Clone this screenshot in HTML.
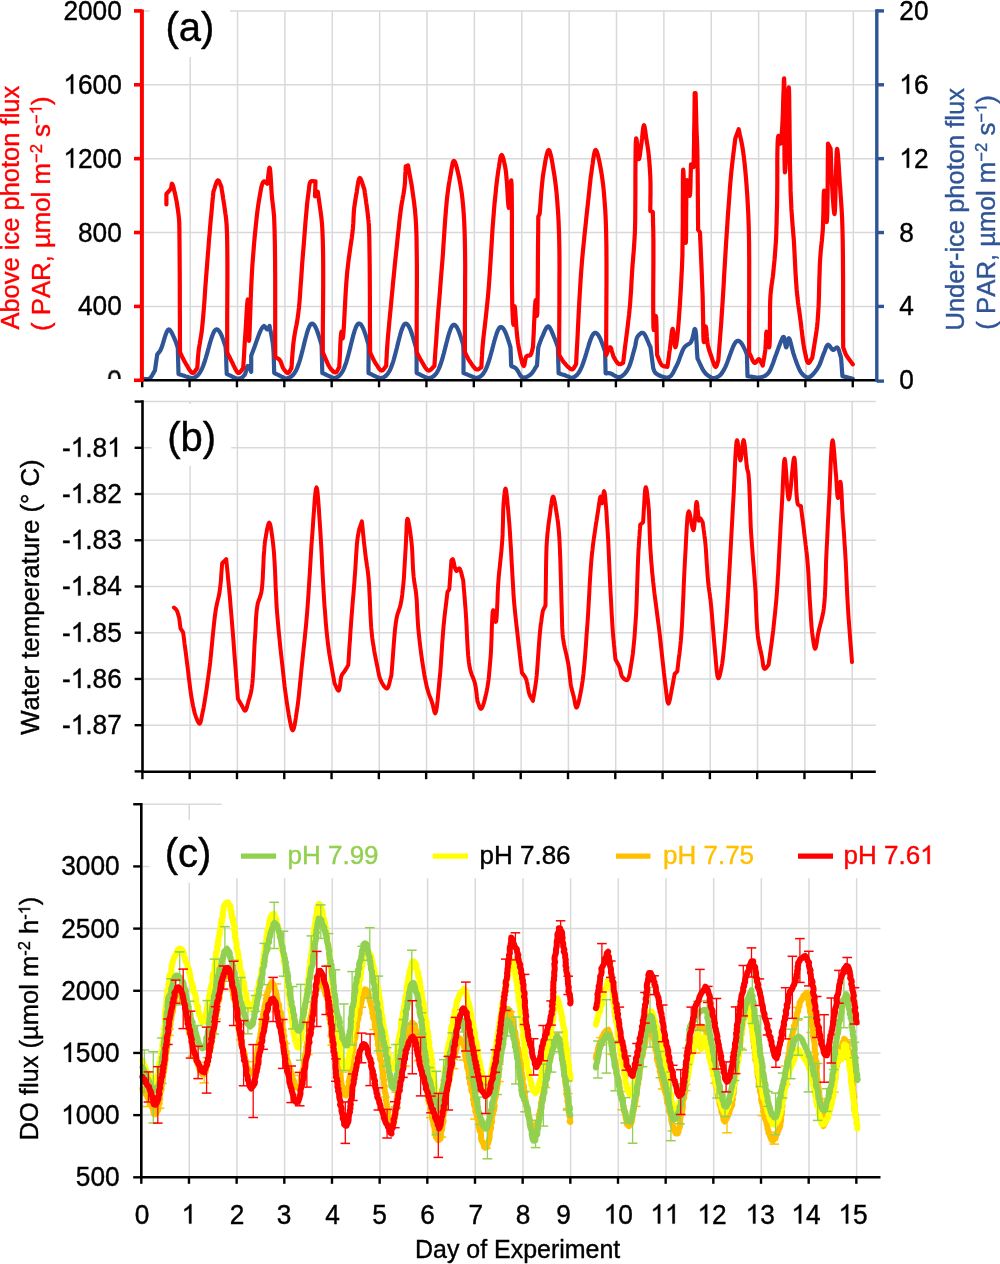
<!DOCTYPE html>
<html><head><meta charset="utf-8"><style>
html,body{margin:0;padding:0;background:#fff;}
body{width:1000px;height:1264px;overflow:hidden;}
svg{display:block;font-family:"Liberation Sans", sans-serif;will-change:transform;font-kerning:none;}
</style></head><body>
<svg width="1000" height="1264" viewBox="0 0 1000 1264">
<line x1="142.00" y1="306.42" x2="876.80" y2="306.42" stroke="#d9d9d9" stroke-width="1.5" />
<line x1="142.00" y1="232.54" x2="876.80" y2="232.54" stroke="#d9d9d9" stroke-width="1.5" />
<line x1="142.00" y1="158.66" x2="876.80" y2="158.66" stroke="#d9d9d9" stroke-width="1.5" />
<line x1="142.00" y1="84.78" x2="876.80" y2="84.78" stroke="#d9d9d9" stroke-width="1.5" />
<line x1="142.00" y1="10.90" x2="876.80" y2="10.90" stroke="#d9d9d9" stroke-width="1.5" />
<line x1="190.17" y1="10.90" x2="190.17" y2="380.30" stroke="#d9d9d9" stroke-width="1.5" />
<line x1="237.54" y1="10.90" x2="237.54" y2="380.30" stroke="#d9d9d9" stroke-width="1.5" />
<line x1="284.91" y1="10.90" x2="284.91" y2="380.30" stroke="#d9d9d9" stroke-width="1.5" />
<line x1="332.28" y1="10.90" x2="332.28" y2="380.30" stroke="#d9d9d9" stroke-width="1.5" />
<line x1="379.65" y1="10.90" x2="379.65" y2="380.30" stroke="#d9d9d9" stroke-width="1.5" />
<line x1="427.02" y1="10.90" x2="427.02" y2="380.30" stroke="#d9d9d9" stroke-width="1.5" />
<line x1="474.39" y1="10.90" x2="474.39" y2="380.30" stroke="#d9d9d9" stroke-width="1.5" />
<line x1="521.76" y1="10.90" x2="521.76" y2="380.30" stroke="#d9d9d9" stroke-width="1.5" />
<line x1="569.13" y1="10.90" x2="569.13" y2="380.30" stroke="#d9d9d9" stroke-width="1.5" />
<line x1="616.50" y1="10.90" x2="616.50" y2="380.30" stroke="#d9d9d9" stroke-width="1.5" />
<line x1="663.87" y1="10.90" x2="663.87" y2="380.30" stroke="#d9d9d9" stroke-width="1.5" />
<line x1="711.24" y1="10.90" x2="711.24" y2="380.30" stroke="#d9d9d9" stroke-width="1.5" />
<line x1="758.61" y1="10.90" x2="758.61" y2="380.30" stroke="#d9d9d9" stroke-width="1.5" />
<line x1="805.98" y1="10.90" x2="805.98" y2="380.30" stroke="#d9d9d9" stroke-width="1.5" />
<line x1="853.35" y1="10.90" x2="853.35" y2="380.30" stroke="#d9d9d9" stroke-width="1.5" />
<rect x="149.50" y="-6.00" width="80.50" height="63.00" fill="#fff"/>
<path d="M142.3,378.7 L143.7,378.8 L145.2,379.0 L146.6,379.1 L147.9,379.1 L149.2,378.7 L150.2,378.0 L151.0,377.0 L151.8,375.8 L152.6,374.5 L153.4,373.2 L154.1,371.8 L154.9,370.6 L157.2,354.6 L158.0,353.5 L158.9,352.5 L159.7,351.4 L160.6,350.0 L161.5,347.9 L162.5,345.0 L163.5,341.7 L164.5,338.2 L165.6,334.9 L166.6,332.1 L167.7,330.2 L168.7,329.4 L169.4,329.6 L170.2,330.3 L170.9,331.4 L171.7,332.7 L172.4,334.2 L173.1,335.7 L173.8,337.2 L174.4,338.5 L175.0,339.8 L175.5,341.1 L176.0,342.4 L176.4,343.7 L176.9,345.1 L177.3,346.4 L177.8,347.7 L178.5,374.0 L179.7,374.4 L181.0,374.8 L182.2,375.2 L183.5,375.6 L184.7,376.0 L185.9,376.4 L187.2,376.8 L188.6,377.3 L190.0,377.7 L191.1,378.0 L192.0,378.1 L192.6,378.1 L193.0,377.9 L193.5,377.8 L194.0,377.6 L194.5,377.4 L195.0,377.2 L195.5,376.9 L196.0,376.6 L196.5,376.3 L197.0,375.9 L197.5,375.4 L198.0,374.9 L198.5,374.4 L199.0,373.8 L199.5,373.1 L200.0,372.4 L200.5,371.5 L201.0,370.6 L201.5,369.6 L202.0,368.6 L202.5,367.4 L203.0,366.2 L203.5,364.9 L204.0,363.6 L204.3,362.6 L204.7,361.6 L205.0,360.6 L205.3,359.5 L205.7,358.4 L206.0,357.3 L206.3,356.2 L206.7,355.0 L207.0,353.9 L207.3,352.7 L207.7,351.5 L208.0,350.3 L208.3,349.0 L208.7,347.8 L209.0,346.6 L209.3,345.4 L209.7,344.2 L210.0,343.0 L210.3,341.9 L210.7,340.8 L211.0,339.6 L211.3,338.6 L211.7,337.6 L212.0,336.6 L212.5,335.2 L213.0,333.9 L213.5,332.8 L214.0,331.8 L214.5,331.0 L215.0,330.3 L215.5,329.9 L216.0,329.5 L216.5,329.4 L217.0,329.4 L217.5,329.6 L218.0,329.9 L218.5,330.4 L219.0,330.9 L219.5,331.6 L220.0,332.4 L220.5,333.3 L221.0,334.3 L221.5,335.4 L222.0,336.6 L222.5,337.9 L223.0,339.2 L223.3,340.2 L223.7,341.1 L224.0,342.1 L224.3,343.1 L224.7,344.1 L225.0,345.1 L225.3,345.8 L225.5,346.6 L225.7,348.4 L225.9,351.1 L226.1,354.4 L226.2,358.2 L226.3,362.2 L226.4,366.4 L226.6,370.3 L226.7,374.0 L228.2,374.7 L229.8,375.4 L231.4,376.2 L232.9,377.0 L234.5,377.7 L235.9,378.3 L237.3,378.6 L238.6,378.7 L240.0,378.4 L241.2,377.9 L242.4,377.2 L243.5,376.2 L244.4,375.2 L245.1,374.0 L245.6,372.5 L246.1,370.7 L246.5,369.0 L246.9,367.5 L247.3,366.4 L247.8,366.0 L248.4,366.4 L249.1,367.4 L249.8,368.9 L250.5,370.4 L251.2,371.8 L251.2,355.7 L252.8,351.6 L254.5,347.0 L256.2,342.1 L257.9,337.4 L259.5,333.1 L261.1,329.5 L262.6,327.1 L263.9,326.0 L264.8,326.4 L265.7,327.6 L266.5,328.9 L267.3,329.4 L268.1,328.7 L268.9,327.4 L269.6,326.0 L270.0,328.4 L270.5,330.8 L271.0,333.1 L271.4,335.5 L271.9,337.9 L272.3,340.3 L272.7,342.8 L273.0,345.4 L273.3,348.6 L273.5,351.9 L273.7,355.4 L273.8,358.9 L273.9,362.4 L274.0,366.0 L274.1,369.5 L274.2,373.0 L275.9,373.8 L277.7,374.7 L279.6,375.7 L281.5,376.7 L283.3,377.5 L284.8,378.2 L286.0,378.6 L286.8,378.7 L287.1,378.4 L287.4,378.1 L287.9,377.9 L288.4,377.8 L288.9,377.7 L289.4,377.5 L289.9,377.2 L290.4,377.0 L290.9,376.7 L291.4,376.4 L291.9,376.0 L292.4,375.5 L292.9,375.0 L293.4,374.5 L293.9,373.9 L294.4,373.2 L294.9,372.4 L295.4,371.6 L295.9,370.7 L296.4,369.7 L296.9,368.6 L297.4,367.4 L297.9,366.1 L298.4,364.8 L298.7,363.8 L299.1,362.8 L299.4,361.8 L299.7,360.7 L300.1,359.6 L300.4,358.4 L300.7,357.2 L301.1,356.0 L301.4,354.8 L301.7,353.5 L302.1,352.2 L302.4,350.9 L302.7,349.6 L303.1,348.3 L303.4,346.9 L303.7,345.6 L304.1,344.2 L304.4,342.8 L304.7,341.5 L305.1,340.2 L305.4,338.9 L305.7,337.6 L306.1,336.3 L306.4,335.1 L306.7,333.9 L307.1,332.7 L307.4,331.6 L307.7,330.6 L308.1,329.6 L308.4,328.7 L308.9,327.4 L309.4,326.3 L309.9,325.4 L310.4,324.6 L310.9,324.1 L311.4,323.8 L311.9,323.6 L312.4,323.6 L312.9,323.8 L313.4,324.2 L313.9,324.7 L314.4,325.3 L314.9,326.1 L315.4,327.0 L315.9,328.0 L316.4,329.1 L316.9,330.3 L317.4,331.7 L317.7,332.6 L318.1,333.6 L318.4,334.6 L318.7,335.6 L319.1,336.7 L319.4,337.8 L319.7,338.9 L320.1,340.0 L320.4,341.1 L320.8,342.4 L321.1,343.7 L321.4,344.6 L321.5,344.7 L321.5,344.9 L321.6,346.3 L321.7,348.8 L321.8,352.2 L321.9,356.2 L322.0,360.5 L322.1,364.9 L322.2,369.2 L322.3,373.0 L323.9,373.7 L325.6,374.5 L327.4,375.3 L329.2,376.1 L330.8,376.9 L332.3,377.5 L333.5,377.9 L334.4,378.1 L335.0,378.0 L335.4,377.8 L335.9,377.7 L336.4,377.5 L336.9,377.2 L337.4,377.0 L337.9,376.7 L338.4,376.4 L338.9,376.0 L339.4,375.5 L339.9,375.0 L340.4,374.5 L340.9,373.9 L341.4,373.2 L341.9,372.4 L342.4,371.6 L342.9,370.7 L343.4,369.7 L343.9,368.6 L344.4,367.4 L344.9,366.1 L345.4,364.8 L345.7,363.8 L346.1,362.8 L346.4,361.8 L346.7,360.7 L347.1,359.5 L347.4,358.4 L347.7,357.2 L348.1,356.0 L348.4,354.8 L348.7,353.5 L349.1,352.2 L349.4,350.9 L349.7,349.5 L350.1,348.2 L350.4,346.9 L350.7,345.5 L351.1,344.1 L351.4,342.8 L351.7,341.4 L352.1,340.1 L352.4,338.8 L352.7,337.5 L353.1,336.2 L353.4,335.0 L353.7,333.8 L354.1,332.7 L354.4,331.5 L354.7,330.5 L355.1,329.5 L355.4,328.6 L355.9,327.3 L356.4,326.2 L356.9,325.3 L357.4,324.5 L357.9,324.0 L358.4,323.6 L358.9,323.5 L359.4,323.6 L359.9,323.7 L360.4,324.1 L360.9,324.6 L361.4,325.2 L361.9,326.0 L362.4,326.9 L362.9,327.9 L363.4,329.0 L363.9,330.3 L364.4,331.6 L364.7,332.5 L365.1,333.5 L365.4,334.5 L365.7,335.5 L366.1,336.6 L366.4,337.7 L366.7,338.8 L367.1,339.9 L367.4,341.1 L367.7,342.0 L368.0,342.9 L368.3,344.2 L368.5,346.4 L368.6,349.3 L368.6,352.8 L368.6,356.8 L368.6,360.9 L368.5,365.1 L368.5,369.2 L368.5,373.0 L369.8,373.6 L371.1,374.2 L372.4,374.9 L373.7,375.5 L375.0,376.1 L376.2,376.7 L377.3,377.1 L378.2,377.5 L379.8,378.0 L381.1,378.1 L381.6,378.0 L382.1,377.8 L382.6,377.7 L383.1,377.5 L383.6,377.2 L384.1,377.0 L384.6,376.7 L385.1,376.4 L385.6,376.0 L386.1,375.5 L386.6,375.0 L387.1,374.5 L387.6,373.9 L388.1,373.2 L388.6,372.4 L389.1,371.6 L389.6,370.7 L390.1,369.7 L390.6,368.6 L391.1,367.4 L391.6,366.1 L392.1,364.8 L392.4,363.8 L392.8,362.8 L393.1,361.8 L393.4,360.7 L393.8,359.6 L394.1,358.4 L394.4,357.2 L394.8,356.0 L395.1,354.8 L395.4,353.5 L395.8,352.2 L396.1,350.9 L396.4,349.6 L396.8,348.3 L397.1,346.9 L397.4,345.6 L397.8,344.2 L398.1,342.8 L398.4,341.5 L398.8,340.2 L399.1,338.9 L399.4,337.6 L399.8,336.3 L400.1,335.1 L400.4,333.9 L400.8,332.7 L401.1,331.6 L401.4,330.6 L401.8,329.6 L402.1,328.7 L402.6,327.4 L403.1,326.3 L403.6,325.4 L404.1,324.6 L404.6,324.1 L405.1,323.8 L405.6,323.6 L406.1,323.6 L406.6,323.8 L407.1,324.2 L407.6,324.7 L408.1,325.3 L408.6,326.1 L409.1,327.0 L409.6,328.0 L410.1,329.1 L410.6,330.3 L411.1,331.7 L411.4,332.6 L411.8,333.6 L412.1,334.6 L412.4,335.6 L412.8,336.7 L413.1,337.8 L413.4,338.9 L413.8,340.0 L414.1,341.1 L414.4,342.3 L414.8,343.4 L415.1,344.6 L415.4,345.6 L415.8,346.7 L416.1,348.1 L416.3,350.1 L416.5,352.7 L416.5,355.7 L416.6,359.1 L416.6,362.6 L416.6,366.2 L416.6,369.7 L416.7,373.0 L417.9,373.6 L419.2,374.2 L420.5,374.9 L421.8,375.5 L423.1,376.1 L424.3,376.7 L425.3,377.1 L426.3,377.5 L427.5,377.8 L428.5,378.0 L429.3,378.1 L429.8,378.0 L430.3,377.8 L430.8,377.7 L431.3,377.5 L431.8,377.3 L432.3,377.0 L432.8,376.7 L433.3,376.4 L433.8,376.0 L434.3,375.6 L434.8,375.1 L435.3,374.6 L435.8,374.0 L436.3,373.3 L436.8,372.6 L437.3,371.8 L437.8,370.8 L438.3,369.9 L438.8,368.8 L439.3,367.6 L439.8,366.4 L440.3,365.1 L440.6,364.1 L441.0,363.1 L441.3,362.1 L441.6,361.1 L442.0,360.0 L442.3,358.9 L442.6,357.7 L443.0,356.5 L443.3,355.3 L443.6,354.1 L444.0,352.8 L444.3,351.5 L444.6,350.2 L445.0,348.9 L445.3,347.6 L445.6,346.3 L446.0,344.9 L446.3,343.6 L446.6,342.3 L447.0,341.0 L447.3,339.7 L447.6,338.5 L448.0,337.2 L448.3,336.0 L448.6,334.9 L449.0,333.7 L449.3,332.6 L449.6,331.7 L450.0,330.7 L450.3,329.8 L450.8,328.5 L451.3,327.4 L451.8,326.6 L452.3,325.8 L452.8,325.3 L453.3,324.9 L453.8,324.8 L454.3,324.8 L454.8,325.0 L455.3,325.4 L455.8,325.9 L456.3,326.5 L456.8,327.2 L457.3,328.1 L457.8,329.1 L458.3,330.2 L458.8,331.4 L459.3,332.7 L459.6,333.6 L460.0,334.6 L460.3,335.5 L460.6,336.6 L461.0,337.6 L461.3,338.6 L461.6,339.8 L462.0,340.9 L462.3,341.9 L462.7,343.1 L463.1,344.6 L463.3,346.8 L463.4,349.6 L463.5,353.1 L463.5,356.9 L463.5,361.0 L463.5,365.2 L463.5,369.3 L463.5,373.0 L464.9,373.6 L466.5,374.2 L468.0,374.9 L469.6,375.5 L471.1,376.1 L472.4,376.7 L473.6,377.1 L474.5,377.5 L475.5,377.9 L476.3,378.1 L476.8,378.0 L477.3,377.9 L477.8,377.7 L478.3,377.5 L478.8,377.3 L479.3,377.1 L479.8,376.8 L480.3,376.5 L480.8,376.1 L481.3,375.7 L481.8,375.3 L482.3,374.8 L482.8,374.2 L483.3,373.5 L483.8,372.8 L484.3,372.0 L484.8,371.2 L485.3,370.2 L485.8,369.2 L486.3,368.1 L486.8,366.9 L487.3,365.6 L487.8,364.2 L488.3,362.8 L488.6,361.8 L489.0,360.8 L489.3,359.7 L489.6,358.6 L490.0,357.4 L490.3,356.3 L490.6,355.1 L491.0,353.9 L491.3,352.6 L491.6,351.4 L492.0,350.1 L492.3,348.9 L492.6,347.6 L493.0,346.3 L493.3,345.1 L493.6,343.8 L494.0,342.5 L494.3,341.3 L494.6,340.1 L495.0,338.9 L495.3,337.8 L495.6,336.7 L496.0,335.6 L496.3,334.5 L496.8,333.1 L497.3,331.8 L497.8,330.6 L498.3,329.5 L498.8,328.7 L499.3,328.0 L499.8,327.5 L500.3,327.1 L500.8,327.0 L501.3,327.0 L501.8,327.2 L502.3,327.6 L502.8,328.0 L503.3,328.6 L503.8,329.3 L504.3,330.1 L504.8,331.1 L505.3,332.1 L505.8,333.3 L506.3,334.6 L506.8,335.9 L507.3,337.3 L507.6,338.3 L508.0,339.3 L508.3,340.3 L508.6,341.3 L509.0,342.4 L509.3,343.4 L509.7,344.6 L510.0,345.9 L510.3,346.7 L510.4,346.8 L510.4,347.0 L510.5,348.0 L510.6,349.7 L510.7,352.0 L510.8,354.7 L510.9,357.6 L511.0,360.6 L511.1,363.4 L511.2,366.0 L512.3,366.5 L513.5,367.0 L514.6,367.5 L515.8,368.3 L516.6,369.2 L517.5,370.4 L518.3,371.8 L519.1,373.3 L519.9,374.7 L520.8,376.0 L521.7,377.0 L522.7,377.5 L523.9,377.6 L525.2,377.4 L526.6,376.9 L527.9,376.3 L529.2,375.5 L530.4,374.6 L531.3,373.8 L532.2,372.8 L533.1,371.6 L533.9,370.4 L534.6,369.2 L535.4,367.9 L536.2,366.7 L537.0,365.5 L538.3,347.2 L538.8,345.9 L539.2,344.6 L539.7,343.3 L540.1,342.0 L540.6,340.7 L541.1,339.4 L541.6,338.1 L542.2,336.8 L542.9,335.3 L543.6,333.7 L544.3,331.9 L545.1,330.2 L545.9,328.7 L546.7,327.4 L547.4,326.6 L548.2,326.3 L548.9,326.6 L549.7,327.5 L550.4,328.7 L551.2,330.2 L551.9,331.9 L552.6,333.7 L553.3,335.3 L553.9,336.8 L554.5,338.1 L555.0,339.4 L555.5,340.7 L556.0,342.0 L556.5,343.3 L556.9,344.6 L557.4,345.9 L557.9,347.2 L558.6,373.3 L560.1,373.8 L561.6,374.3 L563.3,374.8 L564.9,375.3 L566.4,375.9 L567.7,376.3 L568.8,376.8 L569.6,377.2 L570.2,377.8 L570.6,378.2 L571.1,378.1 L571.6,378.0 L572.1,377.8 L572.6,377.7 L573.1,377.5 L573.6,377.3 L574.1,377.0 L574.6,376.7 L575.1,376.4 L575.6,376.1 L576.1,375.6 L576.6,375.2 L577.1,374.7 L577.6,374.1 L578.1,373.5 L578.6,372.8 L579.1,372.0 L579.6,371.2 L580.1,370.3 L580.6,369.3 L581.1,368.2 L581.6,367.1 L582.1,365.9 L582.6,364.6 L583.1,363.2 L583.6,361.8 L583.9,360.8 L584.3,359.8 L584.6,358.8 L584.9,357.7 L585.3,356.7 L585.6,355.6 L585.9,354.5 L586.3,353.3 L586.6,352.2 L586.9,351.1 L587.3,350.0 L587.6,348.8 L587.9,347.7 L588.3,346.6 L588.6,345.5 L588.9,344.4 L589.3,343.4 L589.6,342.4 L589.9,341.4 L590.3,340.4 L590.6,339.5 L591.1,338.2 L591.6,337.0 L592.1,336.0 L592.6,335.1 L593.1,334.3 L593.6,333.7 L594.1,333.2 L594.6,332.9 L595.1,332.8 L595.6,332.8 L596.1,333.0 L596.6,333.3 L597.1,333.7 L597.6,334.2 L598.1,334.9 L598.6,335.6 L599.1,336.5 L599.6,337.4 L600.1,338.4 L600.6,339.5 L601.1,340.7 L601.6,341.9 L602.1,343.3 L602.6,344.6 L603.1,346.0 L603.6,347.4 L603.9,348.4 L604.3,349.4 L604.6,350.3 L604.9,351.0 L605.1,351.7 L605.6,373.3 L606.7,373.3 L607.8,373.2 L608.9,373.2 L610.1,373.3 L611.3,373.7 L612.5,374.4 L613.9,375.2 L615.2,376.0 L616.6,376.7 L617.9,377.1 L619.2,377.2 L620.4,376.9 L621.6,376.3 L622.8,375.5 L623.9,374.5 L625.0,373.3 L626.0,372.1 L627.0,370.7 L628.3,368.5 L629.5,365.8 L630.6,362.7 L631.6,359.4 L632.5,356.0 L633.4,352.8 L634.2,349.8 L634.9,347.2 L635.3,345.7 L635.6,344.2 L635.8,342.7 L636.0,341.4 L636.3,340.1 L636.6,338.9 L637.0,337.8 L637.5,336.8 L638.4,335.6 L639.4,334.5 L640.5,333.5 L641.6,332.9 L642.7,332.8 L643.7,333.4 L644.7,334.6 L645.7,336.3 L646.6,338.4 L647.6,340.7 L648.6,343.0 L649.5,345.2 L650.5,347.2 L653.2,368.1 L653.7,369.4 L654.2,370.8 L654.8,372.1 L655.8,373.3 L656.9,374.1 L658.4,375.0 L660.1,375.8 L661.9,376.5 L663.8,377.1 L665.7,377.4 L667.3,377.5 L668.8,377.2 L670.1,376.5 L671.2,375.5 L672.2,374.1 L673.2,372.6 L674.1,370.8 L674.9,369.0 L675.8,367.2 L676.7,365.5 L677.7,363.4 L678.7,361.0 L679.6,358.4 L680.5,355.9 L681.5,353.4 L682.4,351.0 L683.4,348.9 L684.5,347.2 L685.6,346.1 L686.7,345.2 L687.9,344.5 L689.0,343.9 L690.1,343.1 L691.0,342.0 L691.7,340.5 L692.4,338.6 L692.9,336.4 L693.4,334.2 L693.8,332.2 L694.2,330.5 L694.5,329.3 L694.9,328.9 L695.4,329.8 L695.8,332.2 L696.2,335.8 L696.4,340.1 L696.7,344.9 L696.9,349.8 L697.2,354.5 L697.5,358.6 L698.5,360.5 L699.4,362.5 L700.3,364.5 L701.3,366.5 L702.2,368.5 L703.2,370.3 L704.3,371.9 L705.4,373.3 L706.5,374.4 L707.7,375.3 L709.1,376.2 L710.3,377.0 L711.5,377.6 L712.5,378.0 L713.3,378.3 L713.9,378.3 L714.3,378.1 L714.8,378.0 L715.3,377.9 L715.8,377.7 L716.3,377.5 L716.8,377.3 L717.3,377.1 L717.8,376.8 L718.3,376.5 L718.8,376.2 L719.3,375.8 L719.8,375.4 L720.3,374.9 L720.8,374.4 L721.3,373.8 L721.8,373.2 L722.3,372.5 L722.8,371.7 L723.3,370.9 L723.8,370.0 L724.3,369.1 L724.8,368.1 L725.3,367.1 L725.8,365.9 L726.3,364.8 L726.8,363.5 L727.3,362.3 L727.8,360.9 L728.3,359.6 L728.8,358.2 L729.3,356.8 L729.8,355.4 L730.3,354.0 L730.8,352.7 L731.3,351.3 L731.8,350.0 L732.3,348.7 L732.8,347.5 L733.3,346.3 L733.8,345.3 L734.3,344.3 L734.8,343.4 L735.3,342.7 L735.8,342.0 L736.3,341.5 L736.8,341.1 L737.3,340.9 L737.8,340.8 L738.3,340.8 L738.8,341.0 L739.3,341.2 L739.8,341.5 L740.3,342.0 L740.8,342.5 L741.3,343.1 L741.8,343.8 L742.3,344.6 L742.8,345.4 L743.3,346.4 L743.8,347.3 L744.3,348.4 L744.8,349.4 L745.3,350.5 L745.8,351.7 L746.3,352.9 L746.6,353.6 L746.9,354.3 L747.5,376.1 L749.1,376.3 L750.7,376.6 L752.4,376.9 L754.0,377.2 L755.6,377.4 L757.2,377.5 L758.7,377.6 L760.1,377.4 L761.6,377.1 L763.0,376.7 L764.3,376.1 L765.5,375.5 L766.7,374.6 L767.9,373.5 L769.1,371.9 L770.3,369.9 L771.3,367.5 L772.3,365.0 L773.3,362.4 L774.2,359.8 L775.0,357.4 L775.8,355.2 L776.4,353.7 L776.9,352.3 L777.4,351.0 L777.8,349.7 L778.3,348.4 L778.7,347.1 L779.2,345.9 L779.7,344.7 L780.3,343.1 L781.0,341.4 L781.7,339.7 L782.4,338.2 L783.0,337.2 L783.6,336.9 L784.0,337.4 L784.4,338.6 L784.7,340.3 L785.0,342.2 L785.3,344.1 L785.6,345.8 L785.9,346.9 L786.2,347.4 L786.6,346.9 L786.9,345.6 L787.2,343.8 L787.6,341.8 L788.0,340.0 L788.4,338.7 L788.8,338.2 L789.3,338.7 L789.9,340.0 L790.5,342.1 L791.1,344.6 L791.8,347.3 L792.5,350.1 L793.2,352.8 L794.0,355.2 L794.8,357.6 L795.7,360.1 L796.6,362.7 L797.6,365.3 L798.6,367.7 L799.6,370.0 L800.7,371.9 L801.9,373.5 L802.9,374.6 L804.0,375.6 L805.0,376.4 L806.2,377.0 L807.3,377.4 L808.4,377.4 L809.5,377.1 L810.7,376.4 L811.9,375.4 L813.2,374.1 L814.4,372.7 L815.5,371.3 L816.6,369.8 L817.6,368.3 L818.6,366.6 L819.6,364.6 L820.4,362.6 L821.2,360.5 L821.9,358.3 L822.7,356.3 L823.4,354.3 L824.1,352.6 L824.8,351.0 L825.4,349.2 L826.0,347.6 L826.6,346.2 L827.3,345.2 L828.0,344.7 L828.9,345.1 L830.0,346.4 L831.1,348.0 L832.2,349.4 L833.2,350.0 L834.2,349.6 L835.2,348.6 L836.2,347.7 L837.1,347.4 L837.7,347.9 L838.3,348.8 L838.8,350.0 L839.3,351.5 L839.7,353.1 L840.2,354.8 L840.6,356.4 L841.1,357.8 L842.4,376.1 L852.8,378.7" fill="none" stroke="#2f5597" stroke-width="4.2" stroke-linejoin="round" stroke-linecap="round" />
<path d="M166.4,204.4 L166.4,194.0 L167.4,192.9 L168.4,191.7 L169.4,190.6 L170.3,189.4 L171.0,188.3 L171.4,186.9 L171.6,185.4 L171.7,184.2 L172.0,183.7 L172.3,184.0 L172.7,184.9 L173.2,186.3 L173.7,188.1 L174.1,190.0 L174.6,192.1 L175.1,194.1 L175.5,196.0 L176.0,198.6 L176.6,201.4 L177.1,204.3 L177.5,207.4 L178.0,210.5 L178.4,213.5 L178.7,216.3 L179.0,219.0 L179.1,220.8 L179.2,222.4 L179.3,223.9 L179.3,225.4 L179.3,226.9 L179.4,228.6 L179.4,230.6 L179.4,233.0 L179.5,242.3 L179.6,254.6 L179.7,269.2 L179.8,285.3 L179.8,302.4 L179.9,319.7 L179.9,336.6 L180.0,352.3 L180.7,353.7 L181.4,355.2 L182.1,356.7 L182.9,358.2 L183.6,359.6 L184.3,361.1 L185.1,362.4 L185.9,363.8 L186.7,365.1 L187.6,366.6 L188.4,368.2 L189.3,369.6 L190.2,370.9 L191.1,372.0 L192.0,372.7 L192.8,373.0 L193.7,372.7 L194.6,371.8 L195.5,370.5 L196.4,369.2 L197.3,368.0 L197.4,366.0 L197.6,364.1 L197.7,362.1 L197.8,360.2 L197.9,358.2 L198.1,356.2 L198.3,354.1 L198.5,352.0 L198.8,349.4 L199.2,346.8 L199.7,344.1 L200.1,341.4 L200.6,338.6 L201.1,335.6 L201.6,332.4 L202.0,329.0 L202.6,323.0 L203.2,316.4 L203.8,309.2 L204.4,301.6 L204.9,293.9 L205.4,286.3 L206.0,278.9 L206.5,272.0 L207.0,266.2 L207.4,260.6 L207.8,255.1 L208.3,249.6 L208.7,244.2 L209.1,238.9 L209.6,233.6 L210.0,228.4 L210.4,223.7 L210.8,219.0 L211.3,214.4 L211.7,209.9 L212.1,205.3 L212.5,200.8 L213.0,196.3 L213.4,191.7 L214.0,190.1 L214.6,188.3 L215.1,186.4 L215.7,184.6 L216.3,182.9 L216.9,181.6 L217.4,180.7 L218.0,180.3 L218.6,180.6 L219.1,181.5 L219.7,182.8 L220.3,184.3 L220.8,185.7 L221.4,187.0 L221.8,189.9 L222.3,192.8 L222.8,195.8 L223.2,198.8 L223.7,201.7 L224.1,204.5 L224.5,207.3 L224.9,210.0 L225.2,212.0 L225.4,213.8 L225.7,215.5 L225.9,217.2 L226.1,219.0 L226.3,221.0 L226.5,223.3 L226.7,226.0 L227.1,236.0 L227.3,249.1 L227.4,264.6 L227.4,281.6 L227.3,299.7 L227.2,317.9 L227.2,335.7 L227.2,352.3 L227.8,353.6 L228.4,354.9 L229.1,356.2 L229.7,357.5 L230.3,358.8 L231.0,360.1 L231.7,361.5 L232.5,363.0 L233.3,364.8 L234.2,366.7 L235.1,368.5 L236.0,370.2 L236.9,371.6 L237.7,372.6 L238.6,373.0 L239.5,372.7 L240.5,371.8 L241.4,370.5 L242.3,369.2 L243.2,368.0 L243.5,363.4 L243.8,358.9 L244.1,354.3 L244.3,349.7 L244.6,345.2 L244.9,340.6 L245.2,336.1 L245.5,331.7 L245.8,327.1 L246.1,322.0 L246.4,316.6 L246.7,311.4 L247.0,306.8 L247.3,303.0 L247.6,300.4 L247.8,299.5 L248.0,301.3 L248.2,306.0 L248.3,312.6 L248.4,320.2 L248.5,327.7 L248.7,334.3 L248.8,339.0 L249.0,340.8 L249.3,338.5 L249.6,332.4 L249.9,323.3 L250.3,312.1 L250.7,299.7 L251.2,287.1 L251.8,275.3 L252.4,265.0 L253.1,256.2 L253.8,247.1 L254.6,237.8 L255.5,228.8 L256.4,220.1 L257.3,212.0 L258.3,204.8 L259.3,198.6 L259.8,195.7 L260.3,192.8 L260.8,190.0 L261.3,187.4 L261.9,185.2 L262.5,183.3 L263.2,182.0 L263.9,181.4 L265.0,181.7 L266.1,182.7 L267.3,183.7 L267.6,181.5 L267.9,178.9 L268.2,176.3 L268.5,173.7 L268.8,171.3 L269.1,169.4 L269.3,168.2 L269.6,167.7 L269.9,168.6 L270.2,170.9 L270.5,174.4 L270.8,178.6 L271.1,183.3 L271.3,188.0 L271.6,192.5 L271.9,196.3 L272.2,199.2 L272.5,201.8 L272.8,204.3 L273.1,206.7 L273.4,209.4 L273.7,212.2 L274.0,215.5 L274.2,219.3 L274.6,231.0 L274.9,245.6 L275.1,262.4 L275.2,280.9 L275.2,300.2 L275.2,319.8 L275.2,338.9 L275.3,356.9 L276.5,357.7 L277.7,358.4 L278.9,359.3 L279.9,360.3 L280.6,361.4 L281.1,362.8 L281.6,364.2 L282.1,365.7 L282.6,367.1 L283.3,368.3 L284.1,369.5 L285.1,370.8 L286.1,371.9 L287.0,372.7 L287.9,373.0 L288.8,372.4 L289.7,371.2 L290.5,369.7 L291.4,368.3 L291.7,364.9 L291.9,361.4 L292.2,358.0 L292.4,354.5 L292.7,351.1 L293.0,347.7 L293.3,344.2 L293.7,340.8 L294.2,337.4 L294.7,334.2 L295.3,330.9 L295.9,327.7 L296.6,324.4 L297.2,320.9 L297.8,317.2 L298.3,313.3 L299.0,307.2 L299.6,300.5 L300.1,293.5 L300.6,286.2 L301.2,278.7 L301.7,271.0 L302.2,263.5 L302.8,256.0 L303.5,247.8 L304.2,238.9 L304.9,229.7 L305.6,220.6 L306.4,211.9 L307.1,204.0 L307.9,197.1 L308.6,191.7 L308.9,189.9 L309.0,188.2 L309.2,186.6 L309.4,185.2 L309.6,184.0 L309.9,182.9 L310.3,182.0 L310.9,181.4 L311.9,181.0 L313.0,181.1 L314.3,181.3 L315.5,181.4 L315.0,196.3 L317.8,191.7 L318.4,196.1 L319.0,200.4 L319.6,204.5 L320.2,208.7 L320.8,213.0 L321.4,217.7 L321.9,222.8 L322.3,228.4 L322.8,240.4 L323.1,254.2 L323.2,269.5 L323.2,285.8 L323.1,302.6 L322.9,319.6 L322.8,336.3 L322.8,352.3 L323.7,354.4 L324.7,356.6 L325.6,358.8 L326.5,361.0 L327.5,363.1 L328.4,365.1 L329.4,366.8 L330.4,368.3 L331.4,369.6 L332.5,370.7 L333.5,371.7 L334.6,372.3 L335.5,372.5 L336.3,372.0 L337.1,371.1 L337.8,369.8 L338.5,368.4 L339.2,367.2 L339.5,362.3 L339.8,356.7 L340.1,350.8 L340.3,345.0 L340.6,339.8 L340.9,335.6 L341.2,332.8 L341.5,331.7 L341.7,332.4 L341.9,334.1 L342.1,336.1 L342.4,337.8 L342.6,338.5 L343.1,336.4 L343.6,330.9 L344.1,322.7 L344.6,312.7 L345.2,301.7 L345.8,290.7 L346.5,280.5 L347.2,272.0 L347.9,266.0 L348.6,260.0 L349.4,254.2 L350.2,248.5 L351.0,243.0 L351.8,237.8 L352.4,232.9 L352.9,228.4 L353.1,225.7 L353.3,223.2 L353.4,220.9 L353.5,218.6 L353.6,216.5 L353.7,214.3 L353.8,212.2 L354.0,210.0 L354.2,207.9 L354.5,205.9 L354.8,203.9 L355.1,201.9 L355.4,199.9 L355.7,198.0 L356.0,196.0 L356.4,194.0 L356.8,191.8 L357.1,189.3 L357.5,186.6 L357.9,184.0 L358.3,181.7 L358.8,179.8 L359.3,178.5 L359.8,178.0 L360.3,178.3 L360.8,179.2 L361.4,180.6 L362.0,182.2 L362.6,184.1 L363.2,186.0 L363.8,187.8 L364.4,189.4 L364.8,192.6 L365.3,195.9 L365.8,199.2 L366.2,202.5 L366.7,205.8 L367.1,208.9 L367.5,211.9 L367.8,214.7 L368.0,216.5 L368.2,218.1 L368.3,219.5 L368.5,220.9 L368.6,222.4 L368.8,224.1 L368.9,226.1 L369.0,228.4 L369.3,237.9 L369.5,250.6 L369.7,265.8 L369.8,282.6 L369.9,300.4 L369.9,318.4 L370.0,336.0 L370.1,352.3 L370.8,353.8 L371.5,355.3 L372.2,356.8 L372.9,358.3 L373.6,359.8 L374.4,361.2 L375.1,362.5 L375.9,363.8 L376.8,365.2 L377.8,366.7 L378.7,368.2 L379.7,369.4 L380.7,370.3 L381.6,370.6 L382.5,370.3 L383.5,369.5 L384.4,368.3 L385.3,367.1 L386.2,366.0 L386.3,363.5 L386.4,361.1 L386.5,358.7 L386.7,356.3 L386.8,353.8 L386.9,351.2 L387.1,348.4 L387.3,345.4 L387.7,340.1 L388.2,334.3 L388.8,328.0 L389.4,321.4 L390.0,314.7 L390.7,308.0 L391.3,301.3 L391.9,295.0 L392.5,289.1 L393.0,283.3 L393.6,277.5 L394.2,271.7 L394.7,266.0 L395.3,260.3 L395.9,254.6 L396.5,249.0 L397.1,243.6 L397.6,238.2 L398.2,232.8 L398.8,227.4 L399.3,222.1 L399.9,217.0 L400.5,212.3 L401.1,207.8 L401.5,204.9 L402.0,202.1 L402.5,199.6 L402.9,197.1 L403.4,194.6 L403.8,192.2 L404.2,189.7 L404.5,187.2 L404.8,184.6 L405.0,182.0 L405.1,179.5 L405.2,176.9 L405.3,174.3 L405.5,171.7 L405.6,169.1 L405.7,166.5 L408.0,165.4 L408.6,168.7 L409.2,171.9 L409.8,175.1 L410.4,178.4 L411.0,181.6 L411.6,184.9 L412.1,188.3 L412.6,191.7 L413.1,195.4 L413.6,199.0 L414.1,202.6 L414.5,206.2 L415.0,210.1 L415.3,214.3 L415.7,218.8 L416.0,223.9 L416.5,235.9 L416.7,250.0 L416.9,265.8 L416.9,282.8 L416.8,300.4 L416.7,318.2 L416.7,335.7 L416.7,352.3 L417.4,353.6 L418.1,354.9 L418.8,356.3 L419.4,357.6 L420.2,358.9 L420.9,360.2 L421.7,361.5 L422.5,362.8 L423.3,364.2 L424.1,365.7 L425.0,367.1 L425.9,368.4 L426.8,369.5 L427.7,370.3 L428.6,370.6 L429.7,370.4 L430.9,369.5 L432.1,368.4 L433.2,367.1 L434.4,366.0 L434.8,360.0 L435.2,354.1 L435.6,348.1 L436.1,342.2 L436.5,336.2 L436.9,330.2 L437.3,324.1 L437.8,317.9 L438.3,311.0 L438.9,304.0 L439.5,296.9 L440.1,289.7 L440.6,282.5 L441.2,275.2 L441.8,267.9 L442.4,260.6 L443.0,252.8 L443.5,244.6 L444.1,236.2 L444.6,227.9 L445.2,219.7 L445.8,212.0 L446.4,204.9 L447.0,198.6 L447.4,195.2 L447.8,192.0 L448.2,189.0 L448.6,186.1 L449.0,183.4 L449.5,180.8 L449.9,178.2 L450.4,175.7 L450.8,173.5 L451.2,171.0 L451.6,168.6 L452.0,166.2 L452.5,164.1 L452.9,162.4 L453.4,161.2 L453.9,160.8 L454.5,161.3 L455.2,162.7 L456.0,164.9 L456.8,167.6 L457.5,170.7 L458.3,174.0 L459.0,177.2 L459.6,180.3 L460.4,184.5 L461.1,189.0 L461.8,193.6 L462.4,198.5 L462.9,203.7 L463.4,209.3 L463.8,215.2 L464.2,221.6 L464.7,234.4 L465.0,249.1 L465.2,265.2 L465.1,282.4 L465.1,300.1 L464.9,317.9 L464.9,335.5 L464.9,352.3 L465.6,353.6 L466.3,355.0 L466.9,356.3 L467.6,357.6 L468.3,359.0 L469.1,360.3 L469.9,361.5 L470.7,362.7 L471.5,363.9 L472.4,365.2 L473.3,366.4 L474.2,367.5 L475.1,368.5 L475.9,369.1 L476.8,369.5 L478.0,369.4 L479.1,368.8 L480.3,367.9 L481.4,367.2 L481.5,364.8 L481.6,362.6 L481.7,360.3 L481.8,358.1 L482.0,355.7 L482.1,353.3 L482.3,350.6 L482.5,347.7 L483.0,342.2 L483.6,336.2 L484.4,329.6 L485.2,322.6 L486.0,315.4 L486.8,307.9 L487.6,300.3 L488.3,292.7 L489.1,283.0 L489.8,272.5 L490.5,261.7 L491.2,250.6 L491.9,239.7 L492.5,229.1 L493.3,219.1 L494.0,210.0 L494.5,204.0 L495.1,198.2 L495.7,192.5 L496.2,187.1 L496.8,182.0 L497.4,177.2 L498.0,172.8 L498.6,168.8 L499.0,166.5 L499.3,164.2 L499.7,161.9 L500.0,159.7 L500.4,157.8 L500.8,156.3 L501.2,155.4 L501.6,155.0 L502.1,155.3 L502.5,156.3 L503.1,157.8 L503.6,159.7 L504.1,161.9 L504.6,164.2 L505.1,166.5 L505.5,168.8 L506.1,173.2 L506.6,179.0 L507.1,185.4 L507.5,191.9 L507.8,198.0 L508.2,203.1 L508.5,206.5 L508.9,207.8 L509.2,206.6 L509.5,203.5 L509.8,199.1 L510.2,194.0 L510.4,189.0 L510.7,184.6 L511.0,181.5 L511.2,180.3 L511.6,184.8 L511.8,196.8 L511.9,214.1 L511.9,234.7 L511.9,256.3 L511.9,276.9 L512.1,294.3 L512.3,306.4 L512.4,309.7 L512.6,313.0 L512.7,316.1 L512.9,318.9 L513.0,321.3 L513.2,323.2 L513.4,324.4 L513.5,324.8 L513.6,324.0 L513.8,321.9 L513.9,319.0 L514.0,315.6 L514.1,312.2 L514.3,309.3 L514.4,307.2 L514.6,306.4 L514.9,307.5 L515.2,310.6 L515.5,315.1 L515.9,320.7 L516.3,326.7 L516.8,332.8 L517.4,338.3 L518.0,343.0 L518.6,346.5 L519.3,350.2 L520.1,354.1 L520.9,357.7 L521.7,361.0 L522.4,363.6 L523.2,365.4 L523.8,366.0 L524.2,365.6 L524.5,364.4 L524.8,362.7 L525.1,360.8 L525.5,359.0 L525.9,357.4 L526.5,356.3 L527.7,355.7 L529.2,355.6 L530.4,355.0 L531.0,354.1 L531.5,352.9 L531.9,351.5 L532.3,350.1 L532.6,348.6 L533.0,347.2 L533.3,340.7 L533.7,333.2 L534.0,325.4 L534.4,317.8 L534.7,310.9 L535.1,305.3 L535.4,301.6 L535.7,300.2 L535.9,300.9 L536.0,302.7 L536.2,305.2 L536.4,308.1 L536.6,310.9 L536.7,313.5 L536.9,315.2 L537.0,315.9 L537.3,313.0 L537.5,305.0 L537.7,293.2 L537.8,278.7 L537.9,262.6 L538.0,246.1 L538.2,230.5 L538.3,216.7 L539.6,214.0 L540.1,208.7 L540.5,203.3 L540.9,197.8 L541.3,192.3 L541.8,187.0 L542.3,181.8 L542.8,176.9 L543.5,172.3 L544.1,168.9 L544.7,165.2 L545.3,161.4 L546.0,157.9 L546.7,154.8 L547.4,152.3 L548.0,150.6 L548.7,150.0 L549.4,150.6 L550.0,152.2 L550.7,154.7 L551.4,157.8 L552.1,161.3 L552.7,165.0 L553.3,168.8 L553.9,172.3 L554.7,177.4 L555.4,182.7 L556.1,188.4 L556.7,194.3 L557.2,200.7 L557.7,207.3 L558.2,214.4 L558.6,221.9 L559.1,235.4 L559.4,250.6 L559.5,267.1 L559.4,284.4 L559.4,302.3 L559.3,320.2 L559.2,337.9 L559.2,355.0 L559.9,356.1 L560.6,357.3 L561.3,358.5 L562.0,359.6 L562.7,360.8 L563.5,361.9 L564.4,362.9 L565.4,364.0 L566.5,365.3 L567.7,366.6 L569.0,367.7 L570.1,368.6 L571.2,369.2 L572.2,369.4 L573.1,369.0 L573.9,368.0 L574.6,366.7 L575.4,365.4 L576.1,364.2 L576.7,352.2 L577.4,340.0 L578.0,327.7 L578.6,315.4 L579.2,303.3 L579.9,291.5 L580.6,279.9 L581.4,268.9 L582.1,260.0 L582.9,251.2 L583.8,242.6 L584.6,234.1 L585.5,226.0 L586.3,218.1 L587.1,210.7 L587.9,203.6 L588.4,198.8 L588.9,194.1 L589.4,189.7 L589.8,185.4 L590.3,181.2 L590.7,177.3 L591.3,173.4 L591.8,169.7 L592.2,166.7 L592.7,163.5 L593.1,160.2 L593.6,157.1 L594.1,154.3 L594.6,152.0 L595.1,150.6 L595.7,150.0 L596.3,150.5 L596.9,151.9 L597.6,154.1 L598.3,156.8 L599.0,159.9 L599.7,163.2 L600.3,166.5 L600.9,169.7 L601.7,174.4 L602.4,179.4 L603.1,184.7 L603.7,190.4 L604.2,196.3 L604.7,202.7 L605.2,209.5 L605.6,216.7 L606.1,230.5 L606.4,246.1 L606.5,263.2 L606.5,281.3 L606.4,299.9 L606.3,318.7 L606.2,337.2 L606.2,355.0 L606.9,353.5 L607.5,351.8 L608.2,350.1 L608.8,348.6 L609.5,347.6 L610.1,347.2 L610.6,347.5 L611.1,348.4 L611.5,349.7 L611.9,351.3 L612.4,353.0 L612.9,354.7 L613.4,356.3 L614.0,357.6 L614.8,358.9 L615.6,360.3 L616.5,361.7 L617.4,362.8 L618.3,363.7 L619.2,364.2 L620.5,364.1 L621.8,363.5 L623.1,362.9 L624.0,356.0 L624.8,349.0 L625.7,341.9 L626.6,334.9 L627.5,327.9 L628.3,321.1 L629.1,314.4 L629.7,308.0 L630.2,302.8 L630.5,297.7 L630.9,292.8 L631.2,288.0 L631.4,283.2 L631.7,278.4 L632.0,273.7 L632.3,268.9 L632.6,264.4 L633.0,260.1 L633.3,255.8 L633.7,251.6 L634.0,247.2 L634.3,242.6 L634.6,237.7 L634.9,232.3 L635.2,221.4 L635.3,207.5 L635.4,192.0 L635.4,176.3 L635.5,161.7 L635.6,149.6 L635.8,141.4 L636.2,138.3 L636.5,139.2 L636.8,141.5 L637.1,144.9 L637.4,148.7 L637.7,152.6 L638.1,155.9 L638.4,158.3 L638.8,159.2 L639.1,158.8 L639.4,157.5 L639.8,155.7 L640.1,153.4 L640.4,150.9 L640.8,148.3 L641.1,145.8 L641.4,143.6 L641.7,141.1 L642.1,138.3 L642.4,135.2 L642.7,132.3 L643.0,129.6 L643.3,127.3 L643.7,125.8 L644.0,125.3 L644.3,125.7 L644.6,126.9 L644.9,128.7 L645.3,130.9 L645.6,133.3 L645.9,135.7 L646.2,138.0 L646.5,140.0 L646.8,141.6 L647.0,143.2 L647.3,144.7 L647.6,146.2 L647.8,147.8 L648.0,149.4 L648.3,151.2 L648.5,153.0 L648.8,155.9 L649.1,159.0 L649.4,162.3 L649.6,165.8 L649.9,169.3 L650.1,172.9 L650.3,176.5 L650.4,180.0 L650.5,183.8 L650.5,187.6 L650.5,191.5 L650.5,195.4 L650.4,199.3 L650.4,203.2 L650.3,207.1 L650.3,211.0 L652.8,212.0 L652.9,215.4 L653.0,218.6 L653.0,221.8 L653.1,225.0 L653.2,228.3 L653.3,231.9 L653.3,235.7 L653.4,240.0 L653.4,250.0 L653.4,263.1 L653.3,277.9 L653.2,293.0 L653.2,307.2 L653.3,318.9 L653.4,327.0 L653.8,330.0 L654.0,329.4 L654.2,327.8 L654.5,325.5 L654.8,323.0 L655.1,320.4 L655.3,318.1 L655.6,316.5 L655.8,315.9 L656.1,317.1 L656.3,320.2 L656.5,324.9 L656.6,330.6 L656.7,336.9 L656.8,343.4 L657.0,349.6 L657.1,355.0 L657.7,356.4 L658.3,357.9 L658.9,359.4 L659.5,360.9 L660.1,362.3 L660.8,363.6 L661.5,364.7 L662.3,365.5 L663.5,366.2 L664.8,366.4 L666.2,366.6 L667.5,366.8 L667.8,364.3 L668.1,361.9 L668.5,359.4 L668.8,357.0 L669.1,354.5 L669.4,352.1 L669.8,349.6 L670.1,347.2 L670.4,344.6 L670.7,341.7 L671.1,338.7 L671.4,335.7 L671.7,333.1 L672.0,330.9 L672.4,329.4 L672.7,328.9 L673.0,329.7 L673.4,331.8 L673.7,334.7 L674.0,338.1 L674.4,341.4 L674.7,344.4 L675.0,346.4 L675.4,347.2 L676.2,345.0 L677.1,338.8 L678.0,329.7 L678.9,318.4 L679.8,305.8 L680.6,292.8 L681.3,280.2 L681.9,268.9 L682.4,255.7 L682.6,240.3 L682.8,223.9 L682.8,207.6 L682.9,192.9 L682.9,180.8 L683.0,172.7 L683.2,169.7 L683.5,172.8 L683.8,181.1 L684.1,192.8 L684.5,206.2 L684.9,219.7 L685.2,231.4 L685.5,239.7 L685.8,242.8 L686.0,240.1 L686.1,233.0 L686.1,223.0 L686.2,211.5 L686.3,200.0 L686.4,189.9 L686.7,182.8 L687.1,180.1 L687.4,180.8 L687.7,182.5 L688.0,185.1 L688.4,187.9 L688.8,190.8 L689.1,193.4 L689.4,195.1 L689.7,195.8 L690.0,194.9 L690.2,192.3 L690.4,188.6 L690.5,184.0 L690.6,178.9 L690.7,173.7 L690.9,168.8 L691.0,164.4 L693.6,167.0 L693.7,161.7 L693.8,156.4 L693.9,151.0 L694.0,145.6 L694.1,140.3 L694.1,135.1 L694.2,130.0 L694.3,125.0 L694.4,120.8 L694.4,116.7 L694.5,112.7 L694.5,108.7 L694.6,104.8 L694.6,100.9 L694.7,97.0 L694.7,93.0 L695.6,93.0 L695.7,97.0 L695.8,101.1 L695.9,105.2 L696.0,109.2 L696.1,113.3 L696.2,117.3 L696.3,121.2 L696.4,125.0 L696.5,128.2 L696.6,131.3 L696.7,134.3 L696.9,137.3 L697.0,140.3 L697.1,143.4 L697.2,146.6 L697.3,150.0 L697.4,154.6 L697.5,159.3 L697.5,164.3 L697.6,169.4 L697.7,174.6 L697.7,179.8 L697.8,184.9 L697.8,190.0 L697.8,195.0 L697.9,199.9 L697.9,204.9 L698.0,209.9 L698.0,214.8 L698.0,219.8 L698.1,224.7 L698.1,229.7 L700.0,232.4 L700.3,240.3 L700.7,248.3 L701.0,256.3 L701.4,264.3 L701.7,272.2 L702.0,280.1 L702.3,287.7 L702.6,295.1 L702.8,301.9 L702.9,309.5 L703.1,317.3 L703.2,324.9 L703.3,331.6 L703.4,337.1 L703.6,340.8 L703.9,342.1 L704.1,341.4 L704.3,339.7 L704.5,337.2 L704.7,334.3 L705.0,331.4 L705.2,328.9 L705.5,327.2 L705.7,326.5 L705.9,327.1 L706.2,328.6 L706.4,330.8 L706.6,333.5 L706.8,336.5 L707.1,339.5 L707.4,342.3 L707.8,344.7 L708.2,346.5 L708.6,348.2 L709.1,349.9 L709.6,351.6 L710.2,353.2 L710.7,354.8 L711.3,356.3 L711.8,357.8 L712.3,359.4 L712.9,361.1 L713.5,362.8 L714.1,364.4 L714.6,365.8 L715.2,366.7 L715.7,367.0 L716.3,366.5 L716.8,365.3 L717.3,363.7 L717.8,361.9 L718.3,360.4 L718.8,353.9 L719.3,347.5 L719.8,341.1 L720.3,334.7 L720.8,328.2 L721.3,321.7 L721.7,315.0 L722.2,308.2 L722.7,300.4 L723.2,292.4 L723.7,284.4 L724.1,276.2 L724.6,267.9 L725.1,259.6 L725.6,251.2 L726.1,242.9 L726.7,234.0 L727.3,224.8 L727.9,215.5 L728.6,206.2 L729.3,197.0 L729.9,188.2 L730.6,179.9 L731.3,172.3 L731.8,167.5 L732.3,163.0 L732.8,158.7 L733.3,154.6 L733.8,150.6 L734.3,146.6 L734.8,142.6 L735.3,138.4 L738.7,129.2 L739.3,131.9 L739.8,134.5 L740.4,137.0 L741.0,139.6 L741.5,142.2 L742.1,145.0 L742.6,148.1 L743.1,151.4 L743.9,157.5 L744.7,164.2 L745.4,171.5 L746.1,179.2 L746.7,187.4 L747.3,195.9 L747.8,204.9 L748.3,214.1 L748.8,228.8 L749.1,244.9 L749.2,262.1 L749.2,280.0 L749.2,298.3 L749.1,316.7 L749.1,334.9 L749.1,352.6 L749.8,354.0 L750.6,355.6 L751.3,357.3 L752.0,359.0 L752.7,360.5 L753.5,361.7 L754.2,362.6 L754.9,363.0 L755.9,362.4 L756.9,361.1 L757.9,359.7 L758.8,359.1 L759.5,359.5 L760.2,360.4 L760.8,361.6 L761.4,363.0 L762.1,364.4 L762.7,365.6 L763.0,363.7 L763.4,361.7 L763.7,359.8 L764.1,357.9 L764.4,355.9 L764.7,354.0 L765.0,352.0 L765.3,350.0 L765.5,347.5 L765.7,344.7 L765.8,341.7 L766.0,338.7 L766.1,336.0 L766.2,333.8 L766.4,332.3 L766.6,331.7 L766.9,332.4 L767.2,334.1 L767.5,336.7 L767.9,339.6 L768.3,342.4 L768.6,345.0 L768.9,346.7 L769.2,347.4 L769.5,345.7 L769.8,341.1 L769.9,334.4 L769.9,326.3 L770.0,317.6 L770.0,308.9 L770.2,301.2 L770.5,295.1 L770.8,292.1 L771.1,289.3 L771.4,286.8 L771.7,284.3 L772.1,281.9 L772.4,279.5 L772.8,277.0 L773.1,274.2 L773.5,270.6 L773.8,266.9 L774.2,263.1 L774.6,259.2 L774.9,255.3 L775.2,251.2 L775.5,247.1 L775.8,242.9 L776.1,238.0 L776.3,233.1 L776.4,228.1 L776.6,223.0 L776.7,217.7 L776.8,212.3 L777.0,206.8 L777.1,201.1 L777.2,192.7 L777.3,182.8 L777.3,172.0 L777.3,161.3 L777.4,151.4 L777.6,143.4 L777.9,137.9 L778.4,135.8 L778.7,136.4 L779.1,137.8 L779.4,139.7 L779.8,141.6 L780.2,143.0 L780.5,143.6 L780.8,143.1 L781.1,141.8 L781.3,139.8 L781.5,137.2 L781.7,134.4 L781.9,131.3 L782.1,128.2 L782.3,125.3 L782.6,119.8 L782.9,112.9 L783.1,105.1 L783.3,97.3 L783.6,90.0 L783.8,83.9 L783.9,79.8 L784.1,78.3 L784.3,82.3 L784.4,93.0 L784.4,108.0 L784.4,125.3 L784.4,142.6 L784.5,157.6 L784.7,168.3 L784.9,172.3 L785.1,171.4 L785.4,168.8 L785.6,164.9 L785.9,160.0 L786.2,154.6 L786.5,149.0 L786.8,143.4 L787.0,138.4 L787.3,131.8 L787.5,124.0 L787.8,115.6 L788.0,107.2 L788.2,99.5 L788.4,93.2 L788.6,89.0 L788.8,87.4 L789.0,90.0 L789.2,97.1 L789.3,107.5 L789.5,120.2 L789.6,133.8 L789.8,147.4 L789.9,159.7 L790.1,169.7 L790.2,175.3 L790.4,180.6 L790.5,185.6 L790.6,190.4 L790.8,195.0 L791.0,199.6 L791.2,204.2 L791.4,208.9 L791.7,213.2 L792.0,217.4 L792.3,221.6 L792.6,225.7 L793.0,229.9 L793.3,234.1 L793.7,238.4 L794.0,242.9 L794.3,248.5 L794.6,254.3 L794.9,260.4 L795.2,266.5 L795.5,272.6 L795.9,278.6 L796.3,284.4 L796.7,289.9 L797.1,294.1 L797.6,298.2 L798.0,302.2 L798.5,306.0 L799.1,309.8 L799.6,313.6 L800.1,317.4 L800.6,321.2 L801.1,324.9 L801.5,328.8 L802.0,332.6 L802.4,336.4 L802.9,340.1 L803.4,343.6 L803.9,347.0 L804.5,350.0 L804.9,352.1 L805.4,354.2 L805.8,356.3 L806.3,358.4 L806.7,360.1 L807.3,361.6 L807.8,362.6 L808.4,363.0 L809.1,362.7 L809.9,361.8 L810.7,360.4 L811.5,359.0 L812.3,357.8 L813.0,353.3 L813.7,348.9 L814.4,344.5 L815.1,340.1 L815.8,335.7 L816.5,331.1 L817.1,326.3 L817.6,321.2 L818.1,314.0 L818.6,306.2 L818.9,297.9 L819.1,289.4 L819.3,281.0 L819.6,272.9 L819.8,265.3 L820.2,258.5 L820.5,254.4 L820.8,250.6 L821.2,247.1 L821.5,243.7 L821.9,240.4 L822.2,237.0 L822.5,233.5 L822.8,229.8 L823.0,224.7 L823.2,218.6 L823.4,212.1 L823.5,205.7 L823.6,199.8 L823.7,195.0 L823.9,191.8 L824.1,190.6 L824.4,191.9 L824.7,195.5 L825.0,200.5 L825.4,206.3 L825.8,212.1 L826.1,217.1 L826.4,220.7 L826.7,222.0 L827.0,219.7 L827.3,213.4 L827.4,204.1 L827.6,192.6 L827.7,179.9 L827.8,166.9 L827.9,154.5 L828.0,143.6 L830.6,148.8 L830.8,153.1 L830.9,157.3 L831.0,161.6 L831.2,165.9 L831.3,170.2 L831.5,174.4 L831.7,178.6 L831.9,182.8 L832.2,187.2 L832.5,192.2 L832.8,197.4 L833.2,202.5 L833.5,207.0 L833.9,210.7 L834.2,213.2 L834.5,214.1 L834.9,211.3 L835.2,203.9 L835.5,193.4 L835.8,181.4 L836.1,169.5 L836.4,159.0 L836.7,151.6 L837.1,148.8 L837.4,149.8 L837.7,152.4 L838.1,156.4 L838.4,161.3 L838.8,166.7 L839.1,172.4 L839.5,177.9 L839.8,182.8 L840.2,187.9 L840.5,193.0 L840.9,198.1 L841.2,203.3 L841.6,208.7 L841.9,214.4 L842.2,220.6 L842.4,227.2 L842.7,239.4 L842.9,253.1 L843.0,268.0 L843.1,283.6 L843.1,299.7 L843.1,316.0 L843.1,332.0 L843.2,347.4 L843.7,348.7 L844.1,350.0 L844.6,351.3 L845.1,352.6 L845.6,353.9 L846.3,355.2 L847.0,356.3 L847.7,357.5 L848.5,358.6 L849.4,359.7 L850.2,360.9 L851.1,362.0 L852.0,363.2 L852.8,364.3" fill="none" stroke="#ff0000" stroke-width="4.2" stroke-linejoin="round" stroke-linecap="round" />
<line x1="142.00" y1="380.30" x2="876.80" y2="380.30" stroke="#000" stroke-width="2.6" />
<line x1="142.20" y1="380.30" x2="142.20" y2="387.30" stroke="#000" stroke-width="2.4" />
<line x1="189.57" y1="380.30" x2="189.57" y2="387.30" stroke="#000" stroke-width="2.4" />
<line x1="236.94" y1="380.30" x2="236.94" y2="387.30" stroke="#000" stroke-width="2.4" />
<line x1="284.31" y1="380.30" x2="284.31" y2="387.30" stroke="#000" stroke-width="2.4" />
<line x1="331.68" y1="380.30" x2="331.68" y2="387.30" stroke="#000" stroke-width="2.4" />
<line x1="379.05" y1="380.30" x2="379.05" y2="387.30" stroke="#000" stroke-width="2.4" />
<line x1="426.42" y1="380.30" x2="426.42" y2="387.30" stroke="#000" stroke-width="2.4" />
<line x1="473.79" y1="380.30" x2="473.79" y2="387.30" stroke="#000" stroke-width="2.4" />
<line x1="521.16" y1="380.30" x2="521.16" y2="387.30" stroke="#000" stroke-width="2.4" />
<line x1="568.53" y1="380.30" x2="568.53" y2="387.30" stroke="#000" stroke-width="2.4" />
<line x1="615.90" y1="380.30" x2="615.90" y2="387.30" stroke="#000" stroke-width="2.4" />
<line x1="663.27" y1="380.30" x2="663.27" y2="387.30" stroke="#000" stroke-width="2.4" />
<line x1="710.64" y1="380.30" x2="710.64" y2="387.30" stroke="#000" stroke-width="2.4" />
<line x1="758.01" y1="380.30" x2="758.01" y2="387.30" stroke="#000" stroke-width="2.4" />
<line x1="805.38" y1="380.30" x2="805.38" y2="387.30" stroke="#000" stroke-width="2.4" />
<line x1="852.75" y1="380.30" x2="852.75" y2="387.30" stroke="#000" stroke-width="2.4" />
<line x1="141.90" y1="9.40" x2="141.90" y2="381.80" stroke="#ff0000" stroke-width="4" />
<line x1="134.00" y1="380.30" x2="142.00" y2="380.30" stroke="#ff0000" stroke-width="3.6" />
<line x1="134.00" y1="306.42" x2="142.00" y2="306.42" stroke="#ff0000" stroke-width="3.6" />
<line x1="134.00" y1="232.54" x2="142.00" y2="232.54" stroke="#ff0000" stroke-width="3.6" />
<line x1="134.00" y1="158.66" x2="142.00" y2="158.66" stroke="#ff0000" stroke-width="3.6" />
<line x1="134.00" y1="84.78" x2="142.00" y2="84.78" stroke="#ff0000" stroke-width="3.6" />
<line x1="134.00" y1="10.90" x2="142.00" y2="10.90" stroke="#ff0000" stroke-width="3.6" />
<line x1="876.80" y1="9.20" x2="876.80" y2="382.00" stroke="#2f5597" stroke-width="3.4" />
<line x1="876.80" y1="381.10" x2="884.00" y2="381.10" stroke="#2f5597" stroke-width="3.4" />
<line x1="876.80" y1="306.42" x2="884.00" y2="306.42" stroke="#2f5597" stroke-width="3.4" />
<line x1="876.80" y1="232.54" x2="884.00" y2="232.54" stroke="#2f5597" stroke-width="3.4" />
<line x1="876.80" y1="158.66" x2="884.00" y2="158.66" stroke="#2f5597" stroke-width="3.4" />
<line x1="876.80" y1="84.78" x2="884.00" y2="84.78" stroke="#2f5597" stroke-width="3.4" />
<line x1="876.80" y1="10.90" x2="884.00" y2="10.90" stroke="#2f5597" stroke-width="3.4" />
<text transform="translate(121.80,315.42) scale(0.965,1)" font-size="27.2" text-anchor="end" fill="#000" stroke="#000" stroke-width="0.4">400</text>
<text transform="translate(121.80,241.54) scale(0.965,1)" font-size="27.2" text-anchor="end" fill="#000" stroke="#000" stroke-width="0.4">800</text>
<text transform="translate(121.80,167.66) scale(0.965,1)" font-size="27.2" text-anchor="end" fill="#000" stroke="#000" stroke-width="0.4"> 200</text>
<path d="M73.19,167.66 L70.88,167.66 L70.88,152.43 Q70.05,153.25 68.66,154.07 Q67.38,154.83 66.27,155.28 L66.27,152.97 Q68.20,152.03 69.64,150.77 Q71.07,149.50 71.66,148.19 L73.19,148.19 Z" fill="#000" stroke="#000" stroke-width="0.4"/>
<text transform="translate(121.80,93.78) scale(0.965,1)" font-size="27.2" text-anchor="end" fill="#000" stroke="#000" stroke-width="0.4"> 600</text>
<path d="M73.19,93.78 L70.88,93.78 L70.88,78.55 Q70.05,79.37 68.66,80.19 Q67.38,80.95 66.27,81.40 L66.27,79.09 Q68.20,78.15 69.64,76.89 Q71.07,75.62 71.66,74.31 L73.19,74.31 Z" fill="#000" stroke="#000" stroke-width="0.4"/>
<text transform="translate(121.80,19.90) scale(0.965,1)" font-size="27.2" text-anchor="end" fill="#000" stroke="#000" stroke-width="0.4">2000</text>
<svg x="0" y="0" width="200" height="378.8" overflow="hidden"><text transform="translate(121.8,389.30) scale(0.965,1)" font-size="27.2" text-anchor="end" stroke="#000" stroke-width="0.4">0</text></svg>
<text transform="translate(899.30,389.30) scale(0.965,1)" font-size="27.2" text-anchor="start" fill="#000" stroke="#000" stroke-width="0.4">0</text>
<text transform="translate(899.30,315.42) scale(0.965,1)" font-size="27.2" text-anchor="start" fill="#000" stroke="#000" stroke-width="0.4">4</text>
<text transform="translate(899.30,241.54) scale(0.965,1)" font-size="27.2" text-anchor="start" fill="#000" stroke="#000" stroke-width="0.4">8</text>
<text transform="translate(899.30,167.66) scale(0.965,1)" font-size="27.2" text-anchor="start" fill="#000" stroke="#000" stroke-width="0.4"> 2</text>
<path d="M909.08,167.66 L906.77,167.66 L906.77,152.43 Q905.94,153.25 904.55,154.07 Q903.27,154.83 902.16,155.28 L902.16,152.97 Q904.09,152.03 905.53,150.77 Q906.96,149.50 907.55,148.19 L909.08,148.19 Z" fill="#000" stroke="#000" stroke-width="0.4"/>
<text transform="translate(899.30,93.78) scale(0.965,1)" font-size="27.2" text-anchor="start" fill="#000" stroke="#000" stroke-width="0.4"> 6</text>
<path d="M909.08,93.78 L906.77,93.78 L906.77,78.55 Q905.94,79.37 904.55,80.19 Q903.27,80.95 902.16,81.40 L902.16,79.09 Q904.09,78.15 905.53,76.89 Q906.96,75.62 907.55,74.31 L909.08,74.31 Z" fill="#000" stroke="#000" stroke-width="0.4"/>
<text transform="translate(899.30,19.90) scale(0.965,1)" font-size="27.2" text-anchor="start" fill="#000" stroke="#000" stroke-width="0.4">20</text>
<text transform="translate(19.2,329.6) rotate(-90)" font-size="25.5" fill="#ff0000" stroke="#ff0000" stroke-width="0.4">Above ice photon flux</text>
<g transform="translate(49.60,331.00) rotate(-90)"><text x="0" y="0" fill="#ff0000" stroke="#ff0000" stroke-width="0.4"><tspan font-size="25.75" dy="-0.00">( PAR, µmol m</tspan><tspan font-size="16.66" dy="-8.09">−2</tspan><tspan font-size="25.75" dy="8.09"> s</tspan><tspan font-size="16.66" dy="-8.09">− </tspan><tspan font-size="25.75" dy="8.09">)</tspan></text><path d="M222.88,-8.09 L221.41,-8.09 L221.41,-17.42 Q220.88,-16.92 220.00,-16.41 Q219.19,-15.95 218.48,-15.67 L218.48,-17.09 Q219.71,-17.66 220.62,-18.44 Q221.53,-19.21 221.91,-20.02 L222.88,-20.02 Z" fill="#ff0000" stroke="#ff0000" stroke-width="0.4"/></g>
<text transform="translate(963.8,330.5) rotate(-90)" font-size="25.5" fill="#2f5597" stroke="#2f5597" stroke-width="0.4">Under-ice  photon flux</text>
<g transform="translate(994.60,329.70) rotate(-90)"><text x="0" y="0" fill="#2f5597" stroke="#2f5597" stroke-width="0.4"><tspan font-size="25.75" dy="-0.00">( PAR, µmol m</tspan><tspan font-size="16.66" dy="-8.09">−2</tspan><tspan font-size="25.75" dy="8.09"> s</tspan><tspan font-size="16.66" dy="-8.09">− </tspan><tspan font-size="25.75" dy="8.09">)</tspan></text><path d="M222.88,-8.09 L221.41,-8.09 L221.41,-17.42 Q220.88,-16.92 220.00,-16.41 Q219.19,-15.95 218.48,-15.67 L218.48,-17.09 Q219.71,-17.66 220.62,-18.44 Q221.53,-19.21 221.91,-20.02 L222.88,-20.02 Z" fill="#2f5597" stroke="#2f5597" stroke-width="0.4"/></g>
<text x="165.40" y="40.80" font-size="40" text-anchor="start" fill="#000"  stroke="#000" stroke-width="0.4">(a)</text>
<line x1="142.50" y1="401.57" x2="875.80" y2="401.57" stroke="#d9d9d9" stroke-width="1.5" />
<line x1="142.50" y1="447.80" x2="875.80" y2="447.80" stroke="#d9d9d9" stroke-width="1.5" />
<line x1="142.50" y1="494.03" x2="875.80" y2="494.03" stroke="#d9d9d9" stroke-width="1.5" />
<line x1="142.50" y1="540.26" x2="875.80" y2="540.26" stroke="#d9d9d9" stroke-width="1.5" />
<line x1="142.50" y1="586.49" x2="875.80" y2="586.49" stroke="#d9d9d9" stroke-width="1.5" />
<line x1="142.50" y1="632.72" x2="875.80" y2="632.72" stroke="#d9d9d9" stroke-width="1.5" />
<line x1="142.50" y1="678.95" x2="875.80" y2="678.95" stroke="#d9d9d9" stroke-width="1.5" />
<line x1="142.50" y1="725.18" x2="875.80" y2="725.18" stroke="#d9d9d9" stroke-width="1.5" />
<line x1="190.09" y1="401.57" x2="190.09" y2="771.70" stroke="#d9d9d9" stroke-width="1.5" />
<line x1="237.38" y1="401.57" x2="237.38" y2="771.70" stroke="#d9d9d9" stroke-width="1.5" />
<line x1="284.67" y1="401.57" x2="284.67" y2="771.70" stroke="#d9d9d9" stroke-width="1.5" />
<line x1="331.96" y1="401.57" x2="331.96" y2="771.70" stroke="#d9d9d9" stroke-width="1.5" />
<line x1="379.25" y1="401.57" x2="379.25" y2="771.70" stroke="#d9d9d9" stroke-width="1.5" />
<line x1="426.54" y1="401.57" x2="426.54" y2="771.70" stroke="#d9d9d9" stroke-width="1.5" />
<line x1="473.83" y1="401.57" x2="473.83" y2="771.70" stroke="#d9d9d9" stroke-width="1.5" />
<line x1="521.12" y1="401.57" x2="521.12" y2="771.70" stroke="#d9d9d9" stroke-width="1.5" />
<line x1="568.41" y1="401.57" x2="568.41" y2="771.70" stroke="#d9d9d9" stroke-width="1.5" />
<line x1="615.70" y1="401.57" x2="615.70" y2="771.70" stroke="#d9d9d9" stroke-width="1.5" />
<line x1="662.99" y1="401.57" x2="662.99" y2="771.70" stroke="#d9d9d9" stroke-width="1.5" />
<line x1="710.28" y1="401.57" x2="710.28" y2="771.70" stroke="#d9d9d9" stroke-width="1.5" />
<line x1="757.57" y1="401.57" x2="757.57" y2="771.70" stroke="#d9d9d9" stroke-width="1.5" />
<line x1="804.86" y1="401.57" x2="804.86" y2="771.70" stroke="#d9d9d9" stroke-width="1.5" />
<line x1="852.15" y1="401.57" x2="852.15" y2="771.70" stroke="#d9d9d9" stroke-width="1.5" />
<rect x="151.40" y="404.00" width="79.80" height="61.80" fill="#fff"/>
<path d="M173.9,607.5 L174.8,608.3 L175.8,609.1 L176.6,610.2 L177.1,611.2 L177.6,612.5 L178.0,613.8 L178.4,615.2 L178.8,616.6 L179.2,618.0 L180.5,628.4 L183.1,632.3 L183.6,636.0 L184.1,639.7 L184.5,643.4 L185.0,647.1 L185.5,650.8 L186.0,654.6 L186.5,658.4 L187.0,662.4 L187.6,667.2 L188.2,672.2 L188.8,677.5 L189.5,682.7 L190.1,687.9 L190.8,692.9 L191.5,697.4 L192.2,701.5 L192.7,703.9 L193.1,706.1 L193.6,708.2 L194.0,710.3 L194.5,712.2 L195.0,714.0 L195.5,715.6 L196.1,717.2 L196.8,718.9 L197.5,720.7 L198.2,722.2 L198.9,723.3 L199.5,723.7 L200.0,723.4 L200.4,722.5 L200.8,721.3 L201.2,719.7 L201.5,717.9 L201.9,716.0 L202.3,714.0 L202.7,712.0 L203.5,708.1 L204.3,703.6 L205.1,698.6 L206.0,693.2 L206.8,687.6 L207.6,681.8 L208.4,676.0 L209.2,670.2 L210.1,663.0 L210.9,655.2 L211.7,647.0 L212.5,638.7 L213.3,630.6 L214.1,623.0 L214.9,616.1 L215.7,610.2 L216.2,607.4 L216.7,605.0 L217.2,602.7 L217.7,600.6 L218.2,598.6 L218.7,596.5 L219.2,594.3 L219.6,591.9 L220.0,588.6 L220.4,585.2 L220.8,581.6 L221.1,578.0 L221.3,574.3 L221.6,570.5 L221.9,566.8 L222.2,563.2 L226.2,559.2 L226.7,564.2 L227.2,569.1 L227.7,574.0 L228.1,578.8 L228.6,583.8 L229.1,588.9 L229.6,594.2 L230.1,599.7 L230.7,607.3 L231.4,615.4 L232.1,624.0 L232.8,632.7 L233.5,641.4 L234.1,649.8 L234.7,657.7 L235.3,665.0 L235.7,669.8 L236.0,674.2 L236.3,678.5 L236.7,682.6 L237.0,686.7 L237.3,690.7 L237.6,694.7 L237.9,698.9 L238.6,700.0 L239.2,701.1 L239.9,702.3 L240.5,703.4 L241.2,704.5 L241.8,705.5 L242.5,706.8 L243.2,708.2 L243.9,709.5 L244.6,710.4 L245.2,710.7 L245.7,710.3 L246.2,709.4 L246.7,708.1 L247.1,706.5 L247.5,704.8 L248.0,703.1 L248.4,701.5 L248.8,700.0 L249.3,698.6 L249.7,697.2 L250.2,695.7 L250.6,694.1 L251.0,692.4 L251.3,690.6 L251.7,688.5 L252.3,683.8 L252.8,678.2 L253.2,671.9 L253.6,665.1 L253.9,658.2 L254.2,651.4 L254.5,644.9 L254.9,638.9 L255.2,634.2 L255.5,629.6 L255.7,625.0 L255.9,620.5 L256.2,616.2 L256.5,612.1 L257.0,608.3 L257.5,604.9 L257.9,603.0 L258.4,601.4 L258.9,599.9 L259.5,598.5 L260.0,597.0 L260.5,595.5 L261.0,593.8 L261.4,591.9 L262.0,587.9 L262.4,583.1 L262.8,577.8 L263.0,572.3 L263.3,566.8 L263.5,561.5 L263.7,556.7 L264.0,552.7 L264.2,550.7 L264.3,549.0 L264.4,547.4 L264.5,545.9 L264.7,544.4 L264.8,542.9 L265.0,541.4 L265.3,539.7 L265.7,537.4 L266.1,534.8 L266.6,532.0 L267.1,529.2 L267.7,526.7 L268.2,524.6 L268.7,523.2 L269.2,522.7 L269.7,523.3 L270.3,524.9 L270.8,527.2 L271.3,530.3 L271.8,533.7 L272.3,537.4 L272.8,541.2 L273.2,544.9 L273.9,551.7 L274.4,559.5 L274.9,568.0 L275.3,577.1 L275.6,586.4 L276.1,595.6 L276.5,604.5 L277.1,612.8 L277.7,619.7 L278.3,626.5 L278.9,633.1 L279.6,639.7 L280.2,646.2 L280.9,652.5 L281.6,658.8 L282.3,665.0 L282.9,670.5 L283.5,676.1 L284.1,681.6 L284.7,687.0 L285.4,692.2 L286.1,697.3 L286.8,702.2 L287.5,706.8 L288.1,710.4 L288.7,714.3 L289.4,718.2 L290.1,721.9 L290.8,725.2 L291.4,727.9 L292.1,729.7 L292.7,730.3 L293.2,729.8 L293.8,728.5 L294.3,726.5 L294.8,724.0 L295.3,721.1 L295.8,718.0 L296.2,715.0 L296.7,712.0 L297.4,707.2 L298.1,701.9 L298.8,696.1 L299.4,690.0 L300.0,683.8 L300.7,677.4 L301.3,671.1 L301.9,665.0 L302.6,658.7 L303.2,652.4 L303.9,646.1 L304.6,639.7 L305.2,633.3 L305.9,626.7 L306.5,619.9 L307.1,612.8 L307.8,603.6 L308.5,593.9 L309.1,583.7 L309.8,573.3 L310.4,563.0 L311.0,553.0 L311.6,543.4 L312.3,534.4 L312.8,527.3 L313.3,519.6 L313.9,511.8 L314.4,504.3 L314.9,497.6 L315.5,492.3 L316.0,488.7 L316.5,487.4 L317.0,488.6 L317.5,491.7 L317.9,496.5 L318.4,502.4 L318.9,509.1 L319.3,516.0 L319.8,522.9 L320.2,529.2 L320.7,537.2 L321.2,545.9 L321.7,555.0 L322.1,564.3 L322.6,573.6 L323.1,582.8 L323.6,591.5 L324.1,599.7 L324.5,605.8 L325.0,611.6 L325.4,617.2 L325.8,622.7 L326.3,628.1 L326.8,633.4 L327.4,638.8 L328.0,644.1 L328.7,649.1 L329.4,654.1 L330.2,659.0 L331.1,663.9 L331.9,668.7 L332.8,673.6 L333.7,678.4 L334.5,683.3 L335.2,684.7 L335.9,686.3 L336.6,687.9 L337.3,689.3 L338.0,690.3 L338.6,690.6 L339.1,690.0 L339.5,688.6 L339.9,686.6 L340.2,684.2 L340.5,681.6 L340.8,679.1 L341.2,677.0 L341.7,675.4 L342.3,674.2 L343.0,673.3 L343.7,672.5 L344.4,671.5 L345.0,670.5 L345.7,669.5 L346.3,668.4 L347.0,667.2 L347.6,666.1 L348.3,665.0 L348.6,660.1 L348.9,655.3 L349.2,650.5 L349.5,645.7 L349.9,640.8 L350.2,635.9 L350.5,630.9 L350.9,625.8 L351.3,619.8 L351.8,613.6 L352.3,607.3 L352.8,600.9 L353.4,594.5 L353.9,588.2 L354.4,582.1 L354.8,576.2 L355.2,571.2 L355.5,566.2 L355.8,561.1 L356.1,556.2 L356.4,551.5 L356.7,547.1 L357.0,543.2 L357.4,539.7 L357.6,538.1 L357.8,536.6 L358.1,535.3 L358.3,534.0 L358.5,532.9 L358.7,531.7 L359.0,530.5 L359.2,529.2 L361.9,521.4 L362.3,525.3 L362.7,529.3 L363.1,533.3 L363.5,537.2 L363.9,541.2 L364.3,545.1 L364.8,548.9 L365.2,552.7 L365.6,556.0 L366.0,559.2 L366.5,562.2 L366.9,565.3 L367.4,568.4 L367.8,571.6 L368.2,575.1 L368.6,578.8 L369.1,584.8 L369.4,591.5 L369.8,598.6 L370.1,606.0 L370.4,613.4 L370.8,620.6 L371.2,627.4 L371.8,633.7 L372.3,638.1 L372.9,642.4 L373.6,646.6 L374.2,650.6 L374.9,654.5 L375.6,658.1 L376.3,661.7 L377.0,665.0 L377.5,667.3 L377.9,669.5 L378.3,671.6 L378.7,673.6 L379.1,675.5 L379.6,677.4 L380.2,679.1 L380.9,680.7 L381.6,682.2 L382.5,683.7 L383.4,685.2 L384.3,686.6 L385.3,687.6 L386.1,688.3 L386.9,688.5 L387.6,688.0 L388.2,686.9 L388.8,685.4 L389.3,683.5 L389.8,681.4 L390.3,679.2 L390.9,677.2 L391.4,675.4 L392.0,667.9 L392.6,660.1 L393.2,652.1 L393.8,644.1 L394.4,636.5 L395.0,629.5 L395.8,623.2 L396.6,618.0 L397.1,615.9 L397.5,614.1 L398.1,612.5 L398.6,611.0 L399.1,609.6 L399.6,608.2 L400.1,606.7 L400.5,605.0 L400.9,602.9 L401.3,600.8 L401.7,598.7 L402.0,596.5 L402.3,594.2 L402.5,591.8 L402.8,589.3 L403.1,586.7 L403.5,582.5 L403.9,577.8 L404.2,572.8 L404.5,567.6 L404.8,562.4 L405.1,557.2 L405.4,552.2 L405.7,547.5 L405.9,543.3 L406.1,538.7 L406.3,533.9 L406.5,529.3 L406.6,525.2 L406.9,521.9 L407.1,519.6 L407.5,518.8 L407.9,519.4 L408.4,521.2 L408.9,524.0 L409.5,527.3 L410.1,531.1 L410.6,535.0 L411.1,538.8 L411.5,542.3 L411.9,546.3 L412.2,550.6 L412.4,555.0 L412.6,559.5 L412.8,564.0 L413.0,568.3 L413.3,572.4 L413.6,576.2 L413.9,578.7 L414.2,581.0 L414.5,583.2 L414.9,585.3 L415.2,587.4 L415.6,589.6 L415.9,591.9 L416.2,594.5 L416.6,598.7 L416.9,603.1 L417.1,607.9 L417.3,612.8 L417.6,618.0 L417.9,623.2 L418.3,628.4 L418.8,633.7 L419.5,640.1 L420.3,646.9 L421.2,653.9 L422.2,661.1 L423.3,668.0 L424.3,674.6 L425.5,680.6 L426.6,685.9 L427.3,688.7 L428.1,691.3 L428.9,693.8 L429.7,696.1 L430.5,698.2 L431.3,700.3 L432.0,702.3 L432.6,704.2 L433.0,705.8 L433.4,707.6 L433.8,709.3 L434.2,710.9 L434.5,712.1 L434.9,713.0 L435.2,713.3 L435.8,712.3 L436.4,709.6 L437.0,705.5 L437.6,700.5 L438.1,694.8 L438.7,689.0 L439.2,683.2 L439.7,678.0 L440.3,671.9 L440.8,665.4 L441.2,658.7 L441.7,651.8 L442.1,645.0 L442.6,638.3 L443.1,631.9 L443.6,625.8 L444.1,621.2 L444.5,616.8 L445.0,612.5 L445.5,608.4 L446.0,604.3 L446.5,600.2 L447.0,596.1 L447.5,591.9 L449.3,589.3 L451.4,560.5 L452.1,559.6 L452.7,559.2 L453.1,559.7 L453.4,560.9 L453.8,562.4 L454.1,564.1 L454.4,565.8 L454.8,567.1 L455.3,568.8 L455.9,570.3 L456.6,571.0 L457.4,570.3 L458.3,569.0 L459.2,568.4 L459.7,568.8 L460.3,569.8 L460.8,571.2 L461.3,572.9 L461.7,574.8 L462.2,576.7 L462.7,578.5 L463.2,580.1 L463.5,584.1 L463.8,588.1 L464.2,592.0 L464.5,595.9 L464.8,599.9 L465.1,604.0 L465.5,608.3 L465.8,612.8 L466.2,619.2 L466.6,626.3 L466.9,633.8 L467.3,641.4 L467.7,648.9 L468.2,655.9 L468.9,662.3 L469.7,667.6 L470.3,670.0 L470.9,672.2 L471.6,674.2 L472.3,676.0 L473.0,677.7 L473.7,679.5 L474.4,681.3 L474.9,683.3 L475.4,685.5 L475.8,687.7 L476.1,690.0 L476.4,692.3 L476.7,694.6 L476.9,696.9 L477.2,699.2 L477.5,701.5 L478.1,702.9 L478.6,704.5 L479.2,706.2 L479.7,707.6 L480.3,708.5 L480.9,708.9 L481.6,708.4 L482.4,707.1 L483.1,705.1 L483.9,702.6 L484.7,699.8 L485.4,696.8 L486.1,693.9 L486.7,691.1 L487.4,687.4 L488.0,683.6 L488.6,679.5 L489.0,675.2 L489.4,670.8 L489.8,666.3 L490.2,661.8 L490.6,657.2 L491.0,651.1 L491.3,643.8 L491.6,636.0 L491.8,628.4 L492.1,621.3 L492.4,615.6 L492.7,611.7 L493.2,610.2 L493.5,610.7 L493.8,612.0 L494.1,613.9 L494.5,616.0 L494.8,618.2 L495.2,620.1 L495.5,621.4 L495.8,621.9 L496.3,620.7 L496.6,617.4 L496.9,612.6 L497.2,606.7 L497.5,600.2 L497.7,593.4 L498.0,587.0 L498.4,581.4 L498.8,576.2 L499.3,571.0 L499.9,565.7 L500.4,560.4 L501.0,555.2 L501.5,550.0 L501.9,544.8 L502.3,539.7 L502.6,534.9 L502.7,530.0 L502.9,525.1 L503.0,520.2 L503.1,515.5 L503.2,511.0 L503.4,506.9 L503.6,503.1 L503.8,500.8 L504.0,498.4 L504.2,495.9 L504.5,493.7 L504.7,491.7 L505.0,490.1 L505.2,489.1 L505.5,488.7 L505.9,489.5 L506.3,491.7 L506.7,495.1 L507.2,499.3 L507.6,504.1 L508.1,509.1 L508.5,514.1 L508.9,518.8 L509.5,525.8 L510.0,533.6 L510.5,542.1 L511.1,550.8 L511.5,559.4 L512.0,567.6 L512.4,575.0 L512.8,581.4 L513.0,584.5 L513.1,587.3 L513.3,589.8 L513.4,592.2 L513.5,594.5 L513.7,596.9 L513.9,599.5 L514.1,602.3 L514.5,606.4 L514.9,610.8 L515.4,615.3 L515.9,620.1 L516.4,624.8 L517.0,629.6 L517.5,634.3 L518.0,638.9 L518.5,643.2 L519.0,647.5 L519.5,651.7 L519.9,655.9 L520.4,660.1 L520.9,664.4 L521.4,668.6 L521.9,672.8 L522.7,673.9 L523.6,674.9 L524.4,676.0 L525.2,677.2 L525.9,678.6 L526.5,680.2 L526.9,682.1 L527.4,684.2 L527.7,686.3 L528.1,688.5 L528.5,690.6 L528.9,692.5 L529.4,694.2 L529.9,695.5 L530.5,696.7 L531.1,697.8 L531.7,698.8 L532.3,699.8 L532.9,700.9 L533.3,698.5 L533.7,696.1 L534.1,693.8 L534.5,691.4 L534.9,689.0 L535.3,686.5 L535.7,683.8 L536.1,680.8 L536.7,675.4 L537.2,669.1 L537.7,662.3 L538.2,655.2 L538.7,648.1 L539.2,641.3 L539.7,635.0 L540.2,629.7 L540.5,626.9 L540.8,624.3 L541.2,622.0 L541.5,619.7 L541.8,617.5 L542.1,615.4 L542.5,613.2 L542.8,610.9 L545.5,605.5 L545.6,597.2 L545.8,588.6 L545.9,579.9 L546.0,571.3 L546.1,562.9 L546.3,554.9 L546.5,547.6 L546.9,541.0 L547.2,537.4 L547.4,534.1 L547.8,531.0 L548.1,528.0 L548.4,525.2 L548.8,522.4 L549.2,519.6 L549.6,516.8 L550.0,513.9 L550.4,510.7 L550.8,507.3 L551.3,504.1 L551.7,501.1 L552.2,498.8 L552.6,497.2 L553.1,496.6 L553.5,497.0 L553.9,498.1 L554.3,499.8 L554.7,502.0 L555.2,504.3 L555.6,506.8 L555.9,509.2 L556.3,511.4 L556.7,513.8 L557.1,516.2 L557.4,518.6 L557.8,521.1 L558.1,523.7 L558.4,526.5 L558.7,529.6 L559.0,532.9 L559.5,540.4 L559.9,549.3 L560.3,559.3 L560.6,569.9 L560.9,580.5 L561.2,590.7 L561.4,600.1 L561.7,608.2 L561.8,612.5 L561.9,616.6 L562.0,620.3 L562.1,623.9 L562.2,627.4 L562.4,630.8 L562.6,634.2 L563.0,637.7 L563.5,641.2 L564.1,644.6 L564.8,648.0 L565.6,651.4 L566.4,654.8 L567.1,658.1 L567.8,661.4 L568.4,664.6 L568.8,667.4 L569.2,670.3 L569.5,673.2 L569.8,676.0 L570.1,678.7 L570.4,681.3 L570.7,683.8 L571.1,686.1 L571.4,687.6 L571.7,689.1 L572.1,690.4 L572.4,691.7 L572.8,693.0 L573.1,694.3 L573.5,695.6 L573.8,696.9 L574.1,698.4 L574.5,700.1 L574.8,701.9 L575.1,703.6 L575.4,705.2 L575.8,706.4 L576.1,707.3 L576.5,707.6 L577.1,707.0 L577.7,705.5 L578.4,703.2 L579.1,700.2 L579.8,696.9 L580.5,693.3 L581.2,689.6 L581.8,686.1 L582.7,680.2 L583.5,673.5 L584.2,666.2 L584.9,658.6 L585.5,650.7 L586.1,642.7 L586.6,634.7 L587.2,627.0 L587.8,618.9 L588.3,610.3 L588.8,601.7 L589.3,593.0 L589.7,584.5 L590.2,576.5 L590.7,569.1 L591.2,562.5 L591.5,558.9 L591.8,555.7 L592.1,552.6 L592.5,549.7 L592.8,546.9 L593.1,544.2 L593.5,541.3 L593.9,538.3 L594.4,534.9 L594.9,531.5 L595.4,528.0 L595.9,524.4 L596.5,521.0 L597.0,517.6 L597.5,514.4 L598.0,511.4 L598.3,509.1 L598.7,506.7 L599.0,504.2 L599.4,501.9 L599.7,499.8 L600.0,498.1 L600.3,497.0 L600.6,496.6 L600.9,497.3 L601.2,499.0 L601.4,500.9 L601.7,502.6 L602.0,503.3 L602.3,502.8 L602.5,501.4 L602.8,499.5 L603.0,497.2 L603.3,495.0 L603.6,493.1 L603.8,491.7 L604.1,491.2 L604.5,492.2 L605.0,495.0 L605.4,499.2 L605.8,504.4 L606.3,510.2 L606.7,516.2 L607.0,522.1 L607.4,527.5 L607.8,533.7 L608.2,540.3 L608.5,547.0 L608.8,553.9 L609.1,560.9 L609.4,567.8 L609.7,574.6 L610.0,581.3 L610.3,587.6 L610.6,593.9 L611.0,600.2 L611.3,606.4 L611.6,612.5 L612.0,618.5 L612.3,624.2 L612.7,629.7 L613.0,633.7 L613.3,637.6 L613.7,641.3 L614.0,644.9 L614.4,648.5 L614.7,652.0 L615.1,655.6 L615.4,659.2 L616.0,660.3 L616.6,661.5 L617.2,662.6 L617.8,663.8 L618.4,664.9 L619.0,666.1 L619.5,667.3 L619.9,668.6 L620.3,670.1 L620.6,671.5 L620.9,673.0 L621.2,674.4 L621.6,675.6 L622.2,676.7 L623.3,678.0 L624.6,679.3 L625.9,680.1 L627.0,680.2 L627.8,679.5 L628.5,678.0 L629.2,676.0 L629.7,673.5 L630.2,670.7 L630.7,667.7 L631.1,664.8 L631.6,661.9 L632.3,657.7 L632.9,653.2 L633.4,648.4 L633.9,643.4 L634.4,638.2 L634.8,632.8 L635.2,627.2 L635.6,621.6 L636.1,613.8 L636.5,605.4 L636.8,596.5 L637.1,587.4 L637.4,578.4 L637.7,569.7 L638.0,561.6 L638.3,554.4 L638.5,550.1 L638.8,546.2 L639.0,542.4 L639.2,538.9 L639.5,535.4 L639.7,531.9 L640.0,528.4 L640.2,524.8 L643.1,522.2 L643.4,517.3 L643.7,511.8 L644.1,506.0 L644.4,500.3 L644.7,495.2 L645.0,491.0 L645.4,488.2 L645.8,487.2 L646.1,487.7 L646.5,489.1 L646.8,491.1 L647.2,493.8 L647.5,496.7 L647.9,499.9 L648.2,503.0 L648.5,506.0 L648.9,510.6 L649.1,515.7 L649.3,521.1 L649.5,526.8 L649.7,532.6 L649.9,538.3 L650.1,543.8 L650.4,549.0 L650.7,553.2 L651.0,557.2 L651.2,561.1 L651.6,564.9 L651.9,568.8 L652.2,572.8 L652.7,576.9 L653.1,581.3 L653.8,587.4 L654.5,593.8 L655.4,600.6 L656.3,607.5 L657.2,614.5 L658.1,621.5 L659.0,628.3 L659.8,635.0 L660.5,641.3 L661.2,647.8 L661.9,654.3 L662.6,660.7 L663.3,666.9 L663.9,672.8 L664.6,678.4 L665.2,683.4 L665.6,686.6 L666.0,690.0 L666.4,693.4 L666.8,696.6 L667.1,699.3 L667.5,701.6 L668.0,703.1 L668.4,703.6 L668.8,703.2 L669.2,702.0 L669.7,700.2 L670.2,698.1 L670.6,695.7 L671.1,693.2 L671.5,690.9 L671.9,688.8 L672.3,687.0 L672.6,685.1 L673.0,683.3 L673.3,681.4 L673.6,679.6 L673.9,677.7 L674.3,675.9 L674.6,674.0 L677.3,671.3 L677.8,666.9 L678.3,662.6 L678.8,658.3 L679.4,654.1 L679.9,649.7 L680.4,645.1 L680.9,640.2 L681.3,635.0 L681.9,626.3 L682.4,616.5 L682.9,606.0 L683.4,595.1 L683.8,584.2 L684.3,573.5 L684.8,563.5 L685.3,554.4 L685.7,547.8 L686.0,540.7 L686.4,533.5 L686.8,526.7 L687.2,520.7 L687.6,515.8 L688.2,512.6 L688.8,511.4 L689.3,512.2 L689.9,514.3 L690.5,517.3 L691.1,520.8 L691.7,524.3 L692.3,527.3 L692.9,529.4 L693.4,530.2 L693.9,529.0 L694.4,525.8 L694.8,521.2 L695.2,516.1 L695.6,510.9 L695.9,506.4 L696.2,503.2 L696.6,502.0 L696.9,502.6 L697.2,504.1 L697.5,506.3 L697.7,509.0 L698.0,512.1 L698.3,515.2 L698.5,518.2 L698.8,520.8 L699.4,519.2 L700.0,518.2 L700.6,518.6 L701.3,519.7 L702.0,521.0 L702.7,522.2 L703.0,524.9 L703.4,527.5 L703.7,530.0 L704.1,532.6 L704.4,535.3 L704.8,538.0 L705.1,540.8 L705.4,543.8 L705.8,548.1 L706.1,552.7 L706.4,557.6 L706.7,562.6 L707.1,567.6 L707.4,572.5 L707.7,577.1 L708.1,581.4 L708.4,584.3 L708.7,587.0 L709.1,589.5 L709.4,592.0 L709.8,594.5 L710.1,597.1 L710.5,599.9 L710.8,602.9 L711.3,607.9 L711.8,613.4 L712.3,619.3 L712.8,625.4 L713.3,631.5 L713.8,637.6 L714.3,643.3 L714.8,648.7 L715.2,653.1 L715.6,657.9 L716.0,662.8 L716.4,667.6 L716.8,671.8 L717.3,675.2 L717.8,677.4 L718.3,678.3 L718.7,678.1 L719.1,677.3 L719.5,676.2 L719.9,674.7 L720.3,673.0 L720.7,671.2 L721.1,669.3 L721.5,667.5 L722.1,664.0 L722.7,659.9 L723.2,655.5 L723.7,650.7 L724.2,645.6 L724.7,640.4 L725.1,635.1 L725.6,629.8 L726.2,622.8 L726.7,615.5 L727.2,608.0 L727.7,600.2 L728.2,592.2 L728.7,584.2 L729.1,576.1 L729.6,568.0 L730.1,559.1 L730.6,550.0 L731.1,540.7 L731.6,531.4 L732.1,522.1 L732.6,512.9 L733.1,503.9 L733.6,495.3 L734.0,487.3 L734.4,478.4 L734.8,469.3 L735.2,460.4 L735.6,452.5 L736.1,446.1 L736.5,441.8 L737.1,440.2 L737.5,441.1 L737.9,443.3 L738.3,446.6 L738.7,450.3 L739.1,454.0 L739.6,457.2 L740.0,459.5 L740.4,460.4 L740.8,459.5 L741.2,457.2 L741.6,454.0 L742.0,450.3 L742.4,446.6 L742.8,443.3 L743.2,441.1 L743.6,440.2 L744.1,441.2 L744.5,443.8 L745.0,447.6 L745.4,452.2 L745.9,457.0 L746.3,461.6 L746.7,465.6 L747.1,468.4 L747.4,469.9 L747.8,471.0 L748.1,472.1 L748.4,473.8 L748.8,478.2 L749.2,484.2 L749.5,491.5 L749.8,499.6 L750.1,508.2 L750.4,516.9 L750.7,525.3 L751.1,533.0 L751.6,539.9 L752.1,546.7 L752.6,553.5 L753.1,560.2 L753.7,566.9 L754.2,573.6 L754.7,580.2 L755.2,586.8 L755.6,593.1 L755.8,599.5 L756.1,606.0 L756.3,612.4 L756.6,618.6 L756.9,624.5 L757.3,630.1 L757.8,635.2 L758.2,638.4 L758.7,641.3 L759.2,644.2 L759.8,646.9 L760.3,649.5 L760.9,652.0 L761.4,654.4 L761.9,656.7 L762.2,658.5 L762.5,660.5 L762.8,662.5 L763.0,664.4 L763.3,666.1 L763.7,667.5 L764.1,668.4 L764.6,668.9 L765.5,668.6 L766.5,667.5 L767.6,666.1 L768.6,664.8 L769.1,661.1 L769.6,657.5 L770.1,653.9 L770.6,650.3 L771.1,646.6 L771.6,642.9 L772.1,639.1 L772.6,635.2 L773.2,630.5 L773.7,625.6 L774.2,620.7 L774.8,615.6 L775.3,610.5 L775.8,605.3 L776.3,600.1 L776.7,594.9 L777.1,589.3 L777.5,583.7 L777.8,578.0 L778.2,572.3 L778.5,566.5 L778.8,560.7 L779.1,554.9 L779.4,549.1 L779.7,543.1 L780.1,537.0 L780.4,530.9 L780.7,524.8 L781.1,518.6 L781.4,512.6 L781.8,506.6 L782.1,500.7 L782.4,494.8 L782.7,488.1 L783.0,481.2 L783.3,474.5 L783.6,468.4 L783.9,463.5 L784.3,460.2 L784.7,459.0 L785.1,460.7 L785.6,465.3 L786.1,471.8 L786.6,479.2 L787.1,486.6 L787.7,493.1 L788.2,497.7 L788.8,499.4 L789.4,497.6 L790.1,492.9 L790.9,486.2 L791.6,478.5 L792.3,470.9 L793.0,464.2 L793.6,459.5 L794.2,457.7 L794.7,459.1 L795.0,462.9 L795.4,468.4 L795.7,475.0 L796.0,481.8 L796.2,488.4 L796.5,494.0 L796.9,498.0 L797.1,499.8 L797.3,501.4 L797.4,502.7 L797.7,503.8 L798.2,504.7 L799.0,505.3 L799.9,505.7 L800.9,506.1 L801.4,510.2 L801.9,514.3 L802.4,518.4 L803.0,522.5 L803.5,526.6 L804.0,530.7 L804.4,534.6 L804.9,538.4 L805.3,541.5 L805.6,544.5 L806.0,547.4 L806.3,550.2 L806.7,553.1 L807.0,556.1 L807.3,559.2 L807.6,562.6 L808.0,567.7 L808.4,573.3 L808.7,579.2 L809.0,585.3 L809.3,591.4 L809.6,597.4 L810.0,603.1 L810.3,608.3 L810.6,612.1 L810.8,615.7 L811.0,619.3 L811.3,622.8 L811.5,626.1 L811.8,629.3 L812.1,632.3 L812.5,635.2 L812.8,637.3 L813.1,639.5 L813.4,641.8 L813.7,643.9 L814.1,645.8 L814.4,647.3 L814.8,648.3 L815.1,648.7 L815.5,648.2 L815.9,647.0 L816.3,645.1 L816.7,642.8 L817.1,640.2 L817.5,637.5 L817.9,634.9 L818.4,632.5 L819.0,629.8 L819.7,627.0 L820.4,624.2 L821.2,621.3 L821.9,618.3 L822.6,615.2 L823.3,611.8 L823.8,608.3 L824.4,602.6 L824.9,596.4 L825.2,589.7 L825.5,582.8 L825.7,575.6 L825.9,568.5 L826.1,561.4 L826.4,554.5 L826.7,547.8 L827.1,541.1 L827.4,534.5 L827.7,527.8 L828.0,521.1 L828.4,514.4 L828.7,507.6 L829.1,500.7 L829.5,492.5 L829.9,483.0 L830.3,473.0 L830.7,463.1 L831.2,454.2 L831.6,446.9 L832.1,442.0 L832.6,440.2 L833.0,441.2 L833.4,444.0 L833.8,448.1 L834.3,453.1 L834.7,458.6 L835.1,464.2 L835.5,469.4 L835.9,473.8 L836.2,477.3 L836.4,481.3 L836.7,485.3 L836.9,489.2 L837.2,492.6 L837.4,495.4 L837.7,497.3 L838.0,498.0 L838.3,497.3 L838.6,495.5 L838.9,492.9 L839.2,489.9 L839.5,487.0 L839.8,484.4 L840.1,482.6 L840.4,481.9 L840.7,482.8 L841.0,485.4 L841.3,489.1 L841.6,493.8 L841.8,499.0 L842.1,504.4 L842.3,509.6 L842.6,514.2 L842.9,519.0 L843.3,523.8 L843.6,528.7 L844.0,533.7 L844.3,538.8 L844.6,543.9 L845.0,549.2 L845.3,554.5 L845.7,560.9 L846.0,567.4 L846.3,574.1 L846.6,580.9 L846.9,587.8 L847.2,594.7 L847.6,601.5 L848.0,608.3 L848.4,615.0 L848.9,621.8 L849.4,628.5 L849.9,635.2 L850.4,641.9 L851.0,648.7 L851.5,655.4 L852.0,662.1" fill="none" stroke="#ff0000" stroke-width="4.0" stroke-linejoin="round" stroke-linecap="round" />
<line x1="142.50" y1="771.70" x2="875.80" y2="771.70" stroke="#000" stroke-width="2.6" />
<line x1="142.40" y1="771.70" x2="142.40" y2="779.20" stroke="#000" stroke-width="2.4" />
<line x1="189.69" y1="771.70" x2="189.69" y2="779.20" stroke="#000" stroke-width="2.4" />
<line x1="236.98" y1="771.70" x2="236.98" y2="779.20" stroke="#000" stroke-width="2.4" />
<line x1="284.27" y1="771.70" x2="284.27" y2="779.20" stroke="#000" stroke-width="2.4" />
<line x1="331.56" y1="771.70" x2="331.56" y2="779.20" stroke="#000" stroke-width="2.4" />
<line x1="378.85" y1="771.70" x2="378.85" y2="779.20" stroke="#000" stroke-width="2.4" />
<line x1="426.14" y1="771.70" x2="426.14" y2="779.20" stroke="#000" stroke-width="2.4" />
<line x1="473.43" y1="771.70" x2="473.43" y2="779.20" stroke="#000" stroke-width="2.4" />
<line x1="520.72" y1="771.70" x2="520.72" y2="779.20" stroke="#000" stroke-width="2.4" />
<line x1="568.01" y1="771.70" x2="568.01" y2="779.20" stroke="#000" stroke-width="2.4" />
<line x1="615.30" y1="771.70" x2="615.30" y2="779.20" stroke="#000" stroke-width="2.4" />
<line x1="662.59" y1="771.70" x2="662.59" y2="779.20" stroke="#000" stroke-width="2.4" />
<line x1="709.88" y1="771.70" x2="709.88" y2="779.20" stroke="#000" stroke-width="2.4" />
<line x1="757.17" y1="771.70" x2="757.17" y2="779.20" stroke="#000" stroke-width="2.4" />
<line x1="804.46" y1="771.70" x2="804.46" y2="779.20" stroke="#000" stroke-width="2.4" />
<line x1="851.75" y1="771.70" x2="851.75" y2="779.20" stroke="#000" stroke-width="2.4" />
<line x1="142.50" y1="400.37" x2="142.50" y2="772.90" stroke="#000" stroke-width="2.6" />
<line x1="134.60" y1="401.57" x2="142.50" y2="401.57" stroke="#000" stroke-width="2.4" />
<line x1="134.60" y1="447.80" x2="142.50" y2="447.80" stroke="#000" stroke-width="2.4" />
<line x1="134.60" y1="494.03" x2="142.50" y2="494.03" stroke="#000" stroke-width="2.4" />
<line x1="134.60" y1="540.26" x2="142.50" y2="540.26" stroke="#000" stroke-width="2.4" />
<line x1="134.60" y1="586.49" x2="142.50" y2="586.49" stroke="#000" stroke-width="2.4" />
<line x1="134.60" y1="632.72" x2="142.50" y2="632.72" stroke="#000" stroke-width="2.4" />
<line x1="134.60" y1="678.95" x2="142.50" y2="678.95" stroke="#000" stroke-width="2.4" />
<line x1="134.60" y1="725.18" x2="142.50" y2="725.18" stroke="#000" stroke-width="2.4" />
<line x1="134.60" y1="771.41" x2="142.50" y2="771.41" stroke="#000" stroke-width="2.4" />
<text transform="translate(121.80,456.80) scale(0.965,1)" font-size="27.2" text-anchor="end" fill="#000" stroke="#000" stroke-width="0.4">- .8 </text>
<path d="M80.49,456.80 L78.19,456.80 L78.19,441.57 Q77.35,442.39 75.97,443.21 Q74.69,443.97 73.57,444.42 L73.57,442.11 Q75.51,441.17 76.94,439.91 Q78.38,438.64 78.97,437.33 L80.49,437.33 Z" fill="#000" stroke="#000" stroke-width="0.4"/>
<path d="M116.98,456.80 L114.67,456.80 L114.67,441.57 Q113.84,442.39 112.46,443.21 Q111.18,443.97 110.06,444.42 L110.06,442.11 Q112.00,441.17 113.43,439.91 Q114.87,438.64 115.46,437.33 L116.98,437.33 Z" fill="#000" stroke="#000" stroke-width="0.4"/>
<text transform="translate(121.80,503.03) scale(0.965,1)" font-size="27.2" text-anchor="end" fill="#000" stroke="#000" stroke-width="0.4">- .82</text>
<path d="M80.49,503.03 L78.19,503.03 L78.19,487.80 Q77.35,488.62 75.97,489.44 Q74.69,490.20 73.57,490.65 L73.57,488.34 Q75.51,487.40 76.94,486.14 Q78.38,484.87 78.97,483.56 L80.49,483.56 Z" fill="#000" stroke="#000" stroke-width="0.4"/>
<text transform="translate(121.80,549.26) scale(0.965,1)" font-size="27.2" text-anchor="end" fill="#000" stroke="#000" stroke-width="0.4">- .83</text>
<path d="M80.49,549.26 L78.19,549.26 L78.19,534.03 Q77.35,534.85 75.97,535.67 Q74.69,536.43 73.57,536.88 L73.57,534.57 Q75.51,533.63 76.94,532.37 Q78.38,531.10 78.97,529.79 L80.49,529.79 Z" fill="#000" stroke="#000" stroke-width="0.4"/>
<text transform="translate(121.80,595.49) scale(0.965,1)" font-size="27.2" text-anchor="end" fill="#000" stroke="#000" stroke-width="0.4">- .84</text>
<path d="M80.49,595.49 L78.19,595.49 L78.19,580.26 Q77.35,581.08 75.97,581.90 Q74.69,582.66 73.57,583.11 L73.57,580.80 Q75.51,579.86 76.94,578.60 Q78.38,577.33 78.97,576.02 L80.49,576.02 Z" fill="#000" stroke="#000" stroke-width="0.4"/>
<text transform="translate(121.80,641.72) scale(0.965,1)" font-size="27.2" text-anchor="end" fill="#000" stroke="#000" stroke-width="0.4">- .85</text>
<path d="M80.49,641.72 L78.19,641.72 L78.19,626.49 Q77.35,627.31 75.97,628.13 Q74.69,628.89 73.57,629.34 L73.57,627.03 Q75.51,626.09 76.94,624.83 Q78.38,623.56 78.97,622.25 L80.49,622.25 Z" fill="#000" stroke="#000" stroke-width="0.4"/>
<text transform="translate(121.80,687.95) scale(0.965,1)" font-size="27.2" text-anchor="end" fill="#000" stroke="#000" stroke-width="0.4">- .86</text>
<path d="M80.49,687.95 L78.19,687.95 L78.19,672.72 Q77.35,673.54 75.97,674.36 Q74.69,675.12 73.57,675.57 L73.57,673.26 Q75.51,672.32 76.94,671.06 Q78.38,669.79 78.97,668.48 L80.49,668.48 Z" fill="#000" stroke="#000" stroke-width="0.4"/>
<text transform="translate(121.80,734.18) scale(0.965,1)" font-size="27.2" text-anchor="end" fill="#000" stroke="#000" stroke-width="0.4">- .87</text>
<path d="M80.49,734.18 L78.19,734.18 L78.19,718.95 Q77.35,719.77 75.97,720.59 Q74.69,721.35 73.57,721.80 L73.57,719.49 Q75.51,718.55 76.94,717.29 Q78.38,716.02 78.97,714.71 L80.49,714.71 Z" fill="#000" stroke="#000" stroke-width="0.4"/>
<text transform="translate(39.1,734.8) rotate(-90)" font-size="25.8" stroke="#000" stroke-width="0.4">Water temperature (° C)</text>
<text x="167.20" y="451.20" font-size="40" text-anchor="start" fill="#000"  stroke="#000" stroke-width="0.4">(b)</text>
<line x1="141.30" y1="1115.12" x2="880.50" y2="1115.12" stroke="#d9d9d9" stroke-width="1.5" />
<line x1="141.30" y1="1052.95" x2="880.50" y2="1052.95" stroke="#d9d9d9" stroke-width="1.5" />
<line x1="141.30" y1="990.77" x2="880.50" y2="990.77" stroke="#d9d9d9" stroke-width="1.5" />
<line x1="141.30" y1="928.60" x2="880.50" y2="928.60" stroke="#d9d9d9" stroke-width="1.5" />
<line x1="141.30" y1="866.42" x2="880.50" y2="866.42" stroke="#d9d9d9" stroke-width="1.5" />
<line x1="141.30" y1="804.25" x2="880.50" y2="804.25" stroke="#d9d9d9" stroke-width="1.5" />
<line x1="189.27" y1="804.25" x2="189.27" y2="1177.30" stroke="#d9d9d9" stroke-width="1.5" />
<line x1="236.94" y1="804.25" x2="236.94" y2="1177.30" stroke="#d9d9d9" stroke-width="1.5" />
<line x1="284.61" y1="804.25" x2="284.61" y2="1177.30" stroke="#d9d9d9" stroke-width="1.5" />
<line x1="332.28" y1="804.25" x2="332.28" y2="1177.30" stroke="#d9d9d9" stroke-width="1.5" />
<line x1="379.95" y1="804.25" x2="379.95" y2="1177.30" stroke="#d9d9d9" stroke-width="1.5" />
<line x1="427.62" y1="804.25" x2="427.62" y2="1177.30" stroke="#d9d9d9" stroke-width="1.5" />
<line x1="475.29" y1="804.25" x2="475.29" y2="1177.30" stroke="#d9d9d9" stroke-width="1.5" />
<line x1="522.96" y1="804.25" x2="522.96" y2="1177.30" stroke="#d9d9d9" stroke-width="1.5" />
<line x1="570.63" y1="804.25" x2="570.63" y2="1177.30" stroke="#d9d9d9" stroke-width="1.5" />
<line x1="618.30" y1="804.25" x2="618.30" y2="1177.30" stroke="#d9d9d9" stroke-width="1.5" />
<line x1="665.97" y1="804.25" x2="665.97" y2="1177.30" stroke="#d9d9d9" stroke-width="1.5" />
<line x1="713.64" y1="804.25" x2="713.64" y2="1177.30" stroke="#d9d9d9" stroke-width="1.5" />
<line x1="761.31" y1="804.25" x2="761.31" y2="1177.30" stroke="#d9d9d9" stroke-width="1.5" />
<line x1="808.98" y1="804.25" x2="808.98" y2="1177.30" stroke="#d9d9d9" stroke-width="1.5" />
<line x1="856.65" y1="804.25" x2="856.65" y2="1177.30" stroke="#d9d9d9" stroke-width="1.5" />
<rect x="221.50" y="798.00" width="720.00" height="80.20" fill="#fff"/>
<rect x="149.50" y="819.80" width="80.00" height="62.90" fill="#fff"/>
<line x1="147.40" y1="1088.10" x2="147.40" y2="1106.50" stroke="#ffc000" stroke-width="1.3" />
<line x1="142.60" y1="1088.10" x2="152.20" y2="1088.10" stroke="#ffc000" stroke-width="1.5" />
<line x1="142.60" y1="1106.50" x2="152.20" y2="1106.50" stroke="#ffc000" stroke-width="1.5" />
<line x1="159.50" y1="1084.90" x2="159.50" y2="1108.20" stroke="#ffc000" stroke-width="1.3" />
<line x1="154.70" y1="1084.90" x2="164.30" y2="1084.90" stroke="#ffc000" stroke-width="1.5" />
<line x1="154.70" y1="1108.20" x2="164.30" y2="1108.20" stroke="#ffc000" stroke-width="1.5" />
<line x1="169.00" y1="1029.10" x2="169.00" y2="1035.40" stroke="#ffc000" stroke-width="1.3" />
<line x1="164.20" y1="1029.10" x2="173.80" y2="1029.10" stroke="#ffc000" stroke-width="1.5" />
<line x1="164.20" y1="1035.40" x2="173.80" y2="1035.40" stroke="#ffc000" stroke-width="1.5" />
<line x1="179.60" y1="988.00" x2="179.60" y2="1001.10" stroke="#ffc000" stroke-width="1.3" />
<line x1="174.80" y1="988.00" x2="184.40" y2="988.00" stroke="#ffc000" stroke-width="1.5" />
<line x1="174.80" y1="1001.10" x2="184.40" y2="1001.10" stroke="#ffc000" stroke-width="1.5" />
<line x1="192.40" y1="1032.40" x2="192.40" y2="1056.30" stroke="#ffc000" stroke-width="1.3" />
<line x1="187.60" y1="1032.40" x2="197.20" y2="1032.40" stroke="#ffc000" stroke-width="1.5" />
<line x1="187.60" y1="1056.30" x2="197.20" y2="1056.30" stroke="#ffc000" stroke-width="1.5" />
<line x1="204.20" y1="1062.40" x2="204.20" y2="1082.90" stroke="#ffc000" stroke-width="1.3" />
<line x1="199.40" y1="1062.40" x2="209.00" y2="1062.40" stroke="#ffc000" stroke-width="1.5" />
<line x1="199.40" y1="1082.90" x2="209.00" y2="1082.90" stroke="#ffc000" stroke-width="1.5" />
<line x1="216.30" y1="1009.40" x2="216.30" y2="1019.10" stroke="#ffc000" stroke-width="1.3" />
<line x1="211.50" y1="1009.40" x2="221.10" y2="1009.40" stroke="#ffc000" stroke-width="1.5" />
<line x1="211.50" y1="1019.10" x2="221.10" y2="1019.10" stroke="#ffc000" stroke-width="1.5" />
<line x1="227.30" y1="967.30" x2="227.30" y2="977.60" stroke="#ffc000" stroke-width="1.3" />
<line x1="222.50" y1="967.30" x2="232.10" y2="967.30" stroke="#ffc000" stroke-width="1.5" />
<line x1="222.50" y1="977.60" x2="232.10" y2="977.60" stroke="#ffc000" stroke-width="1.5" />
<line x1="240.50" y1="1032.40" x2="240.50" y2="1039.90" stroke="#ffc000" stroke-width="1.3" />
<line x1="235.70" y1="1032.40" x2="245.30" y2="1032.40" stroke="#ffc000" stroke-width="1.5" />
<line x1="235.70" y1="1039.90" x2="245.30" y2="1039.90" stroke="#ffc000" stroke-width="1.5" />
<line x1="253.40" y1="1061.70" x2="253.40" y2="1069.60" stroke="#ffc000" stroke-width="1.3" />
<line x1="248.60" y1="1061.70" x2="258.20" y2="1061.70" stroke="#ffc000" stroke-width="1.5" />
<line x1="248.60" y1="1069.60" x2="258.20" y2="1069.60" stroke="#ffc000" stroke-width="1.5" />
<line x1="265.60" y1="995.10" x2="265.60" y2="1009.80" stroke="#ffc000" stroke-width="1.3" />
<line x1="260.80" y1="995.10" x2="270.40" y2="995.10" stroke="#ffc000" stroke-width="1.5" />
<line x1="260.80" y1="1009.80" x2="270.40" y2="1009.80" stroke="#ffc000" stroke-width="1.5" />
<line x1="276.40" y1="983.90" x2="276.40" y2="1011.80" stroke="#ffc000" stroke-width="1.3" />
<line x1="271.60" y1="983.90" x2="281.20" y2="983.90" stroke="#ffc000" stroke-width="1.5" />
<line x1="271.60" y1="1011.80" x2="281.20" y2="1011.80" stroke="#ffc000" stroke-width="1.5" />
<line x1="285.30" y1="1043.50" x2="285.30" y2="1051.00" stroke="#ffc000" stroke-width="1.3" />
<line x1="280.50" y1="1043.50" x2="290.10" y2="1043.50" stroke="#ffc000" stroke-width="1.5" />
<line x1="280.50" y1="1051.00" x2="290.10" y2="1051.00" stroke="#ffc000" stroke-width="1.5" />
<line x1="298.60" y1="1075.40" x2="298.60" y2="1094.60" stroke="#ffc000" stroke-width="1.3" />
<line x1="293.80" y1="1075.40" x2="303.40" y2="1075.40" stroke="#ffc000" stroke-width="1.5" />
<line x1="293.80" y1="1094.60" x2="303.40" y2="1094.60" stroke="#ffc000" stroke-width="1.5" />
<line x1="307.90" y1="1023.00" x2="307.90" y2="1054.60" stroke="#ffc000" stroke-width="1.3" />
<line x1="303.10" y1="1023.00" x2="312.70" y2="1023.00" stroke="#ffc000" stroke-width="1.5" />
<line x1="303.10" y1="1054.60" x2="312.70" y2="1054.60" stroke="#ffc000" stroke-width="1.5" />
<line x1="321.40" y1="978.20" x2="321.40" y2="987.10" stroke="#ffc000" stroke-width="1.3" />
<line x1="316.60" y1="978.20" x2="326.20" y2="978.20" stroke="#ffc000" stroke-width="1.5" />
<line x1="316.60" y1="987.10" x2="326.20" y2="987.10" stroke="#ffc000" stroke-width="1.5" />
<line x1="332.20" y1="1035.70" x2="332.20" y2="1045.20" stroke="#ffc000" stroke-width="1.3" />
<line x1="327.40" y1="1035.70" x2="337.00" y2="1035.70" stroke="#ffc000" stroke-width="1.5" />
<line x1="327.40" y1="1045.20" x2="337.00" y2="1045.20" stroke="#ffc000" stroke-width="1.5" />
<line x1="342.60" y1="1072.00" x2="342.60" y2="1094.10" stroke="#ffc000" stroke-width="1.3" />
<line x1="337.80" y1="1072.00" x2="347.40" y2="1072.00" stroke="#ffc000" stroke-width="1.5" />
<line x1="337.80" y1="1094.10" x2="347.40" y2="1094.10" stroke="#ffc000" stroke-width="1.5" />
<line x1="352.20" y1="1043.00" x2="352.20" y2="1067.10" stroke="#ffc000" stroke-width="1.3" />
<line x1="347.40" y1="1043.00" x2="357.00" y2="1043.00" stroke="#ffc000" stroke-width="1.5" />
<line x1="347.40" y1="1067.10" x2="357.00" y2="1067.10" stroke="#ffc000" stroke-width="1.5" />
<line x1="361.30" y1="996.80" x2="361.30" y2="1007.30" stroke="#ffc000" stroke-width="1.3" />
<line x1="356.50" y1="996.80" x2="366.10" y2="996.80" stroke="#ffc000" stroke-width="1.5" />
<line x1="356.50" y1="1007.30" x2="366.10" y2="1007.30" stroke="#ffc000" stroke-width="1.5" />
<line x1="374.10" y1="1013.10" x2="374.10" y2="1029.50" stroke="#ffc000" stroke-width="1.3" />
<line x1="369.30" y1="1013.10" x2="378.90" y2="1013.10" stroke="#ffc000" stroke-width="1.5" />
<line x1="369.30" y1="1029.50" x2="378.90" y2="1029.50" stroke="#ffc000" stroke-width="1.5" />
<line x1="385.00" y1="1075.70" x2="385.00" y2="1097.10" stroke="#ffc000" stroke-width="1.3" />
<line x1="380.20" y1="1075.70" x2="389.80" y2="1075.70" stroke="#ffc000" stroke-width="1.5" />
<line x1="380.20" y1="1097.10" x2="389.80" y2="1097.10" stroke="#ffc000" stroke-width="1.5" />
<line x1="396.10" y1="1092.20" x2="396.10" y2="1108.20" stroke="#ffc000" stroke-width="1.3" />
<line x1="391.30" y1="1092.20" x2="400.90" y2="1092.20" stroke="#ffc000" stroke-width="1.5" />
<line x1="391.30" y1="1108.20" x2="400.90" y2="1108.20" stroke="#ffc000" stroke-width="1.5" />
<line x1="405.10" y1="1041.20" x2="405.10" y2="1066.10" stroke="#ffc000" stroke-width="1.3" />
<line x1="400.30" y1="1041.20" x2="409.90" y2="1041.20" stroke="#ffc000" stroke-width="1.5" />
<line x1="400.30" y1="1066.10" x2="409.90" y2="1066.10" stroke="#ffc000" stroke-width="1.5" />
<line x1="418.70" y1="1029.40" x2="418.70" y2="1060.80" stroke="#ffc000" stroke-width="1.3" />
<line x1="413.90" y1="1029.40" x2="423.50" y2="1029.40" stroke="#ffc000" stroke-width="1.5" />
<line x1="413.90" y1="1060.80" x2="423.50" y2="1060.80" stroke="#ffc000" stroke-width="1.5" />
<line x1="430.80" y1="1102.30" x2="430.80" y2="1117.60" stroke="#ffc000" stroke-width="1.3" />
<line x1="426.00" y1="1102.30" x2="435.60" y2="1102.30" stroke="#ffc000" stroke-width="1.5" />
<line x1="426.00" y1="1117.60" x2="435.60" y2="1117.60" stroke="#ffc000" stroke-width="1.5" />
<line x1="441.40" y1="1113.10" x2="441.40" y2="1137.10" stroke="#ffc000" stroke-width="1.3" />
<line x1="436.60" y1="1113.10" x2="446.20" y2="1113.10" stroke="#ffc000" stroke-width="1.5" />
<line x1="436.60" y1="1137.10" x2="446.20" y2="1137.10" stroke="#ffc000" stroke-width="1.5" />
<line x1="453.50" y1="1059.70" x2="453.50" y2="1068.60" stroke="#ffc000" stroke-width="1.3" />
<line x1="448.70" y1="1059.70" x2="458.30" y2="1059.70" stroke="#ffc000" stroke-width="1.5" />
<line x1="448.70" y1="1068.60" x2="458.30" y2="1068.60" stroke="#ffc000" stroke-width="1.5" />
<line x1="463.50" y1="1044.50" x2="463.50" y2="1060.00" stroke="#ffc000" stroke-width="1.3" />
<line x1="458.70" y1="1044.50" x2="468.30" y2="1044.50" stroke="#ffc000" stroke-width="1.5" />
<line x1="458.70" y1="1060.00" x2="468.30" y2="1060.00" stroke="#ffc000" stroke-width="1.5" />
<line x1="474.80" y1="1092.10" x2="474.80" y2="1119.10" stroke="#ffc000" stroke-width="1.3" />
<line x1="470.00" y1="1092.10" x2="479.60" y2="1092.10" stroke="#ffc000" stroke-width="1.5" />
<line x1="470.00" y1="1119.10" x2="479.60" y2="1119.10" stroke="#ffc000" stroke-width="1.5" />
<line x1="486.10" y1="1141.40" x2="486.10" y2="1148.10" stroke="#ffc000" stroke-width="1.3" />
<line x1="481.30" y1="1141.40" x2="490.90" y2="1141.40" stroke="#ffc000" stroke-width="1.5" />
<line x1="481.30" y1="1148.10" x2="490.90" y2="1148.10" stroke="#ffc000" stroke-width="1.5" />
<line x1="498.90" y1="1064.40" x2="498.90" y2="1081.60" stroke="#ffc000" stroke-width="1.3" />
<line x1="494.10" y1="1064.40" x2="503.70" y2="1064.40" stroke="#ffc000" stroke-width="1.5" />
<line x1="494.10" y1="1081.60" x2="503.70" y2="1081.60" stroke="#ffc000" stroke-width="1.5" />
<line x1="510.30" y1="1011.80" x2="510.30" y2="1023.60" stroke="#ffc000" stroke-width="1.3" />
<line x1="505.50" y1="1011.80" x2="515.10" y2="1011.80" stroke="#ffc000" stroke-width="1.5" />
<line x1="505.50" y1="1023.60" x2="515.10" y2="1023.60" stroke="#ffc000" stroke-width="1.5" />
<line x1="521.20" y1="1063.40" x2="521.20" y2="1079.50" stroke="#ffc000" stroke-width="1.3" />
<line x1="516.40" y1="1063.40" x2="526.00" y2="1063.40" stroke="#ffc000" stroke-width="1.5" />
<line x1="516.40" y1="1079.50" x2="526.00" y2="1079.50" stroke="#ffc000" stroke-width="1.5" />
<line x1="533.80" y1="1126.10" x2="533.80" y2="1134.70" stroke="#ffc000" stroke-width="1.3" />
<line x1="529.00" y1="1126.10" x2="538.60" y2="1126.10" stroke="#ffc000" stroke-width="1.5" />
<line x1="529.00" y1="1134.70" x2="538.60" y2="1134.70" stroke="#ffc000" stroke-width="1.5" />
<line x1="545.40" y1="1077.00" x2="545.40" y2="1087.60" stroke="#ffc000" stroke-width="1.3" />
<line x1="540.60" y1="1077.00" x2="550.20" y2="1077.00" stroke="#ffc000" stroke-width="1.5" />
<line x1="540.60" y1="1087.60" x2="550.20" y2="1087.60" stroke="#ffc000" stroke-width="1.5" />
<line x1="557.60" y1="1033.10" x2="557.60" y2="1040.00" stroke="#ffc000" stroke-width="1.3" />
<line x1="552.80" y1="1033.10" x2="562.40" y2="1033.10" stroke="#ffc000" stroke-width="1.5" />
<line x1="552.80" y1="1040.00" x2="562.40" y2="1040.00" stroke="#ffc000" stroke-width="1.5" />
<line x1="567.80" y1="1093.60" x2="567.80" y2="1108.60" stroke="#ffc000" stroke-width="1.3" />
<line x1="563.00" y1="1093.60" x2="572.60" y2="1093.60" stroke="#ffc000" stroke-width="1.5" />
<line x1="563.00" y1="1108.60" x2="572.60" y2="1108.60" stroke="#ffc000" stroke-width="1.5" />
<line x1="600.90" y1="1037.70" x2="600.90" y2="1045.00" stroke="#ffc000" stroke-width="1.3" />
<line x1="596.10" y1="1037.70" x2="605.70" y2="1037.70" stroke="#ffc000" stroke-width="1.5" />
<line x1="596.10" y1="1045.00" x2="605.70" y2="1045.00" stroke="#ffc000" stroke-width="1.5" />
<line x1="612.00" y1="1042.90" x2="612.00" y2="1054.30" stroke="#ffc000" stroke-width="1.3" />
<line x1="607.20" y1="1042.90" x2="616.80" y2="1042.90" stroke="#ffc000" stroke-width="1.5" />
<line x1="607.20" y1="1054.30" x2="616.80" y2="1054.30" stroke="#ffc000" stroke-width="1.5" />
<line x1="622.20" y1="1091.40" x2="622.20" y2="1109.80" stroke="#ffc000" stroke-width="1.3" />
<line x1="617.40" y1="1091.40" x2="627.00" y2="1091.40" stroke="#ffc000" stroke-width="1.5" />
<line x1="617.40" y1="1109.80" x2="627.00" y2="1109.80" stroke="#ffc000" stroke-width="1.5" />
<line x1="635.70" y1="1087.90" x2="635.70" y2="1106.40" stroke="#ffc000" stroke-width="1.3" />
<line x1="630.90" y1="1087.90" x2="640.50" y2="1087.90" stroke="#ffc000" stroke-width="1.5" />
<line x1="630.90" y1="1106.40" x2="640.50" y2="1106.40" stroke="#ffc000" stroke-width="1.5" />
<line x1="649.20" y1="1025.90" x2="649.20" y2="1036.20" stroke="#ffc000" stroke-width="1.3" />
<line x1="644.40" y1="1025.90" x2="654.00" y2="1025.90" stroke="#ffc000" stroke-width="1.5" />
<line x1="644.40" y1="1036.20" x2="654.00" y2="1036.20" stroke="#ffc000" stroke-width="1.5" />
<line x1="662.60" y1="1073.50" x2="662.60" y2="1089.00" stroke="#ffc000" stroke-width="1.3" />
<line x1="657.80" y1="1073.50" x2="667.40" y2="1073.50" stroke="#ffc000" stroke-width="1.5" />
<line x1="657.80" y1="1089.00" x2="667.40" y2="1089.00" stroke="#ffc000" stroke-width="1.5" />
<line x1="672.40" y1="1105.50" x2="672.40" y2="1131.00" stroke="#ffc000" stroke-width="1.3" />
<line x1="667.60" y1="1105.50" x2="677.20" y2="1105.50" stroke="#ffc000" stroke-width="1.5" />
<line x1="667.60" y1="1131.00" x2="677.20" y2="1131.00" stroke="#ffc000" stroke-width="1.5" />
<line x1="685.70" y1="1084.40" x2="685.70" y2="1090.60" stroke="#ffc000" stroke-width="1.3" />
<line x1="680.90" y1="1084.40" x2="690.50" y2="1084.40" stroke="#ffc000" stroke-width="1.5" />
<line x1="680.90" y1="1090.60" x2="690.50" y2="1090.60" stroke="#ffc000" stroke-width="1.5" />
<line x1="695.80" y1="1026.90" x2="695.80" y2="1052.90" stroke="#ffc000" stroke-width="1.3" />
<line x1="691.00" y1="1026.90" x2="700.60" y2="1026.90" stroke="#ffc000" stroke-width="1.5" />
<line x1="691.00" y1="1052.90" x2="700.60" y2="1052.90" stroke="#ffc000" stroke-width="1.5" />
<line x1="706.30" y1="1025.80" x2="706.30" y2="1038.00" stroke="#ffc000" stroke-width="1.3" />
<line x1="701.50" y1="1025.80" x2="711.10" y2="1025.80" stroke="#ffc000" stroke-width="1.5" />
<line x1="701.50" y1="1038.00" x2="711.10" y2="1038.00" stroke="#ffc000" stroke-width="1.5" />
<line x1="715.10" y1="1076.20" x2="715.10" y2="1083.20" stroke="#ffc000" stroke-width="1.3" />
<line x1="710.30" y1="1076.20" x2="719.90" y2="1076.20" stroke="#ffc000" stroke-width="1.5" />
<line x1="710.30" y1="1083.20" x2="719.90" y2="1083.20" stroke="#ffc000" stroke-width="1.5" />
<line x1="727.00" y1="1101.30" x2="727.00" y2="1132.80" stroke="#ffc000" stroke-width="1.3" />
<line x1="722.20" y1="1101.30" x2="731.80" y2="1101.30" stroke="#ffc000" stroke-width="1.5" />
<line x1="722.20" y1="1132.80" x2="731.80" y2="1132.80" stroke="#ffc000" stroke-width="1.5" />
<line x1="740.70" y1="1029.20" x2="740.70" y2="1048.30" stroke="#ffc000" stroke-width="1.3" />
<line x1="735.90" y1="1029.20" x2="745.50" y2="1029.20" stroke="#ffc000" stroke-width="1.5" />
<line x1="735.90" y1="1048.30" x2="745.50" y2="1048.30" stroke="#ffc000" stroke-width="1.5" />
<line x1="749.70" y1="1003.80" x2="749.70" y2="1018.10" stroke="#ffc000" stroke-width="1.3" />
<line x1="744.90" y1="1003.80" x2="754.50" y2="1003.80" stroke="#ffc000" stroke-width="1.5" />
<line x1="744.90" y1="1018.10" x2="754.50" y2="1018.10" stroke="#ffc000" stroke-width="1.5" />
<line x1="762.40" y1="1088.00" x2="762.40" y2="1115.60" stroke="#ffc000" stroke-width="1.3" />
<line x1="757.60" y1="1088.00" x2="767.20" y2="1088.00" stroke="#ffc000" stroke-width="1.5" />
<line x1="757.60" y1="1115.60" x2="767.20" y2="1115.60" stroke="#ffc000" stroke-width="1.5" />
<line x1="774.30" y1="1132.20" x2="774.30" y2="1144.10" stroke="#ffc000" stroke-width="1.3" />
<line x1="769.50" y1="1132.20" x2="779.10" y2="1132.20" stroke="#ffc000" stroke-width="1.5" />
<line x1="769.50" y1="1144.10" x2="779.10" y2="1144.10" stroke="#ffc000" stroke-width="1.5" />
<line x1="785.70" y1="1066.00" x2="785.70" y2="1084.40" stroke="#ffc000" stroke-width="1.3" />
<line x1="780.90" y1="1066.00" x2="790.50" y2="1066.00" stroke="#ffc000" stroke-width="1.5" />
<line x1="780.90" y1="1084.40" x2="790.50" y2="1084.40" stroke="#ffc000" stroke-width="1.5" />
<line x1="797.60" y1="1007.40" x2="797.60" y2="1020.30" stroke="#ffc000" stroke-width="1.3" />
<line x1="792.80" y1="1007.40" x2="802.40" y2="1007.40" stroke="#ffc000" stroke-width="1.5" />
<line x1="792.80" y1="1020.30" x2="802.40" y2="1020.30" stroke="#ffc000" stroke-width="1.5" />
<line x1="811.10" y1="1003.30" x2="811.10" y2="1032.50" stroke="#ffc000" stroke-width="1.3" />
<line x1="806.30" y1="1003.30" x2="815.90" y2="1003.30" stroke="#ffc000" stroke-width="1.5" />
<line x1="806.30" y1="1032.50" x2="815.90" y2="1032.50" stroke="#ffc000" stroke-width="1.5" />
<line x1="820.70" y1="1098.60" x2="820.70" y2="1112.10" stroke="#ffc000" stroke-width="1.3" />
<line x1="815.90" y1="1098.60" x2="825.50" y2="1098.60" stroke="#ffc000" stroke-width="1.5" />
<line x1="815.90" y1="1112.10" x2="825.50" y2="1112.10" stroke="#ffc000" stroke-width="1.5" />
<line x1="833.80" y1="1078.80" x2="833.80" y2="1092.10" stroke="#ffc000" stroke-width="1.3" />
<line x1="829.00" y1="1078.80" x2="838.60" y2="1078.80" stroke="#ffc000" stroke-width="1.5" />
<line x1="829.00" y1="1092.10" x2="838.60" y2="1092.10" stroke="#ffc000" stroke-width="1.5" />
<line x1="847.30" y1="1039.80" x2="847.30" y2="1059.20" stroke="#ffc000" stroke-width="1.3" />
<line x1="842.50" y1="1039.80" x2="852.10" y2="1039.80" stroke="#ffc000" stroke-width="1.5" />
<line x1="842.50" y1="1059.20" x2="852.10" y2="1059.20" stroke="#ffc000" stroke-width="1.5" />
<path d="M142.4,1088.8 L143.6,1090.4 L144.8,1092.0 L145.4,1094.0 L147.0,1095.4 L147.5,1097.4 L148.7,1099.0 L149.9,1100.7 L150.1,1102.8 L151.4,1104.5 L151.5,1106.5 L152.6,1108.3 L153.2,1110.2 L153.5,1112.2 L154.0,1114.2 L155.5,1114.2 L156.5,1112.7 L157.6,1111.0 L158.5,1109.1 L158.5,1107.1 L158.6,1105.1 L159.7,1103.2 L158.9,1101.1 L160.2,1099.2 L159.8,1097.2 L160.0,1095.2 L160.2,1093.2 L160.8,1091.2 L161.7,1089.4 L161.2,1087.3 L162.0,1085.4 L162.4,1083.4 L162.4,1081.4 L163.0,1079.4 L162.7,1077.4 L162.9,1075.4 L163.4,1073.4 L164.2,1071.5 L164.1,1069.5 L164.3,1067.5 L164.8,1065.6 L164.9,1063.6 L165.0,1061.5 L165.8,1059.6 L165.9,1057.6 L165.6,1055.6 L166.2,1053.6 L166.4,1051.6 L167.0,1049.7 L167.1,1047.7 L166.8,1045.7 L167.9,1043.8 L167.1,1041.7 L167.7,1039.7 L168.4,1037.8 L168.0,1035.7 L168.7,1033.8 L168.4,1031.7 L169.5,1029.9 L169.9,1027.9 L170.0,1025.9 L170.7,1024.0 L170.4,1021.9 L171.2,1020.0 L171.4,1018.0 L171.7,1016.1 L171.9,1014.1 L172.7,1012.2 L173.2,1010.2 L173.0,1008.2 L173.5,1006.2 L173.2,1004.1 L174.3,1002.3 L174.5,1000.3 L175.6,998.6 L176.0,996.6 L176.1,994.5 L177.0,992.7 L178.6,992.4 L180.5,993.5 L181.1,995.5 L182.2,997.2 L183.1,999.0 L183.8,1000.9 L183.7,1003.1 L184.9,1004.8 L185.2,1006.8 L185.5,1008.8 L185.3,1010.9 L186.6,1012.6 L186.5,1014.7 L186.7,1016.7 L186.6,1018.7 L187.0,1020.7 L187.3,1022.7 L188.3,1024.5 L188.5,1026.5 L188.9,1028.5 L188.6,1030.6 L188.9,1032.6 L190.3,1034.3 L190.7,1036.3 L191.1,1038.2 L191.5,1040.2 L191.6,1042.2 L192.0,1044.2 L192.8,1046.0 L193.6,1047.9 L193.5,1050.0 L194.1,1051.9 L194.4,1053.9 L194.5,1055.9 L195.3,1057.8 L196.1,1059.6 L196.7,1061.5 L197.3,1063.5 L198.7,1065.1 L198.5,1067.3 L199.3,1069.1 L200.0,1071.0 L201.0,1072.8 L202.5,1074.2 L204.0,1074.5 L204.7,1072.8 L206.0,1071.2 L205.9,1069.1 L206.4,1067.2 L207.0,1065.3 L207.4,1063.3 L207.9,1061.4 L208.0,1059.4 L208.3,1057.4 L208.8,1055.4 L209.1,1053.5 L209.8,1051.6 L209.7,1049.5 L211.1,1047.7 L211.2,1045.7 L211.0,1043.6 L211.5,1041.7 L212.0,1039.8 L212.4,1037.8 L212.4,1035.8 L213.6,1033.9 L214.1,1032.0 L213.8,1029.9 L214.1,1027.9 L213.9,1025.9 L214.2,1023.9 L214.8,1022.0 L215.0,1020.0 L215.9,1018.1 L215.5,1016.0 L215.6,1014.0 L217.0,1012.2 L216.8,1010.2 L216.7,1008.1 L217.5,1006.2 L217.3,1004.1 L218.3,1002.3 L219.2,1000.4 L219.5,998.5 L219.7,996.5 L219.6,994.4 L220.1,992.5 L220.3,990.5 L221.4,988.7 L221.6,986.6 L222.3,984.8 L222.2,982.7 L222.6,980.7 L223.8,979.0 L224.7,977.2 L225.2,975.3 L226.1,973.6 L227.3,972.5 L228.5,973.2 L229.8,974.9 L230.0,976.9 L230.7,978.8 L231.5,980.7 L231.9,982.6 L232.0,984.7 L232.4,986.6 L232.2,988.7 L232.3,990.7 L233.2,992.6 L233.0,994.6 L233.3,996.6 L233.7,998.6 L234.8,1000.4 L235.3,1002.4 L235.7,1004.3 L236.1,1006.3 L236.4,1008.3 L236.2,1010.3 L236.2,1012.4 L236.5,1014.3 L237.3,1016.2 L237.3,1018.2 L237.4,1020.2 L238.6,1022.1 L238.2,1024.2 L238.1,1026.2 L238.6,1028.2 L238.9,1030.1 L239.6,1032.1 L240.2,1034.0 L239.8,1036.1 L240.7,1037.9 L240.5,1040.0 L240.8,1042.0 L241.9,1043.8 L242.3,1045.8 L242.1,1047.9 L242.9,1049.8 L244.0,1051.6 L244.5,1053.5 L244.9,1055.4 L244.5,1057.6 L245.1,1059.5 L246.4,1061.2 L246.1,1063.4 L246.5,1065.4 L247.4,1067.2 L248.4,1069.0 L248.9,1070.9 L250.2,1072.5 L251.4,1073.7 L252.9,1073.8 L253.5,1071.7 L254.0,1069.8 L255.0,1067.9 L254.8,1065.9 L255.8,1064.0 L256.1,1062.0 L255.8,1059.9 L256.2,1058.0 L256.6,1056.0 L256.8,1054.0 L257.6,1052.1 L257.5,1050.1 L258.0,1048.1 L257.9,1046.1 L259.2,1044.3 L258.8,1042.2 L259.3,1040.2 L259.7,1038.3 L260.4,1036.4 L260.2,1034.3 L261.1,1032.4 L260.9,1030.4 L261.3,1028.4 L261.7,1026.5 L261.4,1024.4 L262.2,1022.5 L262.2,1020.5 L262.3,1018.5 L263.5,1016.6 L263.0,1014.5 L263.7,1012.6 L264.3,1010.7 L264.4,1008.7 L264.4,1006.6 L265.0,1004.7 L265.5,1002.8 L266.2,1000.9 L265.8,998.7 L266.8,996.9 L266.9,994.9 L267.3,992.9 L268.4,991.1 L268.5,989.1 L269.1,987.2 L269.9,985.4 L270.8,983.7 L271.8,982.0 L272.9,983.5 L273.9,985.3 L274.5,987.2 L274.9,989.1 L275.7,991.0 L276.1,992.9 L276.7,994.9 L276.6,996.9 L277.3,998.8 L277.5,1000.8 L277.9,1002.8 L279.1,1004.6 L279.2,1006.6 L279.2,1008.6 L279.7,1010.6 L280.9,1012.4 L281.3,1014.3 L281.3,1016.4 L282.1,1018.3 L282.2,1020.3 L282.7,1022.2 L282.3,1024.3 L282.4,1026.3 L282.6,1028.3 L283.7,1030.2 L283.3,1032.2 L283.6,1034.2 L284.5,1036.1 L283.9,1038.2 L284.0,1040.2 L285.1,1042.1 L284.5,1044.2 L285.4,1046.1 L285.6,1048.1 L285.2,1050.1 L285.6,1052.1 L286.7,1054.0 L286.6,1056.0 L286.8,1058.0 L287.3,1060.0 L288.1,1061.8 L288.6,1063.7 L288.7,1065.8 L290.1,1067.4 L290.1,1069.5 L290.8,1071.4 L291.8,1073.2 L292.0,1075.2 L292.2,1077.2 L293.0,1079.1 L294.1,1080.8 L293.7,1083.1 L294.6,1084.9 L295.3,1086.8 L297.2,1087.8 L298.3,1088.0 L298.9,1086.3 L300.5,1084.7 L300.4,1082.6 L300.7,1080.6 L301.4,1078.8 L302.3,1076.9 L302.6,1074.9 L302.3,1072.8 L302.4,1070.8 L303.7,1069.0 L303.5,1066.9 L304.0,1065.0 L303.6,1062.9 L303.8,1060.9 L304.9,1059.1 L304.8,1057.0 L304.7,1055.0 L306.1,1053.2 L306.1,1051.1 L306.6,1049.2 L306.1,1047.1 L307.3,1045.3 L306.7,1043.2 L308.0,1041.3 L307.8,1039.3 L308.0,1037.3 L308.5,1035.3 L309.2,1033.4 L308.7,1031.3 L308.8,1029.3 L309.6,1027.4 L309.5,1025.4 L309.6,1023.4 L310.0,1021.4 L310.1,1019.4 L310.6,1017.4 L311.0,1015.5 L311.4,1013.5 L312.2,1011.6 L312.0,1009.6 L312.7,1007.6 L312.7,1005.6 L313.3,1003.7 L313.3,1001.7 L314.0,999.8 L314.1,997.7 L315.3,995.9 L315.5,993.9 L315.5,991.9 L316.3,990.0 L317.3,988.2 L316.8,986.0 L318.2,984.3 L318.3,982.3 L319.3,980.5 L320.6,980.3 L322.0,981.5 L322.6,983.4 L323.0,985.4 L323.3,987.4 L324.5,989.1 L324.5,991.2 L325.1,993.1 L325.7,995.0 L326.5,996.9 L327.2,998.8 L328.0,1000.7 L328.2,1002.7 L328.5,1004.7 L327.9,1006.7 L328.7,1008.7 L329.1,1010.6 L329.4,1012.6 L328.8,1014.7 L329.0,1016.7 L329.4,1018.6 L330.1,1020.6 L330.4,1022.6 L330.6,1024.5 L330.6,1026.6 L331.2,1028.5 L331.1,1030.5 L331.6,1032.5 L331.0,1034.6 L331.2,1036.6 L332.0,1038.5 L332.6,1040.4 L331.9,1042.5 L333.0,1044.4 L333.1,1046.4 L333.8,1048.3 L333.7,1050.3 L334.5,1052.1 L335.4,1053.9 L336.6,1055.6 L337.0,1057.6 L338.1,1059.4 L338.3,1061.4 L338.9,1063.3 L338.9,1065.3 L339.7,1067.2 L340.1,1069.2 L340.1,1071.2 L340.5,1073.2 L340.4,1075.2 L340.8,1077.2 L340.9,1079.2 L341.3,1081.2 L341.6,1083.2 L341.7,1085.2 L342.7,1087.0 L343.2,1089.0 L342.8,1091.1 L344.3,1092.8 L344.3,1094.9 L345.9,1095.5 L346.2,1093.6 L347.6,1091.9 L348.1,1089.9 L348.2,1087.9 L348.6,1085.9 L349.1,1084.0 L348.5,1081.9 L349.3,1080.0 L349.5,1078.0 L350.2,1076.0 L350.4,1074.1 L350.7,1072.1 L350.6,1070.1 L351.3,1068.1 L351.2,1066.1 L351.5,1064.1 L351.2,1062.1 L351.2,1060.0 L351.6,1058.1 L352.1,1056.1 L352.1,1054.1 L353.2,1052.2 L353.2,1050.2 L353.5,1048.3 L353.8,1046.3 L354.2,1044.3 L354.3,1042.3 L354.1,1040.2 L355.3,1038.4 L355.6,1036.4 L355.6,1034.4 L356.0,1032.4 L356.5,1030.5 L356.1,1028.4 L357.2,1026.6 L357.0,1024.5 L357.1,1022.5 L357.7,1020.6 L358.5,1018.7 L358.2,1016.6 L359.2,1014.7 L359.8,1012.8 L359.6,1010.7 L359.8,1008.7 L360.2,1006.8 L360.8,1004.9 L361.3,1003.0 L361.7,1001.0 L362.2,999.0 L362.0,996.9 L362.6,995.0 L363.2,993.1 L364.4,991.4 L364.9,989.3 L366.5,990.0 L368.0,991.5 L368.6,993.4 L368.9,995.5 L368.9,997.5 L369.4,999.5 L369.9,1001.4 L370.8,1003.2 L371.0,1005.3 L371.5,1007.2 L371.9,1009.1 L372.7,1011.0 L372.3,1013.2 L373.5,1014.9 L373.0,1017.1 L373.5,1019.0 L374.9,1020.8 L374.8,1022.8 L374.7,1024.9 L374.9,1026.9 L375.8,1028.8 L376.4,1030.7 L376.8,1032.7 L376.2,1034.8 L377.4,1036.6 L377.3,1038.7 L378.1,1040.5 L377.9,1042.6 L377.7,1044.6 L379.0,1046.5 L378.5,1048.6 L379.2,1050.5 L379.0,1052.5 L379.5,1054.5 L380.4,1056.4 L379.9,1058.5 L380.7,1060.4 L381.6,1062.3 L381.9,1064.2 L381.6,1066.3 L382.0,1068.3 L382.5,1070.2 L383.0,1072.2 L383.0,1074.2 L383.4,1076.2 L383.0,1078.2 L384.3,1080.1 L383.7,1082.2 L383.8,1084.2 L384.9,1086.0 L384.2,1088.1 L384.7,1090.1 L384.8,1092.1 L385.7,1094.0 L385.9,1096.0 L386.1,1098.0 L385.7,1100.1 L386.4,1102.0 L386.9,1103.9 L387.1,1105.9 L387.6,1107.9 L388.1,1109.8 L388.4,1111.8 L387.8,1113.9 L388.8,1115.8 L388.3,1117.9 L389.5,1119.7 L389.9,1121.6 L390.1,1123.7 L391.1,1125.3 L391.9,1126.2 L393.5,1124.7 L393.9,1122.7 L394.3,1120.8 L394.4,1118.7 L395.1,1116.8 L395.4,1114.8 L395.3,1112.8 L395.7,1110.8 L395.2,1108.7 L396.3,1106.9 L396.2,1104.8 L396.8,1102.9 L397.0,1100.9 L396.8,1098.9 L396.7,1096.8 L398.0,1095.0 L397.3,1092.9 L398.0,1090.9 L398.1,1088.9 L398.3,1087.0 L399.1,1085.0 L399.6,1083.1 L399.1,1081.0 L399.8,1079.1 L399.7,1077.0 L400.3,1075.1 L400.5,1073.1 L400.6,1071.1 L400.9,1069.1 L401.4,1067.2 L402.6,1065.4 L402.5,1063.3 L402.5,1061.3 L403.7,1059.5 L404.1,1057.5 L403.8,1055.4 L403.8,1053.4 L404.3,1051.4 L404.5,1049.5 L405.2,1047.5 L405.3,1045.5 L405.8,1043.6 L406.2,1041.6 L407.0,1039.7 L407.8,1037.9 L408.0,1035.9 L408.1,1033.8 L408.5,1031.9 L409.2,1030.0 L409.5,1028.0 L410.1,1026.1 L410.5,1024.1 L412.0,1022.5 L413.2,1023.4 L414.9,1024.8 L415.1,1026.9 L415.5,1028.9 L415.7,1030.9 L416.9,1032.7 L417.3,1034.6 L417.7,1036.6 L417.9,1038.6 L418.2,1040.6 L418.0,1042.6 L418.5,1044.6 L418.9,1046.6 L420.3,1048.3 L420.7,1050.3 L420.3,1052.4 L420.4,1054.4 L421.3,1056.3 L421.6,1058.2 L422.6,1060.1 L422.5,1062.1 L422.2,1064.2 L422.6,1066.2 L422.9,1068.2 L423.1,1070.2 L424.3,1072.0 L424.7,1073.9 L425.0,1075.9 L424.9,1078.0 L425.0,1080.0 L425.0,1082.0 L425.5,1083.9 L425.9,1085.9 L426.1,1087.9 L426.8,1089.8 L427.0,1091.8 L428.0,1093.7 L427.4,1095.8 L428.4,1097.6 L428.0,1099.8 L428.7,1101.7 L429.5,1103.5 L430.1,1105.5 L430.3,1107.5 L430.3,1109.5 L430.6,1111.5 L431.7,1113.3 L432.1,1115.3 L431.9,1117.3 L432.2,1119.3 L432.9,1121.2 L433.4,1123.1 L433.4,1125.2 L434.5,1127.0 L434.6,1129.0 L434.8,1131.0 L434.7,1133.1 L435.6,1135.0 L435.9,1137.0 L437.1,1138.7 L438.2,1140.2 L439.1,1139.9 L440.7,1138.5 L440.9,1136.5 L440.9,1134.4 L440.9,1132.4 L441.8,1130.5 L442.3,1128.6 L442.3,1126.5 L442.4,1124.5 L443.1,1122.6 L443.7,1120.7 L443.1,1118.6 L443.1,1116.6 L443.7,1114.6 L444.1,1112.7 L444.6,1110.7 L444.3,1108.7 L445.2,1106.8 L445.4,1104.8 L445.4,1102.7 L445.2,1100.7 L446.4,1098.8 L445.9,1096.8 L446.8,1094.9 L446.4,1092.8 L446.6,1090.8 L447.6,1088.9 L447.4,1086.9 L448.5,1085.0 L448.4,1083.0 L448.4,1080.9 L448.8,1079.0 L449.5,1077.1 L450.2,1075.2 L450.9,1073.3 L450.4,1071.1 L451.1,1069.2 L451.3,1067.2 L452.6,1065.5 L452.1,1063.3 L452.4,1061.3 L452.8,1059.4 L453.7,1057.5 L454.7,1055.7 L455.2,1053.8 L455.5,1051.8 L456.3,1049.9 L456.7,1048.0 L456.6,1045.9 L457.1,1043.9 L458.7,1042.4 L459.3,1040.5 L460.1,1038.6 L461.7,1040.5 L462.7,1042.2 L463.3,1044.2 L463.8,1046.1 L464.5,1048.0 L465.1,1049.9 L465.1,1051.9 L465.4,1053.9 L465.1,1056.0 L466.4,1057.8 L465.7,1060.0 L466.9,1061.8 L467.1,1063.8 L466.9,1065.9 L467.2,1067.8 L468.0,1069.7 L468.7,1071.6 L468.6,1073.7 L469.0,1075.6 L468.7,1077.7 L470.0,1079.5 L470.1,1081.5 L469.9,1083.6 L471.3,1085.4 L471.3,1087.4 L471.2,1089.5 L471.6,1091.4 L472.8,1093.2 L473.2,1095.2 L473.6,1097.2 L472.9,1099.3 L474.1,1101.1 L473.9,1103.2 L474.1,1105.2 L475.1,1107.0 L475.6,1109.0 L475.2,1111.1 L476.0,1113.0 L476.9,1114.8 L476.8,1116.9 L477.7,1118.8 L478.1,1120.7 L478.9,1122.6 L478.4,1124.7 L478.6,1126.7 L479.3,1128.6 L479.4,1130.7 L480.8,1132.4 L481.0,1134.4 L481.1,1136.4 L481.0,1138.5 L481.5,1140.5 L482.7,1142.2 L483.4,1144.1 L483.9,1146.0 L484.9,1147.7 L486.7,1147.4 L486.8,1145.2 L488.1,1143.5 L488.6,1141.6 L489.1,1139.6 L489.5,1137.7 L489.7,1135.7 L489.7,1133.6 L490.0,1131.7 L490.4,1129.7 L491.3,1127.8 L490.7,1125.7 L491.2,1123.7 L492.1,1121.9 L491.8,1119.8 L491.9,1117.8 L492.2,1115.8 L493.1,1113.9 L493.1,1111.9 L494.2,1110.0 L494.3,1108.0 L494.8,1106.1 L494.2,1104.0 L494.3,1102.0 L494.6,1100.0 L495.4,1098.1 L495.9,1096.1 L495.9,1094.1 L496.0,1092.1 L496.5,1090.2 L497.0,1088.2 L497.3,1086.2 L497.7,1084.3 L498.1,1082.3 L498.1,1080.3 L497.7,1078.2 L498.8,1076.3 L498.3,1074.3 L498.9,1072.3 L498.9,1070.3 L499.5,1068.4 L499.1,1066.3 L499.3,1064.3 L499.5,1062.3 L499.6,1060.3 L500.7,1058.4 L500.5,1056.4 L500.4,1054.4 L500.7,1052.4 L501.6,1050.5 L501.2,1048.4 L501.1,1046.4 L502.0,1044.5 L502.0,1042.5 L502.6,1040.5 L501.8,1038.4 L502.4,1036.5 L503.1,1034.6 L503.3,1032.6 L503.6,1030.6 L502.8,1028.5 L503.4,1026.5 L503.4,1024.5 L503.8,1022.6 L505.0,1020.7 L504.8,1018.7 L505.6,1016.8 L505.3,1014.7 L506.3,1012.9 L506.2,1010.8 L507.1,1008.9 L508.3,1008.9 L509.1,1010.5 L510.8,1012.1 L510.7,1014.1 L511.2,1016.1 L512.2,1017.9 L512.4,1019.9 L513.2,1021.8 L513.5,1023.8 L513.8,1025.7 L513.8,1027.8 L514.1,1029.8 L515.0,1031.6 L515.6,1033.6 L515.6,1035.6 L515.6,1037.6 L516.5,1039.5 L516.7,1041.5 L517.2,1043.4 L516.9,1045.5 L517.6,1047.4 L518.5,1049.3 L518.9,1051.3 L518.9,1053.3 L519.0,1055.3 L519.2,1057.3 L520.2,1059.2 L520.5,1061.1 L520.1,1063.2 L520.8,1065.1 L521.2,1067.1 L521.5,1069.1 L521.0,1071.2 L522.0,1073.0 L522.0,1075.1 L522.6,1077.0 L522.8,1079.0 L522.5,1081.1 L522.6,1083.1 L523.6,1084.9 L524.1,1086.9 L523.8,1089.0 L524.6,1090.9 L525.2,1092.8 L524.4,1094.9 L525.2,1096.8 L525.0,1098.9 L525.8,1100.8 L525.5,1102.9 L526.3,1104.8 L526.9,1106.7 L527.4,1108.6 L527.1,1110.7 L527.6,1112.6 L527.8,1114.7 L529.3,1116.3 L529.2,1118.4 L530.0,1120.3 L530.3,1122.3 L531.2,1124.1 L531.6,1126.1 L532.0,1128.0 L532.3,1130.1 L534.3,1131.0 L535.4,1130.2 L536.4,1128.5 L537.3,1126.6 L536.8,1124.4 L537.2,1122.4 L538.6,1120.7 L539.0,1118.7 L538.8,1116.7 L538.7,1114.6 L540.1,1112.8 L539.8,1110.7 L540.8,1108.9 L540.8,1106.9 L541.3,1104.9 L540.9,1102.8 L542.0,1101.0 L541.7,1098.9 L542.2,1097.0 L543.1,1095.1 L543.5,1093.1 L543.1,1091.0 L543.6,1089.1 L544.2,1087.2 L544.7,1085.2 L545.0,1083.2 L545.1,1081.2 L545.6,1079.3 L546.6,1077.4 L547.2,1075.5 L546.6,1073.4 L547.6,1071.5 L548.2,1069.6 L547.8,1067.5 L549.1,1065.7 L548.7,1063.6 L549.7,1061.8 L550.2,1059.8 L550.7,1057.9 L550.9,1055.8 L551.5,1053.9 L552.1,1052.0 L552.4,1050.1 L553.2,1048.2 L553.4,1046.2 L553.9,1044.2 L554.0,1042.2 L555.2,1040.5 L555.7,1038.5 L556.3,1036.6 L557.8,1036.8 L558.6,1038.5 L559.5,1040.3 L560.3,1042.2 L560.3,1044.2 L561.1,1046.1 L561.4,1048.1 L561.3,1050.1 L562.0,1052.1 L561.9,1054.1 L562.1,1056.1 L562.9,1058.0 L562.4,1060.1 L563.4,1062.0 L562.9,1064.1 L563.1,1066.0 L563.7,1068.0 L564.5,1069.9 L564.3,1071.9 L564.7,1073.9 L564.3,1076.0 L565.6,1077.8 L565.0,1079.9 L565.1,1081.9 L565.6,1083.9 L565.8,1085.9 L566.8,1087.8 L566.1,1089.8 L566.9,1091.8 L566.5,1093.8 L566.8,1095.8 L567.9,1097.7 L567.4,1099.8 L567.5,1101.8 L568.7,1103.6 L568.6,1105.7 L568.3,1107.7 L569.3,1109.6 L568.6,1111.7 L569.6,1113.6 L569.2,1115.7 L570.2,1117.6 L570.0,1119.6 L569.7,1121.6 L570.3,1122.0" fill="none" stroke="#ffc000" stroke-width="6.0" stroke-linejoin="round" stroke-linecap="round" />
<path d="M595.9,1058.0 L596.1,1056.0 L596.7,1054.1 L597.5,1052.2 L597.8,1050.2 L597.9,1048.2 L598.6,1046.3 L599.2,1044.4 L600.6,1042.7 L601.0,1040.8 L602.0,1039.0 L602.0,1036.8 L603.6,1035.4 L603.8,1033.2 L605.2,1031.7 L606.6,1030.3 L608.2,1029.7 L608.8,1031.6 L609.8,1033.3 L610.3,1035.3 L610.4,1037.3 L611.7,1039.1 L611.0,1041.2 L611.7,1043.1 L612.3,1045.1 L612.1,1047.1 L613.1,1049.0 L612.5,1051.1 L613.3,1053.0 L613.9,1054.9 L613.7,1057.0 L614.4,1058.9 L615.1,1060.8 L614.8,1062.9 L616.0,1064.7 L615.5,1066.8 L616.5,1068.7 L616.4,1070.7 L616.3,1072.8 L617.1,1074.7 L617.4,1076.6 L618.2,1078.5 L618.9,1080.5 L619.2,1082.4 L619.4,1084.4 L619.2,1086.5 L619.8,1088.4 L620.0,1090.4 L620.0,1092.5 L621.2,1094.2 L621.5,1096.2 L621.4,1098.3 L622.6,1100.1 L623.0,1102.0 L623.0,1104.1 L623.7,1106.0 L623.8,1108.0 L624.4,1109.9 L624.4,1112.0 L624.8,1113.9 L625.6,1115.8 L625.6,1117.9 L626.2,1119.8 L627.1,1121.6 L626.7,1123.8 L628.3,1125.3 L629.0,1126.2 L629.9,1124.7 L631.2,1123.0 L632.0,1121.1 L632.3,1119.1 L632.2,1117.1 L632.5,1115.1 L632.5,1113.1 L633.6,1111.2 L633.8,1109.2 L633.9,1107.2 L634.6,1105.3 L634.7,1103.3 L635.6,1101.4 L635.7,1099.4 L635.5,1097.3 L636.6,1095.5 L635.9,1093.4 L636.9,1091.5 L637.1,1089.5 L637.2,1087.5 L637.3,1085.5 L638.4,1083.6 L637.8,1081.5 L638.7,1079.6 L639.4,1077.7 L638.8,1075.6 L639.1,1073.6 L639.9,1071.7 L640.0,1069.7 L640.5,1067.8 L641.0,1065.8 L640.5,1063.7 L641.0,1061.8 L641.3,1059.8 L641.3,1057.8 L642.7,1056.0 L642.9,1054.0 L643.2,1052.0 L642.8,1049.9 L644.2,1048.2 L644.6,1046.2 L644.7,1044.2 L645.5,1042.3 L645.6,1040.3 L645.8,1038.2 L646.1,1036.3 L646.8,1034.4 L647.1,1032.4 L648.1,1030.6 L649.3,1028.9 L650.3,1027.4 L651.1,1028.4 L651.9,1030.2 L652.9,1032.0 L653.0,1034.0 L653.6,1036.0 L653.5,1038.0 L654.2,1039.9 L654.8,1041.8 L654.6,1043.9 L654.6,1045.9 L655.8,1047.8 L655.3,1049.9 L656.6,1051.7 L656.7,1053.7 L657.1,1055.6 L656.8,1057.7 L657.0,1059.7 L657.7,1061.6 L658.6,1063.5 L658.4,1065.6 L659.5,1067.4 L660.0,1069.3 L659.7,1071.4 L660.5,1073.3 L660.9,1075.3 L661.4,1077.2 L661.5,1079.3 L662.5,1081.1 L662.6,1083.1 L663.2,1085.0 L663.5,1087.0 L664.5,1088.8 L664.6,1090.8 L665.3,1092.7 L666.0,1094.6 L666.6,1096.5 L666.5,1098.6 L667.6,1100.4 L667.0,1102.6 L668.4,1104.3 L668.9,1106.3 L669.2,1108.2 L668.7,1110.4 L669.8,1112.2 L670.5,1114.1 L671.0,1116.0 L671.5,1118.0 L671.2,1120.1 L671.7,1122.0 L672.2,1124.0 L672.7,1125.9 L674.0,1127.6 L674.0,1129.7 L675.0,1131.5 L675.6,1133.5 L677.6,1133.5 L678.6,1131.6 L678.3,1129.4 L679.7,1127.7 L680.1,1125.7 L680.5,1123.8 L679.9,1121.6 L680.3,1119.7 L680.5,1117.7 L680.7,1115.7 L682.0,1113.9 L682.2,1111.9 L682.3,1109.9 L682.8,1107.9 L682.9,1105.9 L682.8,1103.9 L682.9,1101.9 L683.2,1099.9 L684.3,1098.0 L684.0,1096.0 L684.5,1094.0 L684.9,1092.0 L684.7,1090.0 L685.3,1088.1 L685.6,1086.1 L686.3,1084.2 L686.2,1082.1 L686.4,1080.1 L687.4,1078.3 L687.2,1076.2 L687.8,1074.3 L687.8,1072.3 L687.4,1070.2 L688.2,1068.3 L688.5,1066.3 L689.3,1064.4 L689.1,1062.3 L689.9,1060.4 L690.1,1058.5 L690.1,1056.4 L691.3,1054.7 L690.9,1052.5 L692.3,1050.8 L692.1,1048.6 L692.5,1046.7 L693.3,1044.8 L694.5,1043.1 L695.4,1041.3 L694.9,1039.0 L696.1,1037.3 L696.8,1035.4 L697.8,1033.7 L697.8,1031.5 L698.9,1029.8 L699.5,1027.9 L700.8,1026.5 L702.4,1026.7 L703.1,1028.7 L705.0,1029.7 L706.4,1031.1 L706.3,1033.4 L706.9,1035.3 L707.7,1037.2 L707.5,1039.3 L708.5,1041.1 L708.0,1043.2 L708.4,1045.2 L708.7,1047.2 L709.2,1049.1 L709.9,1051.0 L710.2,1053.0 L710.6,1055.0 L710.3,1057.0 L711.6,1058.8 L711.1,1061.0 L712.4,1062.8 L712.6,1064.8 L712.9,1066.7 L712.5,1068.9 L713.3,1070.7 L713.9,1072.7 L713.6,1074.7 L714.8,1076.6 L714.9,1078.6 L715.2,1080.6 L715.3,1082.6 L715.6,1084.5 L716.1,1086.5 L716.8,1088.4 L717.2,1090.3 L717.8,1092.3 L717.4,1094.4 L718.0,1096.3 L718.3,1098.3 L719.4,1100.1 L719.5,1102.1 L719.6,1104.2 L720.3,1106.1 L721.3,1107.9 L721.3,1109.9 L721.3,1112.0 L722.5,1113.8 L723.0,1115.7 L723.3,1117.7 L723.5,1119.7 L724.6,1121.6 L725.9,1120.0 L726.8,1118.3 L727.6,1116.5 L728.4,1114.7 L729.3,1112.9 L729.5,1110.8 L730.4,1109.0 L731.0,1107.1 L732.2,1105.3 L732.2,1103.3 L731.7,1101.2 L733.0,1099.4 L732.2,1097.3 L732.8,1095.3 L733.8,1093.4 L733.8,1091.4 L734.0,1089.4 L733.9,1087.4 L733.9,1085.4 L734.7,1083.5 L734.3,1081.4 L734.7,1079.4 L735.1,1077.5 L735.0,1075.4 L735.7,1073.5 L736.4,1071.6 L736.6,1069.6 L736.6,1067.6 L737.0,1065.6 L737.1,1063.6 L737.0,1061.6 L737.8,1059.7 L737.8,1057.7 L738.5,1055.7 L739.0,1053.8 L738.7,1051.7 L739.1,1049.8 L739.6,1047.8 L739.5,1045.8 L739.5,1043.8 L740.4,1041.9 L740.8,1039.9 L740.9,1037.9 L741.1,1035.9 L741.6,1034.0 L741.6,1031.9 L741.9,1030.0 L742.0,1027.9 L742.1,1025.9 L742.8,1024.0 L742.5,1022.0 L743.3,1020.1 L744.1,1018.2 L744.4,1016.2 L744.8,1014.2 L744.8,1012.2 L745.5,1010.3 L746.0,1008.4 L746.7,1006.5 L747.1,1004.5 L748.3,1003.0 L748.8,1004.1 L750.1,1005.8 L749.9,1007.9 L750.0,1009.9 L750.7,1011.8 L750.8,1013.8 L750.5,1015.9 L751.8,1017.8 L751.4,1019.8 L752.0,1021.8 L751.5,1023.8 L751.5,1025.8 L752.2,1027.8 L752.9,1029.7 L752.5,1031.8 L752.8,1033.7 L752.8,1035.7 L753.3,1037.7 L753.4,1039.7 L753.4,1041.7 L754.0,1043.7 L754.4,1045.6 L754.0,1047.7 L755.1,1049.6 L754.7,1051.6 L755.3,1053.6 L755.1,1055.6 L756.0,1057.5 L755.2,1059.6 L756.2,1061.5 L756.8,1063.5 L756.8,1065.5 L756.9,1067.5 L757.6,1069.4 L757.3,1071.5 L757.6,1073.4 L757.5,1075.5 L758.2,1077.4 L758.6,1079.4 L758.9,1081.3 L758.6,1083.4 L758.7,1085.4 L759.5,1087.3 L760.2,1089.2 L759.8,1091.3 L760.6,1093.2 L761.1,1095.2 L761.5,1097.1 L761.1,1099.2 L761.4,1101.2 L762.0,1103.1 L762.5,1105.1 L762.8,1107.0 L763.6,1108.9 L763.1,1111.1 L764.2,1112.9 L764.3,1114.9 L764.6,1116.9 L765.0,1118.8 L765.9,1120.7 L766.6,1122.6 L766.8,1124.6 L767.7,1126.4 L767.4,1128.6 L768.4,1130.4 L768.3,1132.5 L769.5,1134.2 L770.0,1136.2 L770.8,1138.0 L771.5,1139.8 L772.7,1140.8 L773.8,1139.6 L775.5,1138.3 L775.9,1136.3 L776.6,1134.4 L777.3,1132.6 L778.3,1130.8 L779.0,1128.9 L780.0,1127.2 L780.4,1125.2 L780.2,1123.2 L781.1,1121.2 L781.2,1119.2 L780.5,1117.2 L781.6,1115.3 L781.9,1113.3 L782.0,1111.3 L781.4,1109.2 L782.4,1107.3 L782.4,1105.3 L781.8,1103.2 L782.0,1101.2 L783.4,1099.4 L783.2,1097.3 L782.9,1095.3 L782.9,1093.3 L783.2,1091.3 L783.5,1089.3 L784.4,1087.4 L784.1,1085.4 L784.1,1083.3 L785.2,1081.5 L785.3,1079.5 L784.7,1077.4 L785.8,1075.5 L785.8,1073.5 L786.2,1071.5 L786.3,1069.5 L786.9,1067.6 L787.0,1065.6 L787.4,1063.6 L786.9,1061.5 L787.8,1059.6 L787.9,1057.6 L788.5,1055.7 L788.5,1053.7 L789.4,1051.8 L789.4,1049.8 L789.4,1047.7 L789.8,1045.8 L790.0,1043.8 L790.9,1041.9 L790.8,1039.8 L791.7,1038.0 L791.7,1035.9 L792.5,1034.1 L793.0,1032.1 L793.5,1030.2 L794.3,1028.3 L793.8,1026.1 L795.2,1024.4 L795.2,1022.4 L795.7,1020.4 L796.3,1018.5 L796.9,1016.6 L796.8,1014.5 L797.3,1012.6 L798.4,1010.8 L797.9,1008.6 L799.0,1006.9 L799.6,1004.9 L799.5,1002.8 L800.8,1001.1 L801.7,999.3 L802.9,997.8 L803.4,995.7 L805.3,994.7 L806.2,992.8 L807.1,992.5 L807.0,994.5 L808.3,996.3 L807.8,998.4 L808.3,1000.4 L808.9,1002.3 L808.6,1004.4 L809.6,1006.3 L809.8,1008.3 L810.0,1010.2 L810.1,1012.3 L811.0,1014.1 L811.1,1016.2 L811.4,1018.1 L811.5,1020.1 L811.5,1022.2 L812.4,1024.1 L812.0,1026.1 L812.8,1028.0 L812.9,1030.0 L813.4,1032.0 L813.3,1034.0 L813.0,1036.1 L813.6,1038.0 L813.6,1040.0 L814.4,1041.9 L814.6,1043.9 L814.8,1045.9 L814.6,1048.0 L814.8,1049.9 L814.8,1052.0 L815.9,1053.9 L815.2,1055.9 L815.2,1057.9 L815.8,1059.9 L816.6,1061.8 L816.5,1063.9 L817.0,1065.8 L817.0,1067.8 L816.3,1069.9 L816.8,1071.9 L817.0,1073.8 L817.0,1075.9 L817.1,1077.9 L817.6,1079.8 L817.9,1081.8 L818.1,1083.8 L818.2,1085.8 L818.5,1087.8 L818.7,1089.8 L819.4,1091.7 L819.1,1093.7 L819.6,1095.7 L819.5,1097.7 L820.5,1099.6 L820.6,1101.6 L821.0,1103.6 L820.4,1105.7 L820.5,1107.7 L821.0,1109.6 L821.6,1111.6 L821.3,1113.6 L821.5,1115.6 L822.0,1117.6 L822.6,1119.5 L822.8,1121.5 L822.9,1123.5 L823.3,1125.5 L823.4,1126.1 L824.3,1124.3 L825.3,1122.6 L825.0,1120.3 L826.2,1118.7 L826.3,1116.6 L827.1,1114.7 L828.6,1113.1 L829.0,1111.2 L830.1,1109.4 L830.2,1107.3 L830.1,1105.3 L830.8,1103.4 L831.4,1101.5 L832.1,1099.5 L832.4,1097.6 L832.1,1095.5 L832.3,1093.5 L832.2,1091.5 L833.1,1089.6 L832.9,1087.5 L833.1,1085.6 L833.2,1083.5 L833.5,1081.6 L834.6,1079.7 L834.2,1077.6 L835.6,1075.8 L834.8,1073.7 L836.1,1071.9 L835.6,1069.7 L835.8,1067.7 L837.0,1065.9 L836.9,1063.9 L837.9,1062.0 L837.7,1059.9 L838.0,1057.9 L839.3,1056.2 L839.6,1054.2 L840.3,1052.3 L840.6,1050.3 L840.3,1048.2 L841.5,1046.5 L842.1,1044.6 L842.5,1042.6 L843.7,1040.9 L844.0,1038.8 L845.2,1039.7 L846.2,1041.4 L847.5,1043.1 L847.9,1045.1 L847.6,1047.2 L847.8,1049.2 L849.0,1051.1 L849.0,1053.1 L848.8,1055.1 L849.8,1057.0 L849.3,1059.1 L850.1,1061.0 L850.9,1062.9 L850.8,1064.9 L850.8,1067.0 L851.3,1068.9 L851.2,1070.9 L852.1,1072.9 L851.5,1074.9 L852.2,1076.9 L852.1,1078.9 L852.3,1080.9 L852.8,1082.8 L853.0,1084.8 L852.7,1086.9 L852.7,1088.9 L853.0,1090.8 L853.5,1092.8 L854.0,1094.8 L854.4,1096.8 L853.5,1098.8 L854.0,1100.8 L854.0,1102.8 L854.8,1104.7 L854.6,1106.8 L854.3,1108.8 L854.7,1110.8 L855.2,1112.7 L855.7,1114.7 L855.6,1116.0" fill="none" stroke="#ffc000" stroke-width="6.0" stroke-linejoin="round" stroke-linecap="round" />
<path d="M142.4,1060.3 L143.3,1062.1 L143.5,1064.2 L144.8,1065.8 L145.2,1067.8 L146.1,1069.6 L146.5,1071.6 L147.4,1073.4 L148.8,1074.9 L150.0,1076.6 L150.7,1078.5 L151.5,1080.3 L152.4,1082.1 L153.3,1083.9 L154.3,1085.6 L155.0,1085.6 L156.3,1083.8 L156.6,1081.8 L157.0,1079.8 L157.1,1077.8 L157.1,1075.8 L158.1,1073.9 L158.5,1072.0 L158.7,1070.0 L159.3,1068.1 L159.0,1066.0 L159.1,1063.9 L160.0,1062.1 L160.6,1060.2 L160.3,1058.1 L161.3,1056.2 L161.8,1054.3 L161.3,1052.2 L162.0,1050.2 L162.4,1048.3 L162.4,1046.3 L162.4,1044.2 L162.7,1042.3 L163.5,1040.4 L163.7,1038.4 L163.5,1036.3 L163.3,1034.3 L164.3,1032.4 L164.5,1030.4 L164.0,1028.3 L164.6,1026.4 L165.1,1024.4 L165.2,1022.4 L164.9,1020.4 L165.0,1018.4 L165.3,1016.4 L165.0,1014.4 L165.1,1012.4 L165.3,1010.4 L166.1,1008.4 L165.8,1006.4 L166.3,1004.4 L166.3,1002.4 L166.6,1000.5 L166.4,998.4 L166.5,996.4 L167.8,994.6 L167.3,992.5 L167.3,990.5 L168.2,988.6 L168.7,986.6 L168.2,984.5 L169.1,982.6 L169.1,980.6 L169.6,978.7 L169.4,976.6 L169.8,974.6 L171.2,972.9 L171.4,970.9 L171.3,968.8 L171.8,966.9 L171.8,964.8 L172.7,963.0 L172.7,960.9 L173.6,959.1 L174.2,957.4 L175.3,955.7 L176.4,954.0 L176.7,951.9 L177.7,950.0 L179.4,948.6 L181.6,949.2 L182.9,950.8 L183.8,952.7 L183.9,954.7 L184.2,956.8 L185.3,958.5 L185.3,960.6 L186.0,962.5 L187.5,964.1 L187.5,966.2 L188.4,968.0 L189.2,969.9 L188.8,972.1 L190.1,973.8 L190.2,975.8 L190.6,977.8 L190.7,979.8 L191.4,981.7 L192.2,983.6 L192.6,985.5 L193.4,987.4 L192.9,989.6 L193.4,991.5 L194.8,993.2 L195.5,995.1 L195.7,997.1 L196.1,999.1 L195.9,1001.2 L196.3,1003.1 L196.8,1005.1 L198.2,1006.8 L197.8,1009.0 L198.3,1010.9 L198.8,1012.8 L198.9,1014.9 L200.6,1016.5 L201.0,1018.4 L201.1,1020.5 L202.2,1022.4 L204.2,1021.3 L204.5,1019.3 L205.4,1017.5 L206.1,1015.6 L205.9,1013.5 L206.5,1011.6 L206.8,1009.6 L207.1,1007.7 L207.8,1005.8 L207.8,1003.7 L208.2,1001.8 L208.5,999.8 L209.4,997.9 L209.0,995.8 L210.2,994.0 L209.9,991.9 L210.1,989.9 L211.5,988.1 L211.0,986.0 L212.2,984.2 L212.5,982.2 L212.9,980.3 L212.3,978.1 L213.0,976.2 L212.9,974.2 L214.2,972.4 L214.4,970.4 L214.5,968.4 L214.6,966.3 L214.7,964.3 L215.6,962.5 L215.5,960.4 L215.9,958.5 L215.6,956.4 L216.0,954.4 L216.1,952.4 L217.2,950.6 L217.3,948.6 L217.1,946.5 L218.3,944.7 L217.9,942.6 L218.4,940.6 L218.4,938.6 L218.8,936.6 L219.8,934.8 L219.6,932.7 L219.7,930.7 L220.4,928.8 L220.5,926.8 L221.5,924.9 L220.9,922.8 L222.3,921.0 L221.5,918.8 L222.9,917.0 L222.9,915.0 L222.7,913.0 L223.4,911.0 L223.5,909.0 L223.7,907.1 L224.4,905.1 L225.6,903.5 L227.4,902.2 L228.0,902.3 L228.8,904.0 L230.4,905.6 L230.6,907.6 L230.4,909.7 L231.7,911.5 L231.3,913.6 L232.2,915.5 L231.8,917.6 L233.3,919.3 L232.8,921.5 L233.7,923.4 L234.2,925.3 L234.7,927.3 L233.9,929.4 L234.6,931.3 L235.2,933.2 L235.2,935.3 L234.8,937.3 L235.9,939.2 L235.8,941.2 L236.5,943.2 L236.8,945.1 L236.3,947.2 L236.7,949.2 L237.6,951.1 L238.1,953.0 L238.5,955.0 L238.2,957.1 L238.7,959.0 L239.3,960.9 L239.8,962.9 L239.7,964.9 L240.0,966.9 L240.2,968.9 L240.9,970.8 L241.7,972.7 L242.3,974.6 L241.9,976.7 L242.7,978.6 L242.8,980.6 L244.0,982.4 L243.5,984.6 L244.5,986.4 L244.3,988.5 L244.7,990.4 L245.5,992.3 L246.4,994.2 L245.7,996.3 L246.6,998.2 L246.5,1000.3 L247.6,1002.1 L248.1,1004.0 L247.8,1006.1 L249.0,1007.9 L250.1,1009.3 L251.3,1009.0 L252.4,1007.4 L252.5,1005.3 L253.8,1003.6 L254.3,1001.7 L254.9,999.8 L255.0,997.8 L256.2,996.0 L256.9,994.1 L257.4,992.2 L257.3,990.1 L258.2,988.3 L258.3,986.2 L259.2,984.4 L258.8,982.2 L260.2,980.5 L260.7,978.6 L260.6,976.5 L261.1,974.6 L261.5,972.6 L261.9,970.7 L261.7,968.6 L263.1,966.8 L262.6,964.7 L262.8,962.7 L263.0,960.7 L263.5,958.8 L264.4,956.9 L263.8,954.8 L264.1,952.8 L265.1,950.9 L264.7,948.8 L264.8,946.8 L265.7,944.9 L266.0,942.9 L266.2,941.0 L266.7,939.0 L266.3,936.9 L267.5,935.1 L267.7,933.1 L267.3,931.0 L267.7,929.0 L268.6,927.2 L269.0,925.2 L269.2,923.2 L269.4,921.2 L270.2,919.3 L270.3,917.3 L271.5,915.5 L272.6,913.9 L274.2,913.7 L274.6,915.7 L275.1,917.6 L276.4,919.3 L276.2,921.5 L276.6,923.4 L277.8,925.2 L278.2,927.1 L278.2,929.2 L279.0,931.0 L279.6,933.0 L279.5,935.1 L280.1,937.0 L281.0,938.8 L281.5,940.7 L281.8,942.7 L282.0,944.7 L281.7,946.8 L282.2,948.7 L282.4,950.7 L282.8,952.7 L283.0,954.7 L284.3,956.5 L284.0,958.6 L283.7,960.6 L284.0,962.6 L285.1,964.5 L285.2,966.5 L285.2,968.5 L285.8,970.5 L285.8,972.5 L286.7,974.4 L286.5,976.4 L286.8,978.4 L287.6,980.3 L287.8,982.3 L287.1,984.4 L287.6,986.4 L287.7,988.4 L288.3,990.3 L288.3,992.3 L288.5,994.3 L288.7,996.3 L290.0,998.1 L289.5,1000.2 L290.2,1002.2 L289.9,1004.2 L290.7,1006.1 L290.6,1008.1 L290.4,1010.2 L291.0,1012.1 L291.7,1014.1 L291.6,1016.1 L291.9,1018.1 L291.6,1020.1 L292.6,1022.0 L292.8,1024.0 L292.7,1026.0 L293.6,1027.9 L293.3,1030.0 L293.2,1032.0 L294.0,1033.9 L294.6,1035.8 L294.7,1037.9 L295.0,1039.8 L295.8,1041.7 L296.3,1043.6 L296.8,1045.6 L297.4,1047.3 L298.3,1047.6 L298.9,1045.9 L299.4,1043.9 L299.7,1042.0 L300.6,1040.1 L301.3,1038.2 L301.4,1036.2 L301.6,1034.2 L302.0,1032.2 L301.8,1030.2 L302.6,1028.3 L302.6,1026.2 L303.0,1024.3 L303.3,1022.3 L303.4,1020.3 L303.4,1018.3 L303.6,1016.3 L303.8,1014.3 L304.4,1012.4 L304.5,1010.4 L305.0,1008.4 L304.6,1006.3 L305.2,1004.4 L306.1,1002.5 L305.6,1000.4 L306.3,998.5 L306.5,996.5 L306.5,994.5 L307.6,992.6 L307.0,990.5 L307.8,988.6 L307.3,986.5 L307.4,984.5 L308.6,982.6 L308.3,980.6 L308.1,978.6 L308.7,976.6 L309.0,974.6 L309.5,972.7 L309.0,970.6 L309.3,968.6 L310.4,966.7 L310.4,964.7 L309.9,962.7 L310.3,960.7 L310.6,958.7 L311.2,956.8 L311.3,954.8 L311.8,952.8 L312.0,950.8 L311.9,948.8 L312.4,946.8 L312.6,944.9 L312.9,942.9 L312.9,940.9 L313.5,938.9 L313.7,936.9 L314.2,935.0 L313.5,932.9 L314.6,931.0 L313.8,928.9 L314.9,927.0 L315.0,925.0 L315.1,923.0 L315.9,921.1 L315.7,919.0 L315.8,917.0 L316.5,915.1 L316.9,913.2 L316.9,911.1 L317.0,909.1 L317.5,907.2 L318.0,905.3 L319.0,904.0 L320.6,905.2 L321.2,907.2 L321.6,909.1 L322.3,911.0 L322.8,912.9 L322.7,915.0 L323.0,917.0 L323.9,918.8 L324.3,920.8 L325.0,922.7 L325.2,924.7 L325.8,926.6 L325.7,928.7 L326.0,930.7 L326.9,932.5 L326.3,934.7 L327.3,936.5 L327.0,938.6 L327.2,940.6 L327.4,942.6 L328.5,944.4 L328.5,946.5 L328.2,948.5 L329.5,950.4 L329.7,952.4 L329.3,954.4 L329.6,956.4 L329.3,958.4 L329.6,960.4 L330.1,962.4 L329.8,964.4 L330.6,966.3 L330.8,968.3 L330.8,970.3 L331.3,972.3 L331.5,974.3 L331.5,976.3 L331.9,978.3 L331.4,980.3 L332.0,982.3 L332.4,984.3 L333.1,986.2 L333.0,988.2 L333.1,990.2 L333.2,992.2 L333.4,994.2 L333.2,996.2 L333.3,998.2 L334.1,1000.2 L334.3,1002.2 L334.3,1004.2 L334.0,1006.2 L335.0,1008.1 L335.0,1010.1 L334.9,1012.1 L335.8,1014.1 L335.9,1016.1 L335.3,1018.1 L335.7,1020.1 L336.4,1022.0 L337.1,1024.0 L336.5,1026.1 L337.0,1028.0 L337.1,1030.0 L337.2,1032.0 L337.6,1034.0 L338.5,1035.9 L339.1,1037.8 L339.2,1039.8 L339.2,1041.8 L339.5,1043.8 L340.2,1045.7 L340.5,1047.7 L340.3,1049.8 L340.6,1051.7 L341.2,1053.7 L340.8,1055.8 L341.6,1057.7 L342.6,1059.5 L342.6,1061.5 L342.6,1063.6 L343.6,1065.4 L343.8,1067.4 L345.3,1068.8 L345.9,1068.8 L347.2,1067.2 L347.5,1065.2 L348.0,1063.2 L347.8,1061.2 L348.6,1059.3 L348.9,1057.3 L348.9,1055.3 L349.6,1053.4 L349.8,1051.4 L350.6,1049.5 L350.4,1047.4 L350.4,1045.4 L350.4,1043.4 L350.7,1041.4 L351.6,1039.5 L351.1,1037.4 L351.4,1035.4 L351.7,1033.5 L352.4,1031.5 L353.0,1029.6 L353.1,1027.6 L353.6,1025.6 L353.0,1023.5 L353.2,1021.5 L354.4,1019.7 L354.2,1017.7 L355.0,1015.7 L354.8,1013.7 L354.9,1011.7 L355.3,1009.7 L355.4,1007.7 L356.7,1005.9 L356.6,1003.9 L356.6,1001.8 L357.0,999.9 L357.2,997.9 L357.1,995.8 L358.4,994.0 L358.3,992.0 L359.0,990.1 L358.6,988.0 L359.1,986.0 L359.0,984.0 L359.0,982.0 L360.3,980.1 L360.5,978.2 L360.1,976.1 L361.1,974.2 L361.3,972.2 L361.0,970.1 L361.6,968.2 L362.3,966.3 L362.0,964.2 L362.8,962.3 L362.3,960.2 L362.7,958.3 L363.4,956.3 L364.0,954.5 L365.3,953.0 L367.1,952.0 L368.5,951.6 L369.4,953.4 L370.7,955.0 L371.4,956.9 L371.7,958.9 L372.4,960.8 L371.9,962.9 L373.2,964.7 L373.3,966.7 L374.2,968.6 L374.1,970.6 L374.7,972.6 L375.1,974.5 L375.9,976.4 L376.3,978.4 L375.9,980.5 L376.8,982.3 L377.3,984.3 L377.7,986.2 L378.0,988.2 L378.3,990.2 L378.9,992.1 L378.5,994.2 L379.2,996.1 L379.7,998.1 L379.4,1000.2 L380.4,1002.0 L380.5,1004.0 L380.1,1006.1 L381.2,1008.0 L381.2,1010.0 L381.0,1012.1 L381.3,1014.0 L382.4,1015.9 L382.5,1017.9 L382.4,1019.9 L383.1,1021.9 L382.7,1023.9 L383.9,1025.8 L383.4,1027.9 L384.2,1029.8 L384.9,1031.7 L385.0,1033.7 L385.7,1035.6 L385.3,1037.7 L386.2,1039.6 L385.7,1041.7 L386.4,1043.6 L386.9,1045.5 L387.4,1047.5 L387.2,1049.5 L388.0,1051.5 L387.5,1053.5 L388.7,1055.4 L388.6,1057.4 L388.9,1059.4 L389.5,1061.3 L389.3,1063.4 L390.2,1065.3 L390.5,1067.3 L391.4,1069.1 L392.6,1068.9 L393.6,1067.3 L393.8,1065.3 L394.4,1063.4 L395.6,1061.6 L395.4,1059.6 L396.2,1057.7 L395.9,1055.6 L396.8,1053.7 L396.8,1051.7 L397.3,1049.7 L397.4,1047.7 L397.5,1045.7 L398.0,1043.8 L398.2,1041.8 L398.4,1039.8 L399.4,1037.9 L399.2,1035.9 L399.6,1033.9 L400.5,1032.0 L400.7,1030.0 L401.1,1028.1 L401.4,1026.1 L400.8,1024.0 L401.3,1022.0 L401.3,1020.0 L402.4,1018.1 L402.7,1016.2 L402.7,1014.1 L403.1,1012.2 L403.7,1010.3 L404.1,1008.3 L404.0,1006.2 L405.0,1004.4 L404.8,1002.3 L405.4,1000.4 L405.2,998.3 L405.4,996.4 L406.7,994.5 L406.7,992.5 L407.0,990.5 L406.5,988.4 L406.8,986.5 L407.3,984.5 L407.6,982.5 L408.0,980.6 L408.4,978.6 L408.4,976.6 L409.0,974.7 L409.8,972.7 L409.6,970.7 L410.8,968.9 L410.9,966.9 L411.6,965.0 L411.7,962.9 L412.9,961.3 L414.2,961.7 L415.4,963.2 L416.5,965.0 L416.0,967.2 L416.6,969.1 L417.6,970.9 L418.3,972.8 L417.8,975.0 L418.4,976.9 L419.5,978.7 L419.6,980.7 L420.1,982.7 L419.7,984.8 L420.7,986.6 L420.2,988.7 L420.8,990.7 L421.9,992.5 L421.5,994.6 L422.2,996.5 L422.2,998.5 L422.4,1000.5 L423.5,1002.4 L424.0,1004.3 L423.3,1006.5 L424.3,1008.3 L424.0,1010.4 L424.6,1012.3 L424.8,1014.3 L425.0,1016.3 L425.5,1018.3 L426.0,1020.2 L426.7,1022.1 L426.2,1024.2 L426.8,1026.1 L427.0,1028.1 L426.8,1030.2 L428.0,1032.0 L427.5,1034.1 L428.7,1036.0 L428.2,1038.1 L428.3,1040.1 L429.3,1042.0 L429.2,1044.0 L429.0,1046.0 L429.7,1048.0 L430.1,1049.9 L430.7,1051.9 L431.2,1053.8 L431.1,1055.8 L431.3,1057.8 L431.8,1059.8 L432.0,1061.8 L432.4,1063.7 L432.0,1065.8 L432.3,1067.8 L433.1,1069.7 L433.3,1071.7 L433.2,1073.7 L433.6,1075.7 L433.2,1077.7 L434.2,1079.6 L434.5,1081.6 L434.1,1083.7 L435.3,1085.5 L435.1,1087.6 L435.6,1089.5 L435.4,1091.6 L436.1,1093.5 L436.2,1095.5 L437.3,1097.3 L437.2,1099.4 L437.8,1101.3 L439.1,1102.9 L440.5,1101.6 L441.1,1099.6 L440.8,1097.5 L441.4,1095.6 L441.8,1093.6 L442.0,1091.6 L442.1,1089.6 L442.6,1087.7 L442.8,1085.7 L443.7,1083.8 L443.7,1081.8 L443.5,1079.7 L444.0,1077.8 L444.5,1075.8 L444.6,1073.8 L444.6,1071.8 L444.7,1069.8 L444.9,1067.8 L446.3,1066.0 L446.3,1064.0 L445.8,1061.9 L446.8,1060.0 L447.4,1058.0 L447.1,1056.0 L446.9,1053.9 L447.6,1052.0 L447.9,1050.0 L447.9,1048.0 L448.6,1046.1 L448.4,1044.0 L449.8,1042.3 L449.8,1040.2 L450.1,1038.3 L450.8,1036.3 L450.8,1034.3 L450.7,1032.3 L451.0,1030.3 L451.2,1028.3 L451.4,1026.3 L452.6,1024.5 L453.0,1022.5 L452.7,1020.4 L452.9,1018.4 L453.8,1016.6 L454.4,1014.6 L454.9,1012.7 L454.4,1010.6 L455.6,1008.8 L456.1,1006.8 L456.5,1004.9 L456.5,1002.8 L456.9,1000.9 L458.3,999.2 L458.5,997.1 L459.3,995.3 L460.3,993.6 L461.1,991.7 L462.6,990.4 L463.9,988.8 L465.8,990.3 L466.0,992.4 L466.5,994.3 L466.9,996.3 L467.4,998.2 L467.6,1000.2 L468.0,1002.1 L468.9,1004.0 L469.2,1006.0 L470.0,1007.9 L470.2,1009.9 L470.2,1011.9 L471.2,1013.8 L470.8,1015.9 L471.8,1017.7 L471.9,1019.7 L471.6,1021.8 L473.1,1023.6 L473.5,1025.5 L473.5,1027.6 L474.1,1029.5 L473.9,1031.6 L475.1,1033.4 L474.5,1035.5 L474.9,1037.5 L475.3,1039.4 L476.1,1041.3 L476.6,1043.3 L476.5,1045.3 L477.0,1047.2 L477.5,1049.2 L477.9,1051.2 L478.1,1053.1 L478.2,1055.2 L478.4,1057.2 L478.6,1059.2 L479.8,1061.0 L480.0,1063.0 L480.2,1065.0 L480.4,1067.0 L481.0,1068.9 L481.5,1070.8 L482.0,1072.8 L482.1,1074.8 L482.5,1076.7 L482.4,1078.8 L483.0,1080.7 L483.5,1082.7 L483.9,1084.6 L484.5,1086.6 L485.7,1088.3 L487.6,1088.3 L487.7,1086.1 L489.0,1084.5 L489.5,1082.5 L489.6,1080.4 L490.3,1078.6 L491.2,1076.7 L491.0,1074.6 L491.6,1072.7 L491.5,1070.7 L491.9,1068.7 L492.9,1066.8 L492.3,1064.7 L492.8,1062.8 L493.7,1060.9 L493.8,1058.9 L493.7,1056.8 L494.7,1055.0 L494.7,1052.9 L495.3,1051.0 L495.5,1049.0 L496.0,1047.1 L496.4,1045.1 L496.5,1043.1 L496.5,1041.1 L497.0,1039.1 L498.1,1037.3 L498.0,1035.2 L497.8,1033.2 L499.0,1031.4 L498.6,1029.3 L498.7,1027.3 L499.5,1025.4 L499.5,1023.3 L500.1,1021.4 L500.4,1019.4 L500.3,1017.4 L501.0,1015.5 L500.8,1013.4 L501.5,1011.5 L501.9,1009.5 L501.6,1007.5 L502.3,1005.6 L502.2,1003.5 L502.9,1001.6 L503.8,999.7 L503.7,997.7 L504.2,995.7 L504.6,993.8 L504.2,991.7 L505.6,989.9 L505.7,987.9 L505.3,985.8 L506.6,984.0 L506.4,981.9 L506.5,979.9 L507.8,978.1 L507.8,976.1 L508.4,974.1 L508.0,972.0 L509.2,970.2 L508.8,968.1 L509.4,966.2 L510.1,964.3 L510.4,962.2 L512.1,960.9 L513.6,962.0 L514.0,964.0 L514.1,966.0 L514.7,967.9 L514.6,970.0 L515.2,971.9 L515.2,973.9 L515.9,975.9 L515.7,977.9 L516.0,979.9 L517.1,981.8 L516.7,983.8 L517.4,985.7 L517.2,987.8 L517.5,989.8 L517.6,991.8 L518.7,993.7 L518.6,995.7 L518.4,997.7 L518.4,999.7 L519.0,1001.7 L520.1,1003.6 L519.7,1005.6 L520.5,1007.5 L520.3,1009.6 L520.2,1011.6 L521.3,1013.5 L520.5,1015.6 L521.1,1017.5 L521.8,1019.5 L522.1,1021.5 L522.0,1023.5 L521.7,1025.5 L522.2,1027.5 L523.0,1029.4 L523.3,1031.4 L523.4,1033.4 L522.8,1035.5 L523.7,1037.4 L523.5,1039.4 L524.0,1041.4 L523.7,1043.4 L524.3,1045.3 L524.9,1047.3 L524.2,1049.4 L524.9,1051.3 L525.0,1053.3 L525.1,1055.3 L525.2,1057.3 L526.6,1059.1 L526.6,1061.2 L527.2,1063.1 L527.1,1065.1 L527.1,1067.2 L527.6,1069.1 L528.9,1070.9 L529.1,1072.9 L528.8,1075.0 L529.3,1076.9 L530.1,1078.8 L530.5,1080.8 L531.3,1082.6 L531.0,1084.8 L532.1,1086.6 L532.1,1088.7 L533.1,1090.4 L534.5,1092.0 L535.3,1093.3 L536.5,1091.9 L538.0,1090.3 L538.3,1088.3 L538.3,1086.2 L538.9,1084.3 L539.6,1082.5 L540.2,1080.5 L540.8,1078.6 L541.0,1076.6 L541.4,1074.6 L541.4,1072.6 L542.5,1070.8 L542.6,1068.8 L542.7,1066.7 L543.7,1064.9 L544.8,1063.1 L544.2,1060.9 L544.7,1059.0 L545.8,1057.2 L545.8,1055.1 L546.2,1053.2 L546.9,1051.3 L547.0,1049.3 L547.8,1047.4 L548.1,1045.4 L549.0,1043.6 L549.5,1041.6 L548.7,1039.4 L549.7,1037.6 L550.4,1035.7 L550.9,1033.7 L551.1,1031.7 L551.3,1029.7 L551.7,1027.8 L551.6,1025.7 L551.8,1023.7 L552.7,1021.9 L553.1,1019.9 L553.4,1017.9 L553.4,1015.9 L553.2,1013.8 L554.0,1011.9 L554.3,1010.0 L554.3,1007.9 L554.7,1006.0 L554.8,1004.0 L555.4,1002.0 L555.8,1000.1 L557.3,998.3 L558.2,1000.3 L558.8,1002.2 L558.6,1004.3 L559.6,1006.1 L560.2,1008.1 L560.7,1010.0 L561.1,1012.0 L561.3,1014.0 L562.0,1015.9 L562.5,1017.8 L561.8,1020.0 L562.7,1021.8 L563.0,1023.8 L563.2,1025.8 L563.9,1027.7 L564.4,1029.7 L564.8,1031.6 L564.8,1033.7 L565.1,1035.6 L564.8,1037.7 L565.3,1039.7 L565.1,1041.7 L566.1,1043.6 L565.6,1045.7 L566.3,1047.6 L567.1,1049.5 L567.3,1051.5 L567.0,1053.5 L566.8,1055.6 L567.8,1057.5 L567.5,1059.5 L568.2,1061.5 L567.9,1063.5 L569.1,1065.4 L568.8,1067.4 L568.6,1069.5 L569.6,1071.4 L569.8,1073.4 L570.4,1075.3 L570.4,1077.3 L570.3,1079.3" fill="none" stroke="#ffff00" stroke-width="6.0" stroke-linejoin="round" stroke-linecap="round" />
<path d="M595.9,1024.7 L596.2,1022.7 L597.2,1020.9 L597.1,1018.8 L597.9,1016.9 L598.1,1014.9 L599.1,1013.1 L599.9,1011.3 L600.2,1009.3 L600.2,1007.2 L601.4,1005.5 L602.2,1003.6 L602.3,1001.6 L602.2,999.5 L603.6,997.8 L604.2,995.9 L604.1,993.8 L604.3,991.8 L604.9,989.8 L605.7,988.0 L606.6,986.2 L606.9,984.2 L607.8,982.4 L607.9,980.2 L609.7,980.1 L610.0,982.1 L610.6,984.0 L611.3,985.9 L611.3,987.9 L612.0,989.9 L612.6,991.8 L612.5,993.8 L613.2,995.8 L612.7,997.8 L613.3,999.8 L613.4,1001.8 L613.5,1003.8 L614.2,1005.7 L614.2,1007.7 L615.0,1009.6 L614.2,1011.8 L614.9,1013.7 L614.7,1015.7 L616.2,1017.5 L615.8,1019.6 L615.9,1021.6 L616.7,1023.5 L617.3,1025.5 L617.5,1027.5 L617.7,1029.4 L617.3,1031.5 L618.4,1033.4 L617.8,1035.5 L618.5,1037.4 L618.6,1039.4 L618.9,1041.4 L619.2,1043.4 L619.4,1045.4 L619.7,1047.3 L620.3,1049.3 L620.2,1051.3 L621.1,1053.2 L620.8,1055.3 L621.1,1057.3 L621.5,1059.2 L622.4,1061.1 L622.2,1063.2 L622.3,1065.2 L623.3,1067.0 L623.8,1069.0 L623.9,1071.0 L623.7,1073.0 L625.0,1074.8 L625.5,1076.8 L625.3,1078.9 L625.5,1080.9 L625.7,1082.9 L626.6,1084.7 L626.3,1086.8 L627.6,1088.6 L627.5,1090.7 L628.8,1092.3 L629.6,1094.2 L630.6,1095.6 L631.0,1094.2 L632.2,1092.5 L632.8,1090.6 L632.8,1088.5 L634.1,1086.8 L633.8,1084.7 L634.0,1082.7 L634.4,1080.7 L635.4,1078.9 L635.9,1076.9 L635.4,1074.8 L635.6,1072.8 L636.8,1071.0 L636.5,1068.9 L637.8,1067.1 L637.6,1065.0 L638.2,1063.1 L638.2,1061.1 L639.2,1059.2 L639.2,1057.2 L639.5,1055.2 L640.6,1053.4 L640.0,1051.2 L641.1,1049.4 L640.7,1047.3 L641.7,1045.5 L641.8,1043.4 L642.7,1041.6 L642.1,1039.4 L643.1,1037.6 L643.3,1035.6 L644.3,1033.7 L644.7,1031.8 L644.7,1029.7 L644.6,1027.7 L645.0,1025.7 L645.4,1023.8 L646.1,1021.9 L646.3,1019.9 L646.8,1017.9 L647.9,1016.2 L648.5,1014.2 L648.8,1012.2 L650.7,1011.2 L652.0,1011.4 L652.5,1013.3 L653.7,1015.1 L653.4,1017.2 L654.0,1019.1 L655.2,1020.9 L655.1,1023.0 L655.5,1024.9 L656.6,1026.7 L657.0,1028.7 L657.3,1030.7 L657.4,1032.7 L658.7,1034.4 L658.6,1036.5 L659.2,1038.4 L659.8,1040.4 L660.1,1042.3 L660.2,1044.4 L661.4,1046.1 L661.1,1048.3 L662.1,1050.1 L662.0,1052.1 L662.3,1054.1 L663.6,1055.9 L663.2,1058.0 L663.4,1060.0 L664.7,1061.8 L665.4,1063.7 L665.7,1065.7 L665.1,1067.9 L666.6,1069.6 L666.0,1071.8 L667.3,1073.5 L667.0,1075.6 L668.2,1077.4 L668.5,1079.4 L668.2,1081.5 L669.2,1083.3 L669.3,1085.4 L668.9,1087.5 L669.5,1089.4 L669.6,1091.4 L669.8,1093.4 L671.2,1095.2 L671.3,1097.2 L671.0,1099.3 L671.4,1101.2 L672.6,1103.1 L672.4,1105.1 L673.2,1107.0 L673.5,1109.0 L674.5,1110.7 L675.7,1112.0 L677.2,1111.5 L677.4,1109.4 L678.7,1107.7 L678.5,1105.5 L679.5,1103.8 L679.7,1101.7 L680.5,1099.9 L680.8,1097.9 L681.9,1096.1 L681.8,1094.0 L683.0,1092.3 L683.3,1090.3 L683.4,1088.2 L684.3,1086.4 L685.0,1084.5 L686.1,1082.8 L686.0,1080.6 L686.3,1078.7 L687.8,1077.0 L688.2,1075.0 L688.5,1073.0 L688.5,1071.0 L688.8,1069.0 L689.4,1067.1 L689.6,1065.1 L690.0,1063.1 L690.9,1061.3 L691.1,1059.3 L691.6,1057.3 L691.7,1055.3 L691.6,1053.3 L692.7,1051.4 L692.9,1049.5 L693.1,1047.5 L693.4,1045.5 L694.0,1043.6 L695.1,1041.9 L695.7,1040.0 L696.3,1038.1 L696.8,1036.1 L697.4,1034.2 L698.3,1034.0 L697.9,1036.1 L698.9,1037.9 L699.1,1039.9 L699.4,1041.9 L699.9,1043.9 L699.2,1046.0 L700.7,1047.7 L701.1,1049.2 L702.0,1047.3 L701.5,1045.2 L702.2,1043.3 L702.2,1041.3 L702.4,1039.3 L702.8,1037.2 L704.7,1037.6 L704.5,1039.8 L705.2,1041.7 L705.6,1043.7 L707.1,1045.3 L706.9,1047.5 L707.9,1049.3 L708.0,1051.3 L708.6,1053.2 L709.3,1055.1 L709.0,1057.2 L710.6,1058.9 L710.2,1061.1 L710.5,1063.0 L711.4,1064.9 L711.8,1066.8 L711.8,1068.9 L713.2,1070.6 L713.2,1072.7 L713.5,1074.7 L714.4,1076.5 L714.5,1078.5 L715.3,1080.4 L715.7,1082.4 L716.1,1084.3 L716.5,1086.3 L717.4,1088.1 L717.5,1090.2 L718.1,1092.1 L719.0,1093.9 L719.1,1096.0 L719.9,1097.8 L719.6,1099.9 L720.5,1101.8 L720.7,1103.8 L721.4,1105.7 L721.9,1107.6 L722.8,1109.4 L723.6,1111.2 L724.9,1112.7 L726.0,1110.7 L726.8,1108.9 L727.6,1107.0 L728.7,1105.3 L728.7,1103.2 L729.3,1101.3 L730.7,1099.6 L730.9,1097.6 L731.6,1095.7 L732.4,1093.8 L732.9,1091.9 L733.4,1090.0 L732.8,1087.8 L733.6,1085.9 L734.6,1084.1 L735.0,1082.1 L734.5,1080.0 L734.9,1078.0 L735.4,1076.1 L735.6,1074.1 L736.2,1072.2 L737.1,1070.3 L737.0,1068.2 L737.2,1066.3 L737.1,1064.2 L737.7,1062.3 L738.7,1060.4 L738.6,1058.4 L738.6,1056.4 L738.9,1054.4 L739.6,1052.4 L739.8,1050.5 L739.4,1048.4 L740.3,1046.5 L740.2,1044.5 L740.6,1042.5 L740.6,1040.5 L741.0,1038.5 L741.2,1036.5 L741.5,1034.5 L741.4,1032.5 L741.8,1030.6 L742.5,1028.6 L742.2,1026.6 L742.6,1024.6 L743.6,1022.7 L743.4,1020.7 L743.8,1018.7 L744.1,1016.7 L745.1,1014.9 L744.6,1012.8 L745.6,1010.9 L746.3,1009.0 L746.0,1006.9 L746.9,1005.1 L747.9,1005.4 L748.7,1007.2 L749.5,1009.0 L750.2,1010.9 L750.1,1013.0 L750.5,1015.0 L750.4,1017.0 L751.2,1018.9 L751.4,1020.9 L751.4,1022.9 L751.6,1024.9 L752.4,1026.8 L752.7,1028.8 L752.7,1030.8 L752.6,1032.9 L753.7,1034.7 L753.0,1036.8 L753.5,1038.8 L754.2,1040.7 L754.0,1042.7 L754.7,1044.7 L755.2,1046.6 L754.6,1048.7 L755.3,1050.7 L755.3,1052.7 L755.6,1054.6 L755.4,1056.7 L755.8,1058.6 L757.0,1060.5 L756.6,1062.6 L757.0,1064.5 L757.4,1066.5 L757.2,1068.6 L758.1,1070.4 L758.3,1072.4 L758.2,1074.5 L759.1,1076.4 L759.4,1078.3 L759.7,1080.3 L759.8,1082.3 L760.3,1084.3 L760.7,1086.2 L761.5,1088.1 L762.4,1090.0 L762.1,1092.1 L762.7,1094.0 L762.9,1096.0 L763.4,1097.9 L764.7,1099.7 L765.1,1101.6 L765.8,1103.5 L765.5,1105.7 L766.8,1107.4 L767.4,1109.3 L767.3,1111.4 L768.1,1113.2 L769.4,1114.9 L769.4,1117.0 L770.0,1118.9 L770.9,1120.7 L772.2,1122.4 L772.5,1124.4 L774.4,1124.7 L775.8,1123.4 L777.3,1121.9 L778.1,1120.0 L779.1,1118.3 L779.4,1116.2 L780.1,1114.4 L780.7,1112.5 L780.4,1110.4 L781.9,1108.7 L781.4,1106.6 L781.8,1104.6 L782.2,1102.6 L782.5,1100.7 L783.6,1098.8 L783.6,1096.8 L783.9,1094.8 L784.1,1092.8 L784.0,1090.8 L784.7,1088.9 L785.7,1087.0 L786.0,1085.0 L786.4,1083.1 L786.1,1081.0 L786.4,1079.0 L786.5,1077.0 L787.7,1075.2 L788.3,1073.3 L789.1,1071.5 L789.9,1069.6 L790.7,1067.8 L791.2,1065.9 L792.5,1064.2 L792.5,1062.1 L794.1,1060.5 L794.4,1058.5 L794.5,1056.4 L795.4,1054.6 L796.2,1052.8 L796.7,1050.8 L798.0,1049.5 L799.6,1050.7 L800.6,1052.5 L801.0,1054.5 L802.7,1055.8 L803.6,1057.6 L804.8,1059.2 L806.1,1060.7 L807.2,1062.4 L807.5,1064.4 L808.7,1066.1 L808.9,1068.1 L810.4,1069.8 L810.4,1071.8 L810.7,1073.8 L811.9,1075.6 L811.4,1077.8 L812.8,1079.5 L812.6,1081.6 L813.6,1083.4 L813.1,1085.6 L813.9,1087.5 L814.0,1089.5 L814.7,1091.4 L814.9,1093.4 L815.2,1095.3 L816.0,1097.2 L816.5,1099.2 L816.1,1101.3 L817.3,1103.1 L816.9,1105.2 L818.2,1107.0 L818.7,1108.9 L819.2,1110.9 L818.8,1113.0 L819.0,1115.0 L820.1,1116.8 L820.2,1118.8 L821.2,1120.6 L821.1,1122.8 L822.2,1124.5 L823.8,1124.3 L824.7,1122.6 L826.3,1121.2 L826.5,1119.1 L828.2,1117.7 L828.4,1115.6 L828.8,1113.7 L829.6,1111.8 L829.7,1109.8 L830.4,1107.9 L830.4,1105.8 L831.7,1104.1 L831.4,1102.0 L832.4,1100.1 L832.0,1098.0 L833.1,1096.2 L833.7,1094.3 L833.4,1092.2 L833.3,1090.1 L834.0,1088.2 L834.5,1086.3 L834.3,1084.2 L834.9,1082.3 L834.6,1080.2 L835.2,1078.3 L835.7,1076.3 L835.6,1074.3 L836.0,1072.3 L835.5,1070.3 L836.6,1068.4 L835.9,1066.3 L837.0,1064.4 L837.2,1062.4 L837.3,1060.4 L837.0,1058.4 L836.9,1056.4 L837.1,1054.4 L837.8,1052.4 L837.9,1052.0 L838.0,1054.0 L839.6,1055.6 L839.7,1057.7 L840.1,1059.7 L841.8,1059.4 L842.3,1057.4 L842.1,1055.4 L842.4,1053.4 L842.9,1051.5 L843.9,1049.6 L844.2,1047.6 L843.8,1045.5 L844.7,1044.5 L846.4,1045.8 L846.3,1047.9 L846.2,1049.9 L847.4,1051.7 L847.0,1053.8 L847.7,1055.7 L848.8,1057.6 L848.8,1059.6 L849.0,1061.6 L849.5,1063.6 L849.2,1065.6 L850.1,1067.5 L849.6,1069.6 L850.4,1071.5 L850.8,1073.5 L850.5,1075.5 L851.2,1077.5 L850.9,1079.5 L850.8,1081.5 L851.2,1083.5 L851.6,1085.5 L852.4,1087.4 L852.0,1089.4 L852.8,1091.4 L852.4,1093.4 L853.3,1095.3 L853.0,1097.4 L853.5,1099.3 L853.8,1101.3 L853.7,1103.3 L854.6,1105.2 L854.8,1107.2 L854.2,1109.3 L855.2,1111.2 L854.9,1113.3 L855.1,1115.3 L855.8,1117.2 L856.5,1119.1 L856.9,1121.1 L856.2,1123.2 L857.4,1125.0 L857.2,1127.1 L857.4,1128.6" fill="none" stroke="#ffff00" stroke-width="6.0" stroke-linejoin="round" stroke-linecap="round" />
<line x1="144.40" y1="1050.00" x2="144.40" y2="1092.10" stroke="#92d050" stroke-width="1.3" />
<line x1="139.60" y1="1050.00" x2="149.20" y2="1050.00" stroke="#92d050" stroke-width="1.5" />
<line x1="139.60" y1="1092.10" x2="149.20" y2="1092.10" stroke="#92d050" stroke-width="1.5" />
<line x1="153.30" y1="1051.70" x2="153.30" y2="1123.00" stroke="#92d050" stroke-width="1.3" />
<line x1="148.50" y1="1051.70" x2="158.10" y2="1051.70" stroke="#92d050" stroke-width="1.5" />
<line x1="148.50" y1="1123.00" x2="158.10" y2="1123.00" stroke="#92d050" stroke-width="1.5" />
<line x1="161.90" y1="1038.00" x2="161.90" y2="1083.40" stroke="#92d050" stroke-width="1.3" />
<line x1="157.10" y1="1038.00" x2="166.70" y2="1038.00" stroke="#92d050" stroke-width="1.5" />
<line x1="157.10" y1="1083.40" x2="166.70" y2="1083.40" stroke="#92d050" stroke-width="1.5" />
<line x1="171.00" y1="978.80" x2="171.00" y2="1004.30" stroke="#92d050" stroke-width="1.3" />
<line x1="166.20" y1="978.80" x2="175.80" y2="978.80" stroke="#92d050" stroke-width="1.5" />
<line x1="166.20" y1="1004.30" x2="175.80" y2="1004.30" stroke="#92d050" stroke-width="1.5" />
<line x1="179.70" y1="951.90" x2="179.70" y2="1004.90" stroke="#92d050" stroke-width="1.3" />
<line x1="174.90" y1="951.90" x2="184.50" y2="951.90" stroke="#92d050" stroke-width="1.5" />
<line x1="174.90" y1="1004.90" x2="184.50" y2="1004.90" stroke="#92d050" stroke-width="1.5" />
<line x1="189.60" y1="1001.20" x2="189.60" y2="1021.00" stroke="#92d050" stroke-width="1.3" />
<line x1="184.80" y1="1001.20" x2="194.40" y2="1001.20" stroke="#92d050" stroke-width="1.5" />
<line x1="184.80" y1="1021.00" x2="194.40" y2="1021.00" stroke="#92d050" stroke-width="1.5" />
<line x1="197.50" y1="1025.50" x2="197.50" y2="1045.10" stroke="#92d050" stroke-width="1.3" />
<line x1="192.70" y1="1025.50" x2="202.30" y2="1025.50" stroke="#92d050" stroke-width="1.5" />
<line x1="192.70" y1="1045.10" x2="202.30" y2="1045.10" stroke="#92d050" stroke-width="1.5" />
<line x1="207.40" y1="1000.60" x2="207.40" y2="1057.60" stroke="#92d050" stroke-width="1.3" />
<line x1="202.60" y1="1000.60" x2="212.20" y2="1000.60" stroke="#92d050" stroke-width="1.5" />
<line x1="202.60" y1="1057.60" x2="212.20" y2="1057.60" stroke="#92d050" stroke-width="1.5" />
<line x1="214.40" y1="959.10" x2="214.40" y2="1034.00" stroke="#92d050" stroke-width="1.3" />
<line x1="209.60" y1="959.10" x2="219.20" y2="959.10" stroke="#92d050" stroke-width="1.5" />
<line x1="209.60" y1="1034.00" x2="219.20" y2="1034.00" stroke="#92d050" stroke-width="1.5" />
<line x1="224.90" y1="926.70" x2="224.90" y2="981.30" stroke="#92d050" stroke-width="1.3" />
<line x1="220.10" y1="926.70" x2="229.70" y2="926.70" stroke="#92d050" stroke-width="1.5" />
<line x1="220.10" y1="981.30" x2="229.70" y2="981.30" stroke="#92d050" stroke-width="1.5" />
<line x1="234.00" y1="960.30" x2="234.00" y2="984.00" stroke="#92d050" stroke-width="1.3" />
<line x1="229.20" y1="960.30" x2="238.80" y2="960.30" stroke="#92d050" stroke-width="1.5" />
<line x1="229.20" y1="984.00" x2="238.80" y2="984.00" stroke="#92d050" stroke-width="1.5" />
<line x1="240.90" y1="977.50" x2="240.90" y2="1024.20" stroke="#92d050" stroke-width="1.3" />
<line x1="236.10" y1="977.50" x2="245.70" y2="977.50" stroke="#92d050" stroke-width="1.5" />
<line x1="236.10" y1="1024.20" x2="245.70" y2="1024.20" stroke="#92d050" stroke-width="1.5" />
<line x1="247.90" y1="1008.00" x2="247.90" y2="1033.80" stroke="#92d050" stroke-width="1.3" />
<line x1="243.10" y1="1008.00" x2="252.70" y2="1008.00" stroke="#92d050" stroke-width="1.5" />
<line x1="243.10" y1="1033.80" x2="252.70" y2="1033.80" stroke="#92d050" stroke-width="1.5" />
<line x1="255.60" y1="995.50" x2="255.60" y2="1011.40" stroke="#92d050" stroke-width="1.3" />
<line x1="250.80" y1="995.50" x2="260.40" y2="995.50" stroke="#92d050" stroke-width="1.5" />
<line x1="250.80" y1="1011.40" x2="260.40" y2="1011.40" stroke="#92d050" stroke-width="1.5" />
<line x1="264.20" y1="943.40" x2="264.20" y2="984.70" stroke="#92d050" stroke-width="1.3" />
<line x1="259.40" y1="943.40" x2="269.00" y2="943.40" stroke="#92d050" stroke-width="1.5" />
<line x1="259.40" y1="984.70" x2="269.00" y2="984.70" stroke="#92d050" stroke-width="1.5" />
<line x1="274.20" y1="902.30" x2="274.20" y2="948.50" stroke="#92d050" stroke-width="1.3" />
<line x1="269.40" y1="902.30" x2="279.00" y2="902.30" stroke="#92d050" stroke-width="1.5" />
<line x1="269.40" y1="948.50" x2="279.00" y2="948.50" stroke="#92d050" stroke-width="1.5" />
<line x1="283.50" y1="931.20" x2="283.50" y2="976.20" stroke="#92d050" stroke-width="1.3" />
<line x1="278.70" y1="931.20" x2="288.30" y2="931.20" stroke="#92d050" stroke-width="1.5" />
<line x1="278.70" y1="976.20" x2="288.30" y2="976.20" stroke="#92d050" stroke-width="1.5" />
<line x1="292.80" y1="986.50" x2="292.80" y2="1028.90" stroke="#92d050" stroke-width="1.3" />
<line x1="288.00" y1="986.50" x2="297.60" y2="986.50" stroke="#92d050" stroke-width="1.5" />
<line x1="288.00" y1="1028.90" x2="297.60" y2="1028.90" stroke="#92d050" stroke-width="1.5" />
<line x1="300.70" y1="984.40" x2="300.70" y2="1060.20" stroke="#92d050" stroke-width="1.3" />
<line x1="295.90" y1="984.40" x2="305.50" y2="984.40" stroke="#92d050" stroke-width="1.5" />
<line x1="295.90" y1="1060.20" x2="305.50" y2="1060.20" stroke="#92d050" stroke-width="1.5" />
<line x1="311.30" y1="935.90" x2="311.30" y2="1002.00" stroke="#92d050" stroke-width="1.3" />
<line x1="306.50" y1="935.90" x2="316.10" y2="935.90" stroke="#92d050" stroke-width="1.5" />
<line x1="306.50" y1="1002.00" x2="316.10" y2="1002.00" stroke="#92d050" stroke-width="1.5" />
<line x1="320.80" y1="904.90" x2="320.80" y2="938.40" stroke="#92d050" stroke-width="1.3" />
<line x1="316.00" y1="904.90" x2="325.60" y2="904.90" stroke="#92d050" stroke-width="1.5" />
<line x1="316.00" y1="938.40" x2="325.60" y2="938.40" stroke="#92d050" stroke-width="1.5" />
<line x1="328.50" y1="933.60" x2="328.50" y2="965.50" stroke="#92d050" stroke-width="1.3" />
<line x1="323.70" y1="933.60" x2="333.30" y2="933.60" stroke="#92d050" stroke-width="1.5" />
<line x1="323.70" y1="965.50" x2="333.30" y2="965.50" stroke="#92d050" stroke-width="1.5" />
<line x1="335.50" y1="969.80" x2="335.50" y2="1031.30" stroke="#92d050" stroke-width="1.3" />
<line x1="330.70" y1="969.80" x2="340.30" y2="969.80" stroke="#92d050" stroke-width="1.5" />
<line x1="330.70" y1="1031.30" x2="340.30" y2="1031.30" stroke="#92d050" stroke-width="1.5" />
<line x1="343.90" y1="1004.00" x2="343.90" y2="1070.50" stroke="#92d050" stroke-width="1.3" />
<line x1="339.10" y1="1004.00" x2="348.70" y2="1004.00" stroke="#92d050" stroke-width="1.5" />
<line x1="339.10" y1="1070.50" x2="348.70" y2="1070.50" stroke="#92d050" stroke-width="1.5" />
<line x1="352.10" y1="971.60" x2="352.10" y2="1045.00" stroke="#92d050" stroke-width="1.3" />
<line x1="347.30" y1="971.60" x2="356.90" y2="971.60" stroke="#92d050" stroke-width="1.5" />
<line x1="347.30" y1="1045.00" x2="356.90" y2="1045.00" stroke="#92d050" stroke-width="1.5" />
<line x1="362.20" y1="946.30" x2="362.20" y2="960.30" stroke="#92d050" stroke-width="1.3" />
<line x1="357.40" y1="946.30" x2="367.00" y2="946.30" stroke="#92d050" stroke-width="1.5" />
<line x1="357.40" y1="960.30" x2="367.00" y2="960.30" stroke="#92d050" stroke-width="1.5" />
<line x1="369.80" y1="927.70" x2="369.80" y2="998.10" stroke="#92d050" stroke-width="1.3" />
<line x1="365.00" y1="927.70" x2="374.60" y2="927.70" stroke="#92d050" stroke-width="1.5" />
<line x1="365.00" y1="998.10" x2="374.60" y2="998.10" stroke="#92d050" stroke-width="1.5" />
<line x1="378.40" y1="976.10" x2="378.40" y2="1050.80" stroke="#92d050" stroke-width="1.3" />
<line x1="373.60" y1="976.10" x2="383.20" y2="976.10" stroke="#92d050" stroke-width="1.5" />
<line x1="373.60" y1="1050.80" x2="383.20" y2="1050.80" stroke="#92d050" stroke-width="1.5" />
<line x1="386.70" y1="1047.70" x2="386.70" y2="1066.20" stroke="#92d050" stroke-width="1.3" />
<line x1="381.90" y1="1047.70" x2="391.50" y2="1047.70" stroke="#92d050" stroke-width="1.5" />
<line x1="381.90" y1="1066.20" x2="391.50" y2="1066.20" stroke="#92d050" stroke-width="1.5" />
<line x1="395.90" y1="1044.50" x2="395.90" y2="1106.80" stroke="#92d050" stroke-width="1.3" />
<line x1="391.10" y1="1044.50" x2="400.70" y2="1044.50" stroke="#92d050" stroke-width="1.5" />
<line x1="391.10" y1="1106.80" x2="400.70" y2="1106.80" stroke="#92d050" stroke-width="1.5" />
<line x1="403.80" y1="1019.60" x2="403.80" y2="1039.00" stroke="#92d050" stroke-width="1.3" />
<line x1="399.00" y1="1019.60" x2="408.60" y2="1019.60" stroke="#92d050" stroke-width="1.5" />
<line x1="399.00" y1="1039.00" x2="408.60" y2="1039.00" stroke="#92d050" stroke-width="1.5" />
<line x1="411.80" y1="950.20" x2="411.80" y2="1024.00" stroke="#92d050" stroke-width="1.3" />
<line x1="407.00" y1="950.20" x2="416.60" y2="950.20" stroke="#92d050" stroke-width="1.5" />
<line x1="407.00" y1="1024.00" x2="416.60" y2="1024.00" stroke="#92d050" stroke-width="1.5" />
<line x1="421.50" y1="1012.80" x2="421.50" y2="1034.20" stroke="#92d050" stroke-width="1.3" />
<line x1="416.70" y1="1012.80" x2="426.30" y2="1012.80" stroke="#92d050" stroke-width="1.5" />
<line x1="416.70" y1="1034.20" x2="426.30" y2="1034.20" stroke="#92d050" stroke-width="1.5" />
<line x1="429.30" y1="1067.60" x2="429.30" y2="1087.80" stroke="#92d050" stroke-width="1.3" />
<line x1="424.50" y1="1067.60" x2="434.10" y2="1067.60" stroke="#92d050" stroke-width="1.5" />
<line x1="424.50" y1="1087.80" x2="434.10" y2="1087.80" stroke="#92d050" stroke-width="1.5" />
<line x1="436.30" y1="1071.30" x2="436.30" y2="1134.80" stroke="#92d050" stroke-width="1.3" />
<line x1="431.50" y1="1071.30" x2="441.10" y2="1071.30" stroke="#92d050" stroke-width="1.5" />
<line x1="431.50" y1="1134.80" x2="441.10" y2="1134.80" stroke="#92d050" stroke-width="1.5" />
<line x1="443.80" y1="1059.60" x2="443.80" y2="1108.30" stroke="#92d050" stroke-width="1.3" />
<line x1="439.00" y1="1059.60" x2="448.60" y2="1059.60" stroke="#92d050" stroke-width="1.5" />
<line x1="439.00" y1="1108.30" x2="448.60" y2="1108.30" stroke="#92d050" stroke-width="1.5" />
<line x1="452.30" y1="1032.90" x2="452.30" y2="1058.70" stroke="#92d050" stroke-width="1.3" />
<line x1="447.50" y1="1032.90" x2="457.10" y2="1032.90" stroke="#92d050" stroke-width="1.5" />
<line x1="447.50" y1="1058.70" x2="457.10" y2="1058.70" stroke="#92d050" stroke-width="1.5" />
<line x1="461.90" y1="1009.80" x2="461.90" y2="1032.00" stroke="#92d050" stroke-width="1.3" />
<line x1="457.10" y1="1009.80" x2="466.70" y2="1009.80" stroke="#92d050" stroke-width="1.5" />
<line x1="457.10" y1="1032.00" x2="466.70" y2="1032.00" stroke="#92d050" stroke-width="1.5" />
<line x1="471.10" y1="1056.60" x2="471.10" y2="1077.80" stroke="#92d050" stroke-width="1.3" />
<line x1="466.30" y1="1056.60" x2="475.90" y2="1056.60" stroke="#92d050" stroke-width="1.5" />
<line x1="466.30" y1="1077.80" x2="475.90" y2="1077.80" stroke="#92d050" stroke-width="1.5" />
<line x1="479.60" y1="1097.10" x2="479.60" y2="1124.30" stroke="#92d050" stroke-width="1.3" />
<line x1="474.80" y1="1097.10" x2="484.40" y2="1097.10" stroke="#92d050" stroke-width="1.5" />
<line x1="474.80" y1="1124.30" x2="484.40" y2="1124.30" stroke="#92d050" stroke-width="1.5" />
<line x1="487.40" y1="1084.60" x2="487.40" y2="1158.80" stroke="#92d050" stroke-width="1.3" />
<line x1="482.60" y1="1084.60" x2="492.20" y2="1084.60" stroke="#92d050" stroke-width="1.5" />
<line x1="482.60" y1="1158.80" x2="492.20" y2="1158.80" stroke="#92d050" stroke-width="1.5" />
<line x1="497.30" y1="1061.60" x2="497.30" y2="1094.50" stroke="#92d050" stroke-width="1.3" />
<line x1="492.50" y1="1061.60" x2="502.10" y2="1061.60" stroke="#92d050" stroke-width="1.5" />
<line x1="492.50" y1="1094.50" x2="502.10" y2="1094.50" stroke="#92d050" stroke-width="1.5" />
<line x1="507.40" y1="1008.90" x2="507.40" y2="1036.00" stroke="#92d050" stroke-width="1.3" />
<line x1="502.60" y1="1008.90" x2="512.20" y2="1008.90" stroke="#92d050" stroke-width="1.5" />
<line x1="502.60" y1="1036.00" x2="512.20" y2="1036.00" stroke="#92d050" stroke-width="1.5" />
<line x1="515.80" y1="1017.00" x2="515.80" y2="1083.90" stroke="#92d050" stroke-width="1.3" />
<line x1="511.00" y1="1017.00" x2="520.60" y2="1017.00" stroke="#92d050" stroke-width="1.5" />
<line x1="511.00" y1="1083.90" x2="520.60" y2="1083.90" stroke="#92d050" stroke-width="1.5" />
<line x1="525.00" y1="1091.60" x2="525.00" y2="1111.80" stroke="#92d050" stroke-width="1.3" />
<line x1="520.20" y1="1091.60" x2="529.80" y2="1091.60" stroke="#92d050" stroke-width="1.5" />
<line x1="520.20" y1="1111.80" x2="529.80" y2="1111.80" stroke="#92d050" stroke-width="1.5" />
<line x1="535.60" y1="1120.40" x2="535.60" y2="1147.60" stroke="#92d050" stroke-width="1.3" />
<line x1="530.80" y1="1120.40" x2="540.40" y2="1120.40" stroke="#92d050" stroke-width="1.5" />
<line x1="530.80" y1="1147.60" x2="540.40" y2="1147.60" stroke="#92d050" stroke-width="1.5" />
<line x1="543.40" y1="1064.10" x2="543.40" y2="1126.10" stroke="#92d050" stroke-width="1.3" />
<line x1="538.60" y1="1064.10" x2="548.20" y2="1064.10" stroke="#92d050" stroke-width="1.5" />
<line x1="538.60" y1="1126.10" x2="548.20" y2="1126.10" stroke="#92d050" stroke-width="1.5" />
<line x1="551.40" y1="1039.70" x2="551.40" y2="1072.10" stroke="#92d050" stroke-width="1.3" />
<line x1="546.60" y1="1039.70" x2="556.20" y2="1039.70" stroke="#92d050" stroke-width="1.5" />
<line x1="546.60" y1="1072.10" x2="556.20" y2="1072.10" stroke="#92d050" stroke-width="1.5" />
<line x1="558.50" y1="1032.10" x2="558.50" y2="1051.70" stroke="#92d050" stroke-width="1.3" />
<line x1="553.70" y1="1032.10" x2="563.30" y2="1032.10" stroke="#92d050" stroke-width="1.5" />
<line x1="553.70" y1="1051.70" x2="563.30" y2="1051.70" stroke="#92d050" stroke-width="1.5" />
<line x1="567.50" y1="1081.00" x2="567.50" y2="1110.00" stroke="#92d050" stroke-width="1.3" />
<line x1="562.70" y1="1081.00" x2="572.30" y2="1081.00" stroke="#92d050" stroke-width="1.5" />
<line x1="562.70" y1="1110.00" x2="572.30" y2="1110.00" stroke="#92d050" stroke-width="1.5" />
<line x1="597.90" y1="1041.00" x2="597.90" y2="1078.00" stroke="#92d050" stroke-width="1.3" />
<line x1="593.10" y1="1041.00" x2="602.70" y2="1041.00" stroke="#92d050" stroke-width="1.5" />
<line x1="593.10" y1="1078.00" x2="602.70" y2="1078.00" stroke="#92d050" stroke-width="1.5" />
<line x1="606.40" y1="999.70" x2="606.40" y2="1073.10" stroke="#92d050" stroke-width="1.3" />
<line x1="601.60" y1="999.70" x2="611.20" y2="999.70" stroke="#92d050" stroke-width="1.5" />
<line x1="601.60" y1="1073.10" x2="611.20" y2="1073.10" stroke="#92d050" stroke-width="1.5" />
<line x1="615.10" y1="1041.20" x2="615.10" y2="1090.80" stroke="#92d050" stroke-width="1.3" />
<line x1="610.30" y1="1041.20" x2="619.90" y2="1041.20" stroke="#92d050" stroke-width="1.5" />
<line x1="610.30" y1="1090.80" x2="619.90" y2="1090.80" stroke="#92d050" stroke-width="1.5" />
<line x1="625.20" y1="1097.60" x2="625.20" y2="1122.90" stroke="#92d050" stroke-width="1.3" />
<line x1="620.40" y1="1097.60" x2="630.00" y2="1097.60" stroke="#92d050" stroke-width="1.5" />
<line x1="620.40" y1="1122.90" x2="630.00" y2="1122.90" stroke="#92d050" stroke-width="1.5" />
<line x1="632.60" y1="1072.80" x2="632.60" y2="1143.20" stroke="#92d050" stroke-width="1.3" />
<line x1="627.80" y1="1072.80" x2="637.40" y2="1072.80" stroke="#92d050" stroke-width="1.5" />
<line x1="627.80" y1="1143.20" x2="637.40" y2="1143.20" stroke="#92d050" stroke-width="1.5" />
<line x1="642.50" y1="1037.20" x2="642.50" y2="1066.70" stroke="#92d050" stroke-width="1.3" />
<line x1="637.70" y1="1037.20" x2="647.30" y2="1037.20" stroke="#92d050" stroke-width="1.5" />
<line x1="637.70" y1="1066.70" x2="647.30" y2="1066.70" stroke="#92d050" stroke-width="1.5" />
<line x1="650.00" y1="987.30" x2="650.00" y2="1047.10" stroke="#92d050" stroke-width="1.3" />
<line x1="645.20" y1="987.30" x2="654.80" y2="987.30" stroke="#92d050" stroke-width="1.5" />
<line x1="645.20" y1="1047.10" x2="654.80" y2="1047.10" stroke="#92d050" stroke-width="1.5" />
<line x1="660.40" y1="1051.50" x2="660.40" y2="1077.70" stroke="#92d050" stroke-width="1.3" />
<line x1="655.60" y1="1051.50" x2="665.20" y2="1051.50" stroke="#92d050" stroke-width="1.5" />
<line x1="655.60" y1="1077.70" x2="665.20" y2="1077.70" stroke="#92d050" stroke-width="1.5" />
<line x1="670.90" y1="1072.00" x2="670.90" y2="1140.70" stroke="#92d050" stroke-width="1.3" />
<line x1="666.10" y1="1072.00" x2="675.70" y2="1072.00" stroke="#92d050" stroke-width="1.5" />
<line x1="666.10" y1="1140.70" x2="675.70" y2="1140.70" stroke="#92d050" stroke-width="1.5" />
<line x1="680.00" y1="1083.70" x2="680.00" y2="1123.80" stroke="#92d050" stroke-width="1.3" />
<line x1="675.20" y1="1083.70" x2="684.80" y2="1083.70" stroke="#92d050" stroke-width="1.5" />
<line x1="675.20" y1="1123.80" x2="684.80" y2="1123.80" stroke="#92d050" stroke-width="1.5" />
<line x1="687.20" y1="1048.00" x2="687.20" y2="1064.40" stroke="#92d050" stroke-width="1.3" />
<line x1="682.40" y1="1048.00" x2="692.00" y2="1048.00" stroke="#92d050" stroke-width="1.5" />
<line x1="682.40" y1="1064.40" x2="692.00" y2="1064.40" stroke="#92d050" stroke-width="1.5" />
<line x1="697.70" y1="1001.40" x2="697.70" y2="1030.20" stroke="#92d050" stroke-width="1.3" />
<line x1="692.90" y1="1001.40" x2="702.50" y2="1001.40" stroke="#92d050" stroke-width="1.5" />
<line x1="692.90" y1="1030.20" x2="702.50" y2="1030.20" stroke="#92d050" stroke-width="1.5" />
<line x1="707.20" y1="1000.60" x2="707.20" y2="1030.50" stroke="#92d050" stroke-width="1.3" />
<line x1="702.40" y1="1000.60" x2="712.00" y2="1000.60" stroke="#92d050" stroke-width="1.5" />
<line x1="702.40" y1="1030.50" x2="712.00" y2="1030.50" stroke="#92d050" stroke-width="1.5" />
<line x1="717.10" y1="1047.00" x2="717.10" y2="1098.00" stroke="#92d050" stroke-width="1.3" />
<line x1="712.30" y1="1047.00" x2="721.90" y2="1047.00" stroke="#92d050" stroke-width="1.5" />
<line x1="712.30" y1="1098.00" x2="721.90" y2="1098.00" stroke="#92d050" stroke-width="1.5" />
<line x1="725.00" y1="1091.60" x2="725.00" y2="1116.50" stroke="#92d050" stroke-width="1.3" />
<line x1="720.20" y1="1091.60" x2="729.80" y2="1091.60" stroke="#92d050" stroke-width="1.5" />
<line x1="720.20" y1="1116.50" x2="729.80" y2="1116.50" stroke="#92d050" stroke-width="1.5" />
<line x1="734.60" y1="1062.20" x2="734.60" y2="1080.50" stroke="#92d050" stroke-width="1.3" />
<line x1="729.80" y1="1062.20" x2="739.40" y2="1062.20" stroke="#92d050" stroke-width="1.5" />
<line x1="729.80" y1="1080.50" x2="739.40" y2="1080.50" stroke="#92d050" stroke-width="1.5" />
<line x1="742.30" y1="1001.40" x2="742.30" y2="1050.00" stroke="#92d050" stroke-width="1.3" />
<line x1="737.50" y1="1001.40" x2="747.10" y2="1001.40" stroke="#92d050" stroke-width="1.5" />
<line x1="737.50" y1="1050.00" x2="747.10" y2="1050.00" stroke="#92d050" stroke-width="1.5" />
<line x1="752.30" y1="971.40" x2="752.30" y2="1023.50" stroke="#92d050" stroke-width="1.3" />
<line x1="747.50" y1="971.40" x2="757.10" y2="971.40" stroke="#92d050" stroke-width="1.5" />
<line x1="747.50" y1="1023.50" x2="757.10" y2="1023.50" stroke="#92d050" stroke-width="1.5" />
<line x1="760.20" y1="1015.70" x2="760.20" y2="1086.60" stroke="#92d050" stroke-width="1.3" />
<line x1="755.40" y1="1015.70" x2="765.00" y2="1015.70" stroke="#92d050" stroke-width="1.5" />
<line x1="755.40" y1="1086.60" x2="765.00" y2="1086.60" stroke="#92d050" stroke-width="1.5" />
<line x1="767.80" y1="1091.40" x2="767.80" y2="1106.40" stroke="#92d050" stroke-width="1.3" />
<line x1="763.00" y1="1091.40" x2="772.60" y2="1091.40" stroke="#92d050" stroke-width="1.5" />
<line x1="763.00" y1="1106.40" x2="772.60" y2="1106.40" stroke="#92d050" stroke-width="1.5" />
<line x1="775.60" y1="1093.00" x2="775.60" y2="1134.60" stroke="#92d050" stroke-width="1.3" />
<line x1="770.80" y1="1093.00" x2="780.40" y2="1093.00" stroke="#92d050" stroke-width="1.5" />
<line x1="770.80" y1="1134.60" x2="780.40" y2="1134.60" stroke="#92d050" stroke-width="1.5" />
<line x1="782.60" y1="1073.00" x2="782.60" y2="1097.90" stroke="#92d050" stroke-width="1.3" />
<line x1="777.80" y1="1073.00" x2="787.40" y2="1073.00" stroke="#92d050" stroke-width="1.5" />
<line x1="777.80" y1="1097.90" x2="787.40" y2="1097.90" stroke="#92d050" stroke-width="1.5" />
<line x1="790.80" y1="1029.20" x2="790.80" y2="1078.70" stroke="#92d050" stroke-width="1.3" />
<line x1="786.00" y1="1029.20" x2="795.60" y2="1029.20" stroke="#92d050" stroke-width="1.5" />
<line x1="786.00" y1="1078.70" x2="795.60" y2="1078.70" stroke="#92d050" stroke-width="1.5" />
<line x1="798.10" y1="1018.80" x2="798.10" y2="1055.20" stroke="#92d050" stroke-width="1.3" />
<line x1="793.30" y1="1018.80" x2="802.90" y2="1018.80" stroke="#92d050" stroke-width="1.5" />
<line x1="793.30" y1="1055.20" x2="802.90" y2="1055.20" stroke="#92d050" stroke-width="1.5" />
<line x1="808.40" y1="1017.10" x2="808.40" y2="1091.90" stroke="#92d050" stroke-width="1.3" />
<line x1="803.60" y1="1017.10" x2="813.20" y2="1017.10" stroke="#92d050" stroke-width="1.5" />
<line x1="803.60" y1="1091.90" x2="813.20" y2="1091.90" stroke="#92d050" stroke-width="1.5" />
<line x1="817.70" y1="1063.50" x2="817.70" y2="1120.40" stroke="#92d050" stroke-width="1.3" />
<line x1="812.90" y1="1063.50" x2="822.50" y2="1063.50" stroke="#92d050" stroke-width="1.5" />
<line x1="812.90" y1="1120.40" x2="822.50" y2="1120.40" stroke="#92d050" stroke-width="1.5" />
<line x1="826.70" y1="1088.70" x2="826.70" y2="1111.40" stroke="#92d050" stroke-width="1.3" />
<line x1="821.90" y1="1088.70" x2="831.50" y2="1088.70" stroke="#92d050" stroke-width="1.5" />
<line x1="821.90" y1="1111.40" x2="831.50" y2="1111.40" stroke="#92d050" stroke-width="1.5" />
<line x1="833.60" y1="1054.50" x2="833.60" y2="1069.60" stroke="#92d050" stroke-width="1.3" />
<line x1="828.80" y1="1054.50" x2="838.40" y2="1054.50" stroke="#92d050" stroke-width="1.5" />
<line x1="828.80" y1="1069.60" x2="838.40" y2="1069.60" stroke="#92d050" stroke-width="1.5" />
<line x1="843.90" y1="970.20" x2="843.90" y2="1027.70" stroke="#92d050" stroke-width="1.3" />
<line x1="839.10" y1="970.20" x2="848.70" y2="970.20" stroke="#92d050" stroke-width="1.5" />
<line x1="839.10" y1="1027.70" x2="848.70" y2="1027.70" stroke="#92d050" stroke-width="1.5" />
<line x1="854.40" y1="1042.30" x2="854.40" y2="1057.70" stroke="#92d050" stroke-width="1.3" />
<line x1="849.60" y1="1042.30" x2="859.20" y2="1042.30" stroke="#92d050" stroke-width="1.5" />
<line x1="849.60" y1="1057.70" x2="859.20" y2="1057.70" stroke="#92d050" stroke-width="1.5" />
<path d="M142.4,1067.4 L143.3,1069.2 L144.6,1070.8 L145.1,1072.8 L146.2,1074.5 L146.6,1076.5 L147.4,1078.3 L148.4,1080.0 L149.4,1081.8 L150.0,1083.7 L151.1,1085.4 L152.2,1087.1 L153.1,1088.8 L153.9,1091.0 L155.8,1090.7 L157.5,1089.4 L157.2,1087.2 L158.8,1085.6 L158.8,1083.5 L159.5,1081.6 L159.6,1079.6 L160.0,1077.6 L159.8,1075.5 L160.7,1073.7 L160.2,1071.6 L160.6,1069.6 L160.6,1067.6 L161.3,1065.7 L161.7,1063.7 L161.7,1061.7 L162.7,1059.8 L162.0,1057.7 L162.9,1055.8 L162.8,1053.8 L163.5,1051.8 L164.0,1049.9 L164.1,1047.9 L163.6,1045.8 L164.0,1043.8 L164.7,1041.9 L165.3,1040.0 L164.4,1037.9 L165.3,1035.9 L165.6,1033.9 L165.9,1032.0 L165.5,1029.9 L166.2,1028.0 L166.0,1026.0 L166.7,1024.0 L165.8,1021.9 L167.1,1020.0 L166.6,1018.0 L166.8,1016.0 L166.6,1014.0 L167.0,1012.0 L167.7,1010.0 L167.8,1008.0 L167.4,1006.0 L167.8,1004.0 L167.7,1002.0 L168.0,1000.0 L168.3,998.0 L169.1,996.1 L170.4,994.4 L170.9,992.5 L171.2,990.5 L171.3,988.5 L171.9,986.5 L172.7,984.7 L173.4,982.8 L173.8,980.8 L174.3,978.9 L174.7,976.9 L176.2,975.6 L177.6,975.5 L179.1,976.7 L180.9,977.8 L181.3,979.9 L182.6,981.5 L183.6,983.3 L183.5,985.5 L184.3,987.2 L184.8,989.2 L186.0,991.0 L185.6,993.1 L185.9,995.1 L186.3,997.0 L186.9,999.0 L187.1,1000.9 L187.5,1002.9 L188.1,1004.8 L188.7,1006.7 L188.6,1008.8 L189.0,1010.8 L189.3,1012.7 L190.5,1014.5 L190.1,1016.7 L191.1,1018.5 L191.2,1020.6 L192.7,1022.2 L192.3,1024.4 L193.1,1026.3 L194.3,1028.0 L194.2,1030.1 L195.5,1031.8 L196.2,1033.7 L196.5,1035.7 L197.4,1037.5 L197.7,1039.5 L198.0,1041.5 L199.0,1043.3 L199.8,1045.1 L201.1,1046.7 L202.2,1048.4 L204.2,1047.7 L205.0,1045.7 L206.0,1043.9 L206.3,1041.9 L206.3,1039.9 L206.3,1037.8 L207.4,1036.0 L207.9,1034.1 L207.7,1032.0 L208.3,1030.1 L208.9,1028.2 L209.2,1026.2 L208.6,1024.0 L209.5,1022.2 L209.3,1020.1 L209.7,1018.1 L210.9,1016.3 L210.8,1014.3 L211.4,1012.4 L211.7,1010.4 L211.9,1008.4 L212.2,1006.4 L212.7,1004.5 L213.6,1002.6 L213.7,1000.6 L213.7,998.5 L213.8,996.5 L214.4,994.6 L215.2,992.7 L215.2,990.7 L215.9,988.8 L216.4,986.8 L215.9,984.7 L217.0,982.9 L216.6,980.8 L217.9,979.0 L217.6,976.9 L218.1,974.9 L219.3,973.2 L219.1,971.1 L219.4,969.1 L220.7,967.3 L220.8,965.3 L221.6,963.4 L221.5,961.4 L222.1,959.4 L223.2,957.7 L223.2,955.6 L224.3,953.8 L224.1,951.7 L225.7,950.2 L227.0,948.6 L228.0,950.4 L229.4,952.0 L229.9,953.9 L229.6,956.1 L230.7,957.9 L230.8,959.9 L232.0,961.7 L232.3,963.7 L233.1,965.6 L233.0,967.6 L233.1,969.7 L234.0,971.5 L234.7,973.4 L234.5,975.5 L235.1,977.4 L235.8,979.3 L236.9,981.1 L236.7,983.2 L237.3,985.1 L237.2,987.2 L238.3,989.0 L238.3,991.0 L238.7,993.0 L239.5,994.9 L239.7,996.9 L240.0,998.9 L240.2,1000.9 L241.2,1002.7 L241.9,1004.6 L241.7,1006.7 L243.3,1008.3 L243.0,1010.5 L243.7,1012.4 L244.4,1014.2 L245.1,1016.1 L245.4,1018.1 L245.8,1020.1 L246.7,1021.9 L247.4,1023.8 L249.0,1025.2 L250.0,1026.7 L251.1,1025.7 L252.7,1024.4 L253.3,1022.5 L253.0,1020.3 L254.0,1018.5 L254.5,1016.5 L254.2,1014.5 L255.0,1012.6 L255.8,1010.7 L256.1,1008.7 L256.0,1006.6 L256.9,1004.8 L256.7,1002.7 L257.3,1000.8 L257.5,998.8 L258.5,996.9 L258.4,994.9 L258.9,992.9 L259.1,991.0 L259.1,988.9 L260.1,987.1 L260.2,985.1 L260.6,983.1 L260.5,981.0 L260.7,979.0 L261.6,977.2 L262.3,975.3 L262.7,973.3 L262.5,971.2 L262.6,969.2 L263.5,967.4 L264.3,965.5 L263.8,963.3 L264.8,961.5 L264.5,959.4 L265.1,957.5 L265.2,955.5 L265.8,953.6 L266.3,951.6 L267.4,949.8 L267.8,947.8 L267.3,945.7 L267.9,943.8 L269.2,942.0 L268.8,939.9 L269.4,938.0 L270.1,936.1 L270.2,934.0 L270.9,932.1 L271.6,930.2 L272.1,928.3 L273.4,926.6 L273.3,924.5 L274.5,922.7 L275.9,924.0 L277.1,925.4 L277.4,927.4 L278.2,929.3 L278.6,931.2 L279.6,933.0 L280.3,934.9 L280.0,937.1 L280.8,938.9 L281.1,940.9 L281.4,942.9 L281.7,944.9 L282.6,946.7 L282.9,948.7 L282.7,950.8 L283.5,952.7 L284.2,954.6 L284.2,956.6 L285.0,958.5 L284.8,960.6 L286.0,962.4 L285.5,964.5 L286.1,966.4 L286.7,968.4 L286.3,970.4 L287.4,972.3 L287.7,974.3 L288.2,976.2 L287.9,978.3 L288.0,980.3 L288.3,982.3 L288.9,984.2 L288.7,986.2 L289.8,988.1 L289.9,990.1 L289.8,992.2 L289.7,994.2 L290.4,996.1 L290.6,998.1 L290.9,1000.1 L291.7,1002.0 L291.4,1004.1 L292.0,1006.0 L292.8,1007.9 L293.1,1009.9 L293.0,1011.9 L293.8,1013.8 L294.4,1015.7 L293.9,1017.8 L294.7,1019.7 L295.1,1021.7 L295.3,1023.7 L295.5,1025.7 L296.9,1027.4 L297.2,1029.4 L298.2,1030.8 L299.2,1030.9 L300.1,1029.2 L301.1,1027.3 L301.3,1025.4 L301.7,1023.4 L301.9,1021.4 L302.5,1019.4 L302.5,1017.4 L303.5,1015.6 L303.8,1013.6 L304.2,1011.6 L303.7,1009.5 L304.7,1007.7 L305.1,1005.7 L305.1,1003.7 L306.0,1001.8 L306.4,999.8 L306.5,997.8 L307.0,995.9 L307.2,993.9 L307.9,992.0 L307.3,989.8 L308.4,988.0 L308.7,986.0 L309.0,984.0 L308.9,982.0 L309.0,980.0 L310.0,978.1 L310.6,976.2 L310.3,974.1 L310.6,972.1 L310.9,970.2 L311.1,968.2 L312.1,966.3 L312.8,964.4 L312.9,962.4 L312.7,960.3 L313.4,958.4 L313.0,956.3 L314.3,954.5 L314.0,952.4 L313.9,950.4 L314.9,948.5 L314.6,946.5 L315.0,944.5 L315.0,942.5 L315.7,940.6 L316.0,938.6 L316.5,936.6 L315.8,934.5 L317.0,932.7 L316.3,930.6 L316.7,928.6 L317.4,926.7 L317.3,924.6 L317.7,922.7 L318.4,920.8 L318.6,918.6 L320.1,918.8 L321.6,920.0 L321.7,922.2 L322.4,924.1 L323.3,925.9 L324.4,927.6 L324.1,929.8 L325.5,931.5 L325.4,933.6 L326.0,935.5 L326.9,937.3 L326.7,939.4 L327.1,941.4 L327.6,943.3 L328.2,945.2 L328.5,947.2 L328.7,949.2 L329.5,951.1 L329.0,953.2 L329.2,955.2 L329.7,957.2 L329.8,959.2 L330.8,961.0 L330.2,963.1 L331.6,965.0 L331.3,967.0 L332.0,969.0 L331.8,971.0 L331.8,973.0 L332.0,975.0 L332.5,977.0 L332.9,978.9 L333.3,980.9 L333.2,982.9 L333.6,984.9 L334.0,986.9 L333.6,988.9 L334.1,990.9 L334.4,992.8 L335.0,994.8 L334.7,996.8 L335.5,998.7 L335.7,1000.7 L335.7,1002.8 L335.8,1004.8 L335.8,1006.8 L336.4,1008.7 L336.6,1010.7 L337.0,1012.7 L337.6,1014.6 L338.0,1016.6 L339.2,1018.4 L339.4,1020.4 L340.0,1022.3 L339.4,1024.5 L339.9,1026.4 L340.4,1028.3 L341.3,1030.2 L341.6,1032.2 L342.3,1034.1 L342.2,1036.1 L342.2,1038.2 L343.5,1039.9 L344.4,1041.8 L344.9,1043.6 L345.6,1045.4 L347.2,1045.5 L347.9,1043.4 L348.0,1041.4 L347.9,1039.4 L348.3,1037.4 L348.7,1035.4 L349.7,1033.6 L349.6,1031.5 L350.5,1029.6 L350.6,1027.6 L350.7,1025.6 L350.6,1023.6 L351.2,1021.7 L350.6,1019.6 L350.8,1017.6 L351.6,1015.7 L351.7,1013.7 L351.6,1011.6 L351.9,1009.7 L351.9,1007.6 L353.2,1005.8 L353.2,1003.8 L353.8,1001.8 L354.1,999.9 L353.8,997.8 L354.4,995.9 L354.3,993.8 L355.2,992.0 L355.5,990.0 L355.0,987.9 L355.2,985.9 L355.8,983.9 L356.5,982.0 L356.6,980.0 L356.5,978.0 L357.8,976.2 L358.1,974.2 L358.1,972.2 L357.9,970.1 L359.3,968.3 L359.2,966.3 L359.0,964.2 L359.7,962.3 L360.5,960.4 L361.2,958.5 L361.2,956.5 L361.8,954.5 L361.7,952.5 L362.1,950.5 L363.3,948.7 L363.2,946.7 L363.4,944.6 L364.9,943.2 L366.5,944.1 L367.1,946.0 L367.3,948.0 L367.6,950.0 L368.0,952.0 L368.3,954.0 L369.0,955.9 L369.8,957.7 L369.3,959.9 L370.5,961.7 L370.3,963.7 L370.8,965.7 L370.8,967.7 L371.1,969.7 L372.1,971.6 L371.9,973.6 L372.3,975.6 L372.9,977.5 L373.6,979.4 L373.0,981.5 L373.7,983.5 L374.6,985.3 L374.7,987.3 L374.1,989.5 L375.3,991.3 L375.4,993.3 L375.2,995.4 L375.5,997.3 L376.0,999.3 L376.2,1001.3 L377.3,1003.1 L377.5,1005.1 L376.8,1007.3 L377.3,1009.2 L378.5,1011.0 L378.8,1013.0 L378.9,1015.0 L378.4,1017.1 L379.6,1019.0 L379.4,1021.0 L379.4,1023.1 L380.1,1025.0 L380.2,1027.0 L381.3,1028.8 L381.8,1030.7 L382.4,1032.7 L381.9,1034.8 L383.0,1036.6 L382.4,1038.8 L383.1,1040.7 L384.1,1042.5 L383.8,1044.6 L385.0,1046.4 L385.0,1048.5 L385.9,1050.3 L385.5,1052.5 L385.7,1054.4 L386.1,1056.4 L387.6,1058.2 L386.9,1060.3 L387.6,1062.2 L387.6,1064.2 L388.3,1066.2 L388.4,1068.2 L388.7,1070.1 L388.8,1072.2 L389.9,1074.0 L390.2,1076.0 L389.9,1078.0 L390.6,1080.0 L390.8,1082.0 L391.6,1083.8 L391.2,1086.0 L392.6,1087.6 L393.7,1088.6 L394.6,1086.7 L394.8,1084.6 L395.0,1082.6 L396.0,1080.8 L395.9,1078.7 L396.6,1076.8 L396.6,1074.8 L397.9,1073.0 L397.8,1071.0 L397.9,1068.9 L397.9,1066.9 L399.0,1065.1 L399.5,1063.1 L399.9,1061.2 L399.3,1059.0 L400.0,1057.1 L400.2,1055.1 L401.1,1053.3 L400.6,1051.2 L401.4,1049.3 L402.1,1047.3 L402.1,1045.3 L401.5,1043.2 L401.8,1041.2 L402.1,1039.3 L403.0,1037.4 L403.1,1035.4 L403.2,1033.4 L403.3,1031.4 L403.5,1029.4 L404.0,1027.4 L404.3,1025.4 L404.8,1023.5 L404.9,1021.5 L405.2,1019.5 L405.6,1017.6 L405.9,1015.6 L406.1,1013.6 L405.6,1011.5 L406.7,1009.6 L407.2,1007.7 L407.1,1005.6 L407.9,1003.7 L407.4,1001.6 L408.7,999.8 L408.4,997.7 L409.1,995.8 L408.9,993.8 L409.4,991.8 L409.8,989.9 L410.3,987.9 L410.5,985.9 L411.5,984.1 L413.0,982.8 L413.8,983.1 L414.2,985.0 L415.0,986.8 L415.4,988.8 L415.6,990.8 L416.3,992.7 L417.3,994.5 L417.7,996.5 L417.8,998.5 L418.6,1000.4 L418.7,1002.4 L418.3,1004.5 L418.6,1006.5 L419.6,1008.3 L419.4,1010.4 L419.8,1012.4 L420.0,1014.3 L420.4,1016.3 L421.0,1018.2 L421.8,1020.1 L421.2,1022.2 L422.0,1024.1 L421.9,1026.2 L422.5,1028.1 L422.5,1030.1 L422.2,1032.2 L423.4,1034.1 L423.1,1036.1 L423.2,1038.1 L423.5,1040.1 L423.3,1042.1 L424.1,1044.0 L423.7,1046.1 L424.2,1048.1 L424.1,1050.1 L425.3,1052.0 L425.4,1054.0 L425.6,1056.0 L425.1,1058.0 L426.4,1059.9 L426.4,1061.9 L426.1,1064.0 L426.1,1066.0 L427.4,1067.8 L427.4,1069.8 L427.5,1071.8 L427.8,1073.8 L428.2,1075.8 L428.6,1077.7 L429.6,1079.6 L430.1,1081.5 L430.8,1083.4 L430.5,1085.5 L431.6,1087.3 L432.0,1089.3 L431.8,1091.4 L432.7,1093.2 L433.3,1095.1 L433.8,1097.1 L434.5,1098.9 L435.0,1100.9 L436.2,1102.6 L437.2,1104.3 L438.0,1106.2 L438.8,1108.0 L439.2,1110.0 L439.0,1108.1 L439.3,1106.1 L440.1,1104.2 L441.0,1102.4 L441.0,1100.3 L440.9,1098.3 L441.8,1096.4 L441.4,1094.3 L441.7,1092.3 L442.2,1090.4 L442.7,1088.5 L443.4,1086.5 L443.4,1084.5 L444.1,1082.6 L443.7,1080.5 L445.1,1078.7 L444.7,1076.6 L445.7,1074.8 L445.1,1072.6 L446.5,1070.9 L446.2,1068.8 L447.3,1067.0 L447.7,1065.0 L448.0,1063.0 L448.0,1061.0 L448.1,1058.9 L448.8,1057.0 L450.1,1055.3 L449.7,1053.1 L450.7,1051.3 L451.2,1049.4 L451.8,1047.5 L451.8,1045.4 L452.3,1043.5 L452.8,1041.5 L454.4,1039.9 L454.3,1037.8 L455.2,1036.0 L455.7,1034.0 L455.8,1032.0 L456.3,1030.0 L456.8,1028.1 L458.4,1026.5 L458.3,1024.3 L460.0,1022.9 L460.3,1020.9 L461.8,1020.5 L463.5,1021.8 L463.5,1023.9 L464.6,1025.7 L464.9,1027.6 L465.1,1029.6 L466.0,1031.5 L466.2,1033.5 L465.8,1035.6 L466.8,1037.5 L466.9,1039.5 L466.8,1041.5 L467.7,1043.4 L468.0,1045.4 L468.3,1047.4 L468.4,1049.4 L468.7,1051.3 L468.7,1053.4 L469.2,1055.3 L469.1,1057.4 L470.4,1059.2 L470.0,1061.3 L470.1,1063.3 L471.2,1065.1 L471.7,1067.1 L471.5,1069.1 L472.2,1071.0 L472.1,1073.1 L472.1,1075.1 L473.1,1077.0 L473.4,1078.9 L473.2,1081.0 L473.9,1082.9 L474.1,1084.9 L474.2,1086.9 L474.9,1088.8 L475.3,1090.8 L475.2,1092.8 L475.5,1094.8 L475.3,1096.9 L476.1,1098.8 L477.1,1100.6 L477.3,1102.6 L477.2,1104.7 L477.9,1106.6 L478.0,1108.6 L478.3,1110.6 L478.9,1112.5 L480.2,1114.2 L479.7,1116.4 L480.7,1118.2 L481.6,1120.1 L482.2,1122.0 L482.0,1124.1 L483.4,1125.7 L484.4,1127.4 L485.5,1128.8 L487.2,1128.0 L487.5,1125.9 L488.4,1124.1 L488.2,1122.0 L489.1,1120.1 L489.4,1118.2 L489.7,1116.2 L490.6,1114.3 L490.7,1112.3 L490.8,1110.3 L492.2,1108.5 L492.0,1106.5 L492.0,1104.4 L492.2,1102.4 L493.4,1100.6 L493.6,1098.6 L493.5,1096.5 L494.4,1094.7 L495.1,1092.8 L495.3,1090.8 L495.3,1088.8 L495.9,1086.8 L496.4,1084.9 L496.8,1082.9 L496.5,1080.9 L497.7,1079.0 L498.1,1077.1 L498.2,1075.1 L498.7,1073.1 L498.4,1071.0 L499.4,1069.2 L498.8,1067.1 L499.2,1065.1 L500.0,1063.2 L500.7,1061.3 L500.1,1059.1 L500.6,1057.2 L500.7,1055.2 L501.5,1053.3 L501.4,1051.3 L501.8,1049.3 L502.7,1047.4 L502.8,1045.4 L503.5,1043.5 L503.1,1041.4 L503.7,1039.5 L503.2,1037.4 L504.6,1035.6 L504.0,1033.5 L504.6,1031.5 L505.0,1029.6 L505.8,1027.7 L505.7,1025.6 L506.7,1023.9 L506.9,1021.8 L507.5,1019.9 L508.7,1021.5 L510.2,1023.1 L509.9,1025.3 L511.0,1027.0 L511.8,1028.9 L511.4,1031.1 L512.6,1032.8 L512.9,1034.8 L513.4,1036.8 L513.4,1038.8 L514.5,1040.6 L514.5,1042.6 L515.2,1044.5 L514.8,1046.7 L516.2,1048.4 L515.8,1050.5 L516.6,1052.4 L516.7,1054.4 L516.9,1056.4 L517.0,1058.4 L518.0,1060.3 L518.2,1062.3 L518.6,1064.3 L517.9,1066.4 L519.2,1068.2 L519.4,1070.2 L519.3,1072.3 L519.5,1074.3 L519.4,1076.3 L520.6,1078.1 L520.7,1080.1 L521.0,1082.1 L520.8,1084.2 L521.2,1086.1 L521.5,1088.1 L521.2,1090.2 L521.8,1092.1 L522.0,1094.2 L522.5,1096.1 L524.0,1097.7 L523.9,1099.8 L525.2,1101.5 L526.3,1103.3 L525.9,1105.5 L527.4,1107.1 L528.0,1109.1 L528.1,1111.1 L528.5,1113.1 L528.0,1115.2 L528.5,1117.1 L529.3,1119.0 L529.5,1121.0 L529.5,1123.0 L529.8,1125.0 L530.3,1127.0 L530.8,1128.9 L531.6,1130.8 L531.8,1132.8 L531.7,1134.8 L532.2,1136.8 L532.5,1138.8 L533.4,1140.8 L535.4,1140.3 L535.4,1138.1 L535.9,1136.1 L537.3,1134.4 L537.3,1132.4 L537.2,1130.3 L538.2,1128.5 L538.0,1126.4 L538.4,1124.4 L538.8,1122.5 L539.3,1120.6 L539.8,1118.6 L539.4,1116.5 L540.5,1114.7 L540.7,1112.7 L540.8,1110.7 L541.4,1108.7 L541.8,1106.8 L541.2,1104.7 L542.1,1102.8 L542.6,1100.8 L543.0,1098.9 L543.3,1096.9 L543.1,1094.8 L544.4,1093.0 L544.5,1091.0 L544.3,1088.9 L544.9,1087.0 L545.9,1085.2 L545.3,1083.0 L545.9,1081.1 L546.9,1079.3 L547.2,1077.3 L546.8,1075.2 L547.8,1073.3 L547.7,1071.3 L548.5,1069.4 L549.0,1067.4 L548.6,1065.3 L549.2,1063.4 L549.6,1061.4 L550.1,1059.5 L550.3,1057.5 L550.9,1055.6 L551.7,1053.7 L552.2,1051.8 L552.3,1049.7 L553.3,1047.9 L554.2,1046.1 L554.3,1044.1 L554.6,1042.1 L555.6,1040.3 L556.0,1038.3 L557.0,1036.5 L558.5,1037.9 L559.7,1039.6 L559.4,1041.8 L560.4,1043.6 L560.5,1045.7 L560.1,1047.8 L560.7,1049.7 L560.9,1051.7 L561.4,1053.6 L561.7,1055.6 L561.9,1057.6 L561.8,1059.6 L563.0,1061.5 L562.6,1063.6 L563.5,1065.5 L563.8,1067.4 L563.5,1069.5 L564.0,1071.4 L564.1,1073.5 L564.3,1075.4 L565.0,1077.4 L565.7,1079.3 L566.3,1081.2 L565.9,1083.3 L566.0,1085.3 L566.8,1087.2 L567.3,1089.2 L567.7,1091.1 L567.7,1093.1 L567.4,1095.2 L568.5,1097.1 L568.5,1099.1 L568.7,1101.1 L568.4,1103.1 L568.4,1105.2 L569.8,1107.0 L569.9,1109.0 L569.2,1111.1 L569.5,1113.1 L570.3,1114.9" fill="none" stroke="#92d050" stroke-width="6.0" stroke-linejoin="round" stroke-linecap="round" />
<path d="M595.9,1067.4 L596.0,1065.4 L596.6,1063.5 L597.3,1061.6 L597.5,1059.6 L598.0,1057.6 L598.5,1055.7 L598.7,1053.7 L598.9,1051.7 L599.4,1049.7 L600.1,1047.8 L600.6,1045.8 L601.9,1044.2 L602.7,1042.4 L603.0,1040.3 L604.5,1038.8 L605.3,1037.0 L606.0,1035.1 L607.8,1034.2 L609.4,1035.6 L609.3,1037.8 L610.2,1039.6 L611.3,1041.4 L611.5,1043.4 L611.3,1045.5 L612.0,1047.4 L611.9,1049.4 L612.8,1051.3 L612.5,1053.4 L612.8,1055.3 L614.0,1057.2 L613.7,1059.2 L614.5,1061.1 L614.3,1063.2 L614.5,1065.2 L615.0,1067.2 L616.0,1069.0 L616.6,1070.9 L616.3,1073.0 L616.8,1074.9 L617.6,1076.8 L617.9,1078.8 L617.8,1080.9 L618.7,1082.7 L618.5,1084.8 L619.3,1086.7 L619.7,1088.6 L619.8,1090.6 L620.1,1092.6 L620.3,1094.6 L621.6,1096.4 L621.2,1098.5 L622.3,1100.3 L622.7,1102.3 L622.8,1104.3 L623.2,1106.3 L623.8,1108.2 L623.9,1110.2 L625.2,1112.0 L625.6,1113.9 L625.8,1116.0 L626.9,1117.7 L627.7,1119.5 L628.4,1121.2 L630.1,1121.6 L631.1,1119.8 L631.6,1117.8 L632.4,1115.9 L632.7,1113.9 L632.5,1111.8 L632.9,1109.9 L633.8,1108.0 L633.4,1105.9 L634.4,1104.0 L634.1,1102.0 L634.4,1100.0 L635.3,1098.1 L635.3,1096.1 L636.6,1094.3 L636.9,1092.3 L636.7,1090.2 L636.8,1088.2 L637.0,1086.2 L637.8,1084.3 L638.1,1082.4 L638.2,1080.4 L638.9,1078.4 L639.0,1076.4 L639.5,1074.5 L639.0,1072.4 L639.2,1070.4 L639.9,1068.5 L640.3,1066.5 L640.3,1064.5 L641.0,1062.6 L640.8,1060.5 L641.2,1058.6 L641.6,1056.6 L642.2,1054.7 L642.6,1052.7 L642.4,1050.6 L642.9,1048.7 L643.8,1046.8 L644.2,1044.9 L644.1,1042.8 L643.9,1040.7 L644.6,1038.9 L645.2,1036.9 L645.1,1034.9 L645.2,1032.9 L646.6,1031.1 L646.9,1029.1 L646.4,1027.0 L647.1,1025.1 L647.7,1023.2 L647.8,1021.1 L648.0,1019.1 L649.4,1017.4 L650.3,1015.8 L651.4,1016.3 L652.4,1018.1 L652.5,1020.1 L653.3,1022.0 L652.6,1024.2 L654.0,1026.0 L654.0,1028.0 L653.7,1030.1 L654.8,1031.9 L655.1,1033.9 L655.4,1035.9 L655.6,1037.9 L655.4,1039.9 L655.3,1042.0 L656.4,1043.8 L656.7,1045.8 L656.3,1047.9 L657.1,1049.8 L657.5,1051.7 L658.2,1053.6 L658.5,1055.6 L658.1,1057.8 L659.5,1059.5 L659.8,1061.5 L659.7,1063.5 L660.1,1065.5 L660.5,1067.5 L661.5,1069.3 L661.5,1071.4 L662.4,1073.2 L663.3,1075.0 L663.6,1077.0 L663.8,1079.0 L664.2,1081.0 L665.4,1082.8 L665.7,1084.7 L665.3,1086.9 L666.7,1088.6 L666.2,1090.8 L667.1,1092.6 L667.6,1094.6 L668.0,1096.5 L668.1,1098.5 L667.8,1100.6 L669.2,1102.4 L668.7,1104.5 L669.8,1106.4 L670.3,1108.3 L670.1,1110.4 L671.0,1112.2 L671.7,1114.1 L672.1,1116.1 L672.4,1118.1 L673.7,1119.7 L675.6,1118.6 L675.9,1116.6 L677.5,1115.0 L678.0,1113.1 L678.9,1111.3 L679.6,1109.3 L679.4,1107.2 L680.6,1105.5 L681.1,1103.5 L681.0,1101.4 L681.6,1099.5 L682.2,1097.6 L682.8,1095.7 L683.4,1093.8 L683.4,1091.8 L683.7,1089.9 L684.7,1087.9 L684.3,1085.9 L684.8,1083.9 L685.2,1082.0 L685.3,1080.0 L684.8,1077.9 L685.8,1076.0 L685.9,1074.0 L686.3,1072.0 L686.2,1070.0 L686.4,1068.0 L686.6,1066.0 L686.2,1064.0 L686.8,1062.0 L686.7,1060.0 L687.4,1058.1 L686.8,1056.0 L687.4,1054.0 L687.4,1052.0 L688.1,1050.1 L687.8,1048.0 L688.5,1046.1 L688.7,1044.1 L689.0,1042.1 L688.3,1040.1 L689.4,1038.2 L689.3,1036.1 L689.5,1034.1 L689.6,1032.2 L689.1,1030.1 L690.2,1028.2 L690.0,1026.2 L691.0,1024.5 L692.0,1022.7 L693.6,1021.4 L694.7,1019.7 L695.9,1018.1 L696.4,1016.0 L697.7,1014.5 L698.9,1012.9 L700.3,1011.4 L702.3,1010.6 L704.2,1009.7 L705.9,1009.9 L706.9,1011.8 L707.4,1013.7 L707.7,1015.7 L707.2,1017.8 L708.2,1019.7 L708.2,1021.7 L708.6,1023.6 L708.4,1025.7 L708.6,1027.7 L709.7,1029.5 L709.6,1031.6 L709.6,1033.6 L710.4,1035.5 L710.3,1037.6 L710.8,1039.5 L711.6,1041.4 L711.3,1043.5 L712.0,1045.4 L712.9,1047.3 L712.6,1049.3 L712.7,1051.3 L713.4,1053.3 L713.8,1055.2 L714.2,1057.2 L714.0,1059.2 L714.6,1061.2 L715.5,1063.0 L715.7,1065.0 L716.0,1067.0 L715.6,1069.1 L716.3,1071.0 L717.3,1072.9 L716.8,1075.0 L718.2,1076.8 L717.9,1078.9 L718.4,1080.8 L718.5,1082.8 L719.3,1084.7 L720.1,1086.6 L720.0,1088.6 L720.2,1090.7 L720.7,1092.6 L721.7,1094.4 L722.3,1096.3 L722.2,1098.4 L722.6,1100.4 L723.8,1102.1 L723.7,1104.3 L724.4,1106.2 L726.3,1106.7 L727.3,1105.0 L728.3,1103.3 L729.2,1101.5 L728.8,1099.3 L729.4,1097.4 L729.9,1095.4 L730.7,1093.6 L730.5,1091.5 L731.3,1089.6 L731.7,1087.6 L732.2,1085.7 L732.0,1083.6 L733.4,1081.9 L733.8,1079.9 L733.7,1077.8 L734.4,1075.9 L734.0,1073.8 L735.2,1072.0 L735.1,1070.0 L735.7,1068.0 L736.1,1066.1 L735.8,1064.0 L736.8,1062.1 L736.2,1060.0 L736.3,1058.0 L737.1,1056.1 L737.9,1054.2 L738.2,1052.2 L738.5,1050.3 L738.3,1048.2 L739.1,1046.3 L739.0,1044.3 L738.8,1042.2 L739.7,1040.3 L740.2,1038.4 L740.1,1036.3 L740.6,1034.4 L740.6,1032.4 L740.9,1030.4 L741.5,1028.5 L741.9,1026.5 L742.2,1024.5 L742.1,1022.5 L742.4,1020.5 L743.1,1018.6 L744.0,1016.7 L744.4,1014.8 L744.1,1012.7 L744.6,1010.7 L745.3,1008.8 L745.3,1006.8 L746.2,1004.9 L747.0,1003.1 L746.7,1000.9 L747.7,999.1 L748.4,997.3 L749.2,995.4 L749.9,993.6 L750.7,991.8 L751.5,990.2 L751.1,992.2 L751.3,994.2 L752.7,996.1 L751.9,998.2 L752.8,1000.1 L753.5,1002.0 L753.8,1004.0 L753.3,1006.1 L753.7,1008.0 L754.6,1009.9 L754.6,1012.0 L754.6,1014.0 L754.5,1016.0 L755.6,1017.9 L755.4,1019.9 L756.3,1021.8 L756.6,1023.8 L757.0,1025.7 L757.0,1027.8 L757.0,1029.8 L757.7,1031.7 L758.1,1033.7 L758.3,1035.7 L758.8,1037.6 L758.9,1039.6 L759.0,1041.6 L759.1,1043.6 L759.7,1045.6 L759.7,1047.6 L760.0,1049.6 L759.6,1051.6 L760.5,1053.5 L760.2,1055.6 L761.0,1057.5 L761.6,1059.4 L761.5,1061.5 L762.3,1063.4 L762.5,1065.4 L762.9,1067.3 L762.5,1069.4 L762.5,1071.4 L763.4,1073.3 L763.8,1075.3 L764.0,1077.3 L764.4,1079.2 L764.4,1081.3 L765.1,1083.2 L765.7,1085.1 L765.2,1087.2 L765.9,1089.1 L766.9,1091.0 L766.3,1093.1 L766.8,1095.1 L767.6,1097.0 L767.6,1099.0 L767.6,1101.0 L768.6,1102.9 L768.9,1104.8 L769.4,1106.8 L769.9,1108.7 L770.5,1110.6 L771.1,1112.5 L771.6,1114.5 L773.3,1115.9 L774.2,1117.5 L776.0,1116.9 L776.7,1115.0 L777.0,1113.0 L777.7,1111.0 L777.7,1109.0 L778.8,1107.2 L778.7,1105.1 L778.9,1103.1 L779.0,1101.1 L779.3,1099.1 L780.6,1097.3 L780.8,1095.4 L780.3,1093.2 L781.1,1091.3 L781.7,1089.4 L782.1,1087.5 L782.4,1085.5 L783.5,1083.7 L783.3,1081.6 L783.9,1079.7 L784.8,1077.8 L784.9,1075.8 L785.1,1073.8 L785.3,1071.8 L785.8,1069.9 L786.5,1068.0 L787.2,1066.1 L787.1,1064.0 L787.7,1062.1 L788.3,1060.2 L788.9,1058.2 L790.1,1056.5 L790.3,1054.5 L790.5,1052.5 L791.2,1050.6 L792.3,1048.8 L792.2,1046.7 L793.4,1045.0 L793.4,1042.8 L794.3,1041.0 L795.0,1039.2 L796.9,1037.9 L798.4,1036.4 L800.3,1037.6 L801.7,1039.0 L802.7,1040.8 L803.2,1042.8 L804.2,1044.6 L805.0,1046.4 L805.8,1048.2 L807.0,1049.8 L807.3,1051.9 L808.9,1053.4 L808.6,1055.6 L809.8,1057.4 L810.7,1059.2 L810.6,1061.3 L811.1,1063.2 L812.3,1064.9 L813.1,1066.8 L812.6,1069.0 L813.1,1070.9 L813.7,1072.8 L813.6,1074.9 L815.1,1076.6 L815.4,1078.6 L815.7,1080.6 L816.2,1082.5 L815.8,1084.7 L816.3,1086.6 L817.3,1088.4 L817.7,1090.4 L818.1,1092.3 L818.1,1094.4 L818.4,1096.4 L818.5,1098.4 L819.7,1100.2 L819.4,1102.3 L820.5,1104.1 L821.0,1106.0 L821.8,1107.9 L822.6,1109.6 L824.1,1110.7 L825.4,1108.8 L825.9,1106.8 L826.0,1104.7 L826.6,1102.8 L827.1,1100.8 L827.8,1099.0 L828.8,1097.2 L828.5,1095.0 L829.5,1093.2 L830.1,1091.3 L829.8,1089.2 L830.6,1087.3 L831.4,1085.4 L831.5,1083.4 L831.7,1081.4 L832.5,1079.5 L832.4,1077.5 L832.3,1075.5 L832.6,1073.5 L833.5,1071.6 L833.6,1069.6 L833.8,1067.6 L833.6,1065.5 L833.3,1063.5 L833.5,1061.5 L833.9,1059.5 L834.5,1057.6 L833.9,1055.5 L835.0,1053.6 L835.2,1051.6 L835.1,1049.6 L834.7,1047.6 L835.9,1045.7 L835.7,1043.6 L836.3,1041.7 L836.5,1039.7 L837.0,1037.8 L836.9,1035.7 L837.9,1033.9 L838.2,1031.9 L838.5,1029.9 L838.5,1027.9 L838.5,1025.8 L838.9,1023.9 L839.1,1021.9 L840.2,1020.1 L840.4,1018.1 L840.7,1016.1 L841.1,1014.1 L841.6,1012.2 L841.6,1010.2 L841.5,1008.1 L842.4,1006.2 L842.1,1004.2 L842.9,1002.3 L842.9,1000.1 L844.5,998.7 L845.0,996.7 L845.7,994.8 L846.2,994.2 L847.5,996.0 L846.9,998.1 L847.4,1000.1 L848.5,1001.9 L848.1,1004.0 L848.7,1005.9 L848.6,1008.0 L849.4,1009.9 L849.9,1011.8 L849.6,1013.9 L851.0,1015.7 L850.5,1017.8 L851.6,1019.6 L851.7,1021.7 L852.1,1023.6 L851.5,1025.7 L852.3,1027.6 L852.2,1029.7 L853.0,1031.6 L852.7,1033.6 L853.0,1035.6 L853.8,1037.5 L853.6,1039.6 L853.5,1041.6 L854.3,1043.5 L854.0,1045.5 L854.6,1047.5 L854.7,1049.5 L854.2,1051.5 L854.4,1053.5 L854.5,1055.5 L855.4,1057.5 L855.4,1059.5 L855.3,1061.5 L855.5,1063.5 L856.1,1065.4 L855.8,1067.5 L856.5,1069.4 L856.0,1071.5 L856.8,1073.4 L857.4,1075.4 L856.8,1077.4 L857.8,1079.3 L857.4,1080.0" fill="none" stroke="#92d050" stroke-width="6.0" stroke-linejoin="round" stroke-linecap="round" />
<line x1="148.40" y1="1071.90" x2="148.40" y2="1102.00" stroke="#ff0000" stroke-width="1.3" />
<line x1="143.60" y1="1071.90" x2="153.20" y2="1071.90" stroke="#ff0000" stroke-width="1.5" />
<line x1="143.60" y1="1102.00" x2="153.20" y2="1102.00" stroke="#ff0000" stroke-width="1.5" />
<line x1="157.80" y1="1066.70" x2="157.80" y2="1123.10" stroke="#ff0000" stroke-width="1.3" />
<line x1="153.00" y1="1066.70" x2="162.60" y2="1066.70" stroke="#ff0000" stroke-width="1.5" />
<line x1="153.00" y1="1123.10" x2="162.60" y2="1123.10" stroke="#ff0000" stroke-width="1.5" />
<line x1="167.90" y1="1019.00" x2="167.90" y2="1044.50" stroke="#ff0000" stroke-width="1.3" />
<line x1="163.10" y1="1019.00" x2="172.70" y2="1019.00" stroke="#ff0000" stroke-width="1.5" />
<line x1="163.10" y1="1044.50" x2="172.70" y2="1044.50" stroke="#ff0000" stroke-width="1.5" />
<line x1="175.60" y1="980.10" x2="175.60" y2="1003.20" stroke="#ff0000" stroke-width="1.3" />
<line x1="170.80" y1="980.10" x2="180.40" y2="980.10" stroke="#ff0000" stroke-width="1.5" />
<line x1="170.80" y1="1003.20" x2="180.40" y2="1003.20" stroke="#ff0000" stroke-width="1.5" />
<line x1="183.20" y1="969.10" x2="183.20" y2="1028.60" stroke="#ff0000" stroke-width="1.3" />
<line x1="178.40" y1="969.10" x2="188.00" y2="969.10" stroke="#ff0000" stroke-width="1.5" />
<line x1="178.40" y1="1028.60" x2="188.00" y2="1028.60" stroke="#ff0000" stroke-width="1.5" />
<line x1="190.50" y1="1011.20" x2="190.50" y2="1058.10" stroke="#ff0000" stroke-width="1.3" />
<line x1="185.70" y1="1011.20" x2="195.30" y2="1011.20" stroke="#ff0000" stroke-width="1.5" />
<line x1="185.70" y1="1058.10" x2="195.30" y2="1058.10" stroke="#ff0000" stroke-width="1.5" />
<line x1="198.10" y1="1046.30" x2="198.10" y2="1078.60" stroke="#ff0000" stroke-width="1.3" />
<line x1="193.30" y1="1046.30" x2="202.90" y2="1046.30" stroke="#ff0000" stroke-width="1.5" />
<line x1="193.30" y1="1078.60" x2="202.90" y2="1078.60" stroke="#ff0000" stroke-width="1.5" />
<line x1="206.60" y1="1027.10" x2="206.60" y2="1093.10" stroke="#ff0000" stroke-width="1.3" />
<line x1="201.80" y1="1027.10" x2="211.40" y2="1027.10" stroke="#ff0000" stroke-width="1.5" />
<line x1="201.80" y1="1093.10" x2="211.40" y2="1093.10" stroke="#ff0000" stroke-width="1.5" />
<line x1="215.70" y1="1006.70" x2="215.70" y2="1021.60" stroke="#ff0000" stroke-width="1.3" />
<line x1="210.90" y1="1006.70" x2="220.50" y2="1006.70" stroke="#ff0000" stroke-width="1.5" />
<line x1="210.90" y1="1021.60" x2="220.50" y2="1021.60" stroke="#ff0000" stroke-width="1.5" />
<line x1="223.60" y1="966.00" x2="223.60" y2="989.10" stroke="#ff0000" stroke-width="1.3" />
<line x1="218.80" y1="966.00" x2="228.40" y2="966.00" stroke="#ff0000" stroke-width="1.5" />
<line x1="218.80" y1="989.10" x2="228.40" y2="989.10" stroke="#ff0000" stroke-width="1.5" />
<line x1="233.70" y1="961.30" x2="233.70" y2="1025.50" stroke="#ff0000" stroke-width="1.3" />
<line x1="228.90" y1="961.30" x2="238.50" y2="961.30" stroke="#ff0000" stroke-width="1.5" />
<line x1="228.90" y1="1025.50" x2="238.50" y2="1025.50" stroke="#ff0000" stroke-width="1.5" />
<line x1="243.60" y1="1020.60" x2="243.60" y2="1085.80" stroke="#ff0000" stroke-width="1.3" />
<line x1="238.80" y1="1020.60" x2="248.40" y2="1020.60" stroke="#ff0000" stroke-width="1.5" />
<line x1="238.80" y1="1085.80" x2="248.40" y2="1085.80" stroke="#ff0000" stroke-width="1.5" />
<line x1="253.20" y1="1044.60" x2="253.20" y2="1117.50" stroke="#ff0000" stroke-width="1.3" />
<line x1="248.40" y1="1044.60" x2="258.00" y2="1044.60" stroke="#ff0000" stroke-width="1.5" />
<line x1="248.40" y1="1117.50" x2="258.00" y2="1117.50" stroke="#ff0000" stroke-width="1.5" />
<line x1="263.10" y1="1019.40" x2="263.10" y2="1049.30" stroke="#ff0000" stroke-width="1.3" />
<line x1="258.30" y1="1019.40" x2="267.90" y2="1019.40" stroke="#ff0000" stroke-width="1.5" />
<line x1="258.30" y1="1049.30" x2="267.90" y2="1049.30" stroke="#ff0000" stroke-width="1.5" />
<line x1="273.10" y1="977.40" x2="273.10" y2="1021.50" stroke="#ff0000" stroke-width="1.3" />
<line x1="268.30" y1="977.40" x2="277.90" y2="977.40" stroke="#ff0000" stroke-width="1.5" />
<line x1="268.30" y1="1021.50" x2="277.90" y2="1021.50" stroke="#ff0000" stroke-width="1.5" />
<line x1="282.80" y1="1019.50" x2="282.80" y2="1068.40" stroke="#ff0000" stroke-width="1.3" />
<line x1="278.00" y1="1019.50" x2="287.60" y2="1019.50" stroke="#ff0000" stroke-width="1.5" />
<line x1="278.00" y1="1068.40" x2="287.60" y2="1068.40" stroke="#ff0000" stroke-width="1.5" />
<line x1="291.20" y1="1066.00" x2="291.20" y2="1102.60" stroke="#ff0000" stroke-width="1.3" />
<line x1="286.40" y1="1066.00" x2="296.00" y2="1066.00" stroke="#ff0000" stroke-width="1.5" />
<line x1="286.40" y1="1102.60" x2="296.00" y2="1102.60" stroke="#ff0000" stroke-width="1.5" />
<line x1="299.70" y1="1072.40" x2="299.70" y2="1105.80" stroke="#ff0000" stroke-width="1.3" />
<line x1="294.90" y1="1072.40" x2="304.50" y2="1072.40" stroke="#ff0000" stroke-width="1.5" />
<line x1="294.90" y1="1105.80" x2="304.50" y2="1105.80" stroke="#ff0000" stroke-width="1.5" />
<line x1="306.90" y1="1022.30" x2="306.90" y2="1087.10" stroke="#ff0000" stroke-width="1.3" />
<line x1="302.10" y1="1022.30" x2="311.70" y2="1022.30" stroke="#ff0000" stroke-width="1.5" />
<line x1="302.10" y1="1087.10" x2="311.70" y2="1087.10" stroke="#ff0000" stroke-width="1.5" />
<line x1="316.80" y1="951.40" x2="316.80" y2="1026.50" stroke="#ff0000" stroke-width="1.3" />
<line x1="312.00" y1="951.40" x2="321.60" y2="951.40" stroke="#ff0000" stroke-width="1.5" />
<line x1="312.00" y1="1026.50" x2="321.60" y2="1026.50" stroke="#ff0000" stroke-width="1.5" />
<line x1="326.20" y1="966.20" x2="326.20" y2="1014.50" stroke="#ff0000" stroke-width="1.3" />
<line x1="321.40" y1="966.20" x2="331.00" y2="966.20" stroke="#ff0000" stroke-width="1.5" />
<line x1="321.40" y1="1014.50" x2="331.00" y2="1014.50" stroke="#ff0000" stroke-width="1.5" />
<line x1="335.90" y1="1058.90" x2="335.90" y2="1081.30" stroke="#ff0000" stroke-width="1.3" />
<line x1="331.10" y1="1058.90" x2="340.70" y2="1058.90" stroke="#ff0000" stroke-width="1.5" />
<line x1="331.10" y1="1081.30" x2="340.70" y2="1081.30" stroke="#ff0000" stroke-width="1.5" />
<line x1="345.30" y1="1101.90" x2="345.30" y2="1143.40" stroke="#ff0000" stroke-width="1.3" />
<line x1="340.50" y1="1101.90" x2="350.10" y2="1101.90" stroke="#ff0000" stroke-width="1.5" />
<line x1="340.50" y1="1143.40" x2="350.10" y2="1143.40" stroke="#ff0000" stroke-width="1.5" />
<line x1="352.80" y1="1074.00" x2="352.80" y2="1100.50" stroke="#ff0000" stroke-width="1.3" />
<line x1="348.00" y1="1074.00" x2="357.60" y2="1074.00" stroke="#ff0000" stroke-width="1.5" />
<line x1="348.00" y1="1100.50" x2="357.60" y2="1100.50" stroke="#ff0000" stroke-width="1.5" />
<line x1="361.60" y1="1033.10" x2="361.60" y2="1062.80" stroke="#ff0000" stroke-width="1.3" />
<line x1="356.80" y1="1033.10" x2="366.40" y2="1033.10" stroke="#ff0000" stroke-width="1.5" />
<line x1="356.80" y1="1062.80" x2="366.40" y2="1062.80" stroke="#ff0000" stroke-width="1.5" />
<line x1="370.10" y1="1034.00" x2="370.10" y2="1085.60" stroke="#ff0000" stroke-width="1.3" />
<line x1="365.30" y1="1034.00" x2="374.90" y2="1034.00" stroke="#ff0000" stroke-width="1.5" />
<line x1="365.30" y1="1085.60" x2="374.90" y2="1085.60" stroke="#ff0000" stroke-width="1.5" />
<line x1="378.40" y1="1087.80" x2="378.40" y2="1110.00" stroke="#ff0000" stroke-width="1.3" />
<line x1="373.60" y1="1087.80" x2="383.20" y2="1087.80" stroke="#ff0000" stroke-width="1.5" />
<line x1="373.60" y1="1110.00" x2="383.20" y2="1110.00" stroke="#ff0000" stroke-width="1.5" />
<line x1="387.10" y1="1109.40" x2="387.10" y2="1138.00" stroke="#ff0000" stroke-width="1.3" />
<line x1="382.30" y1="1109.40" x2="391.90" y2="1109.40" stroke="#ff0000" stroke-width="1.5" />
<line x1="382.30" y1="1138.00" x2="391.90" y2="1138.00" stroke="#ff0000" stroke-width="1.5" />
<line x1="394.80" y1="1101.70" x2="394.80" y2="1127.70" stroke="#ff0000" stroke-width="1.3" />
<line x1="390.00" y1="1101.70" x2="399.60" y2="1101.70" stroke="#ff0000" stroke-width="1.5" />
<line x1="390.00" y1="1127.70" x2="399.60" y2="1127.70" stroke="#ff0000" stroke-width="1.5" />
<line x1="403.00" y1="1058.90" x2="403.00" y2="1077.40" stroke="#ff0000" stroke-width="1.3" />
<line x1="398.20" y1="1058.90" x2="407.80" y2="1058.90" stroke="#ff0000" stroke-width="1.5" />
<line x1="398.20" y1="1077.40" x2="407.80" y2="1077.40" stroke="#ff0000" stroke-width="1.5" />
<line x1="412.30" y1="1000.70" x2="412.30" y2="1073.80" stroke="#ff0000" stroke-width="1.3" />
<line x1="407.50" y1="1000.70" x2="417.10" y2="1000.70" stroke="#ff0000" stroke-width="1.5" />
<line x1="407.50" y1="1073.80" x2="417.10" y2="1073.80" stroke="#ff0000" stroke-width="1.5" />
<line x1="420.60" y1="1037.30" x2="420.60" y2="1095.90" stroke="#ff0000" stroke-width="1.3" />
<line x1="415.80" y1="1037.30" x2="425.40" y2="1037.30" stroke="#ff0000" stroke-width="1.5" />
<line x1="415.80" y1="1095.90" x2="425.40" y2="1095.90" stroke="#ff0000" stroke-width="1.5" />
<line x1="431.00" y1="1096.10" x2="431.00" y2="1112.80" stroke="#ff0000" stroke-width="1.3" />
<line x1="426.20" y1="1096.10" x2="435.80" y2="1096.10" stroke="#ff0000" stroke-width="1.5" />
<line x1="426.20" y1="1112.80" x2="435.80" y2="1112.80" stroke="#ff0000" stroke-width="1.5" />
<line x1="438.30" y1="1093.40" x2="438.30" y2="1157.40" stroke="#ff0000" stroke-width="1.3" />
<line x1="433.50" y1="1093.40" x2="443.10" y2="1093.40" stroke="#ff0000" stroke-width="1.5" />
<line x1="433.50" y1="1157.40" x2="443.10" y2="1157.40" stroke="#ff0000" stroke-width="1.5" />
<line x1="448.30" y1="1056.40" x2="448.30" y2="1110.00" stroke="#ff0000" stroke-width="1.3" />
<line x1="443.50" y1="1056.40" x2="453.10" y2="1056.40" stroke="#ff0000" stroke-width="1.5" />
<line x1="443.50" y1="1110.00" x2="453.10" y2="1110.00" stroke="#ff0000" stroke-width="1.5" />
<line x1="455.70" y1="1017.40" x2="455.70" y2="1057.00" stroke="#ff0000" stroke-width="1.3" />
<line x1="450.90" y1="1017.40" x2="460.50" y2="1017.40" stroke="#ff0000" stroke-width="1.5" />
<line x1="450.90" y1="1057.00" x2="460.50" y2="1057.00" stroke="#ff0000" stroke-width="1.5" />
<line x1="465.80" y1="982.10" x2="465.80" y2="1051.00" stroke="#ff0000" stroke-width="1.3" />
<line x1="461.00" y1="982.10" x2="470.60" y2="982.10" stroke="#ff0000" stroke-width="1.5" />
<line x1="461.00" y1="1051.00" x2="470.60" y2="1051.00" stroke="#ff0000" stroke-width="1.5" />
<line x1="475.70" y1="1050.40" x2="475.70" y2="1077.00" stroke="#ff0000" stroke-width="1.3" />
<line x1="470.90" y1="1050.40" x2="480.50" y2="1050.40" stroke="#ff0000" stroke-width="1.5" />
<line x1="470.90" y1="1077.00" x2="480.50" y2="1077.00" stroke="#ff0000" stroke-width="1.5" />
<line x1="485.80" y1="1076.30" x2="485.80" y2="1113.50" stroke="#ff0000" stroke-width="1.3" />
<line x1="481.00" y1="1076.30" x2="490.60" y2="1076.30" stroke="#ff0000" stroke-width="1.5" />
<line x1="481.00" y1="1113.50" x2="490.60" y2="1113.50" stroke="#ff0000" stroke-width="1.5" />
<line x1="495.30" y1="1049.80" x2="495.30" y2="1072.30" stroke="#ff0000" stroke-width="1.3" />
<line x1="490.50" y1="1049.80" x2="500.10" y2="1049.80" stroke="#ff0000" stroke-width="1.5" />
<line x1="490.50" y1="1072.30" x2="500.10" y2="1072.30" stroke="#ff0000" stroke-width="1.5" />
<line x1="505.80" y1="959.10" x2="505.80" y2="1010.50" stroke="#ff0000" stroke-width="1.3" />
<line x1="501.00" y1="959.10" x2="510.60" y2="959.10" stroke="#ff0000" stroke-width="1.5" />
<line x1="501.00" y1="1010.50" x2="510.60" y2="1010.50" stroke="#ff0000" stroke-width="1.5" />
<line x1="515.40" y1="932.80" x2="515.40" y2="959.90" stroke="#ff0000" stroke-width="1.3" />
<line x1="510.60" y1="932.80" x2="520.20" y2="932.80" stroke="#ff0000" stroke-width="1.5" />
<line x1="510.60" y1="959.90" x2="520.20" y2="959.90" stroke="#ff0000" stroke-width="1.5" />
<line x1="524.60" y1="974.40" x2="524.60" y2="1024.50" stroke="#ff0000" stroke-width="1.3" />
<line x1="519.80" y1="974.40" x2="529.40" y2="974.40" stroke="#ff0000" stroke-width="1.5" />
<line x1="519.80" y1="1024.50" x2="529.40" y2="1024.50" stroke="#ff0000" stroke-width="1.5" />
<line x1="533.60" y1="1038.70" x2="533.60" y2="1075.00" stroke="#ff0000" stroke-width="1.3" />
<line x1="528.80" y1="1038.70" x2="538.40" y2="1038.70" stroke="#ff0000" stroke-width="1.5" />
<line x1="528.80" y1="1075.00" x2="538.40" y2="1075.00" stroke="#ff0000" stroke-width="1.5" />
<line x1="543.20" y1="1025.50" x2="543.20" y2="1060.70" stroke="#ff0000" stroke-width="1.3" />
<line x1="538.40" y1="1025.50" x2="548.00" y2="1025.50" stroke="#ff0000" stroke-width="1.5" />
<line x1="538.40" y1="1060.70" x2="548.00" y2="1060.70" stroke="#ff0000" stroke-width="1.5" />
<line x1="551.10" y1="1000.90" x2="551.10" y2="1025.10" stroke="#ff0000" stroke-width="1.3" />
<line x1="546.30" y1="1000.90" x2="555.90" y2="1000.90" stroke="#ff0000" stroke-width="1.5" />
<line x1="546.30" y1="1025.10" x2="555.90" y2="1025.10" stroke="#ff0000" stroke-width="1.5" />
<line x1="560.60" y1="920.80" x2="560.60" y2="941.80" stroke="#ff0000" stroke-width="1.3" />
<line x1="555.80" y1="920.80" x2="565.40" y2="920.80" stroke="#ff0000" stroke-width="1.5" />
<line x1="555.80" y1="941.80" x2="565.40" y2="941.80" stroke="#ff0000" stroke-width="1.5" />
<line x1="568.20" y1="976.20" x2="568.20" y2="994.50" stroke="#ff0000" stroke-width="1.3" />
<line x1="563.40" y1="976.20" x2="573.00" y2="976.20" stroke="#ff0000" stroke-width="1.5" />
<line x1="563.40" y1="994.50" x2="573.00" y2="994.50" stroke="#ff0000" stroke-width="1.5" />
<line x1="601.90" y1="943.60" x2="601.90" y2="992.00" stroke="#ff0000" stroke-width="1.3" />
<line x1="597.10" y1="943.60" x2="606.70" y2="943.60" stroke="#ff0000" stroke-width="1.5" />
<line x1="597.10" y1="992.00" x2="606.70" y2="992.00" stroke="#ff0000" stroke-width="1.5" />
<line x1="610.80" y1="961.00" x2="610.80" y2="977.40" stroke="#ff0000" stroke-width="1.3" />
<line x1="606.00" y1="961.00" x2="615.60" y2="961.00" stroke="#ff0000" stroke-width="1.5" />
<line x1="606.00" y1="977.40" x2="615.60" y2="977.40" stroke="#ff0000" stroke-width="1.5" />
<line x1="619.30" y1="1007.10" x2="619.30" y2="1042.40" stroke="#ff0000" stroke-width="1.3" />
<line x1="614.50" y1="1007.10" x2="624.10" y2="1007.10" stroke="#ff0000" stroke-width="1.5" />
<line x1="614.50" y1="1042.40" x2="624.10" y2="1042.40" stroke="#ff0000" stroke-width="1.5" />
<line x1="626.40" y1="1056.00" x2="626.40" y2="1070.20" stroke="#ff0000" stroke-width="1.3" />
<line x1="621.60" y1="1056.00" x2="631.20" y2="1056.00" stroke="#ff0000" stroke-width="1.5" />
<line x1="621.60" y1="1070.20" x2="631.20" y2="1070.20" stroke="#ff0000" stroke-width="1.5" />
<line x1="637.00" y1="1043.50" x2="637.00" y2="1065.10" stroke="#ff0000" stroke-width="1.3" />
<line x1="632.20" y1="1043.50" x2="641.80" y2="1043.50" stroke="#ff0000" stroke-width="1.5" />
<line x1="632.20" y1="1065.10" x2="641.80" y2="1065.10" stroke="#ff0000" stroke-width="1.5" />
<line x1="645.00" y1="992.50" x2="645.00" y2="1023.10" stroke="#ff0000" stroke-width="1.3" />
<line x1="640.20" y1="992.50" x2="649.80" y2="992.50" stroke="#ff0000" stroke-width="1.5" />
<line x1="640.20" y1="1023.10" x2="649.80" y2="1023.10" stroke="#ff0000" stroke-width="1.5" />
<line x1="654.10" y1="975.80" x2="654.10" y2="994.60" stroke="#ff0000" stroke-width="1.3" />
<line x1="649.30" y1="975.80" x2="658.90" y2="975.80" stroke="#ff0000" stroke-width="1.5" />
<line x1="649.30" y1="994.60" x2="658.90" y2="994.60" stroke="#ff0000" stroke-width="1.5" />
<line x1="662.70" y1="1005.00" x2="662.70" y2="1041.70" stroke="#ff0000" stroke-width="1.3" />
<line x1="657.90" y1="1005.00" x2="667.50" y2="1005.00" stroke="#ff0000" stroke-width="1.5" />
<line x1="657.90" y1="1041.70" x2="667.50" y2="1041.70" stroke="#ff0000" stroke-width="1.5" />
<line x1="672.70" y1="1065.30" x2="672.70" y2="1079.70" stroke="#ff0000" stroke-width="1.3" />
<line x1="667.90" y1="1065.30" x2="677.50" y2="1065.30" stroke="#ff0000" stroke-width="1.5" />
<line x1="667.90" y1="1079.70" x2="677.50" y2="1079.70" stroke="#ff0000" stroke-width="1.5" />
<line x1="680.70" y1="1069.70" x2="680.70" y2="1114.50" stroke="#ff0000" stroke-width="1.3" />
<line x1="675.90" y1="1069.70" x2="685.50" y2="1069.70" stroke="#ff0000" stroke-width="1.5" />
<line x1="675.90" y1="1114.50" x2="685.50" y2="1114.50" stroke="#ff0000" stroke-width="1.5" />
<line x1="691.20" y1="1007.10" x2="691.20" y2="1053.10" stroke="#ff0000" stroke-width="1.3" />
<line x1="686.40" y1="1007.10" x2="696.00" y2="1007.10" stroke="#ff0000" stroke-width="1.5" />
<line x1="686.40" y1="1053.10" x2="696.00" y2="1053.10" stroke="#ff0000" stroke-width="1.5" />
<line x1="699.90" y1="969.40" x2="699.90" y2="1024.90" stroke="#ff0000" stroke-width="1.3" />
<line x1="695.10" y1="969.40" x2="704.70" y2="969.40" stroke="#ff0000" stroke-width="1.5" />
<line x1="695.10" y1="1024.90" x2="704.70" y2="1024.90" stroke="#ff0000" stroke-width="1.5" />
<line x1="707.80" y1="986.40" x2="707.80" y2="1002.40" stroke="#ff0000" stroke-width="1.3" />
<line x1="703.00" y1="986.40" x2="712.60" y2="986.40" stroke="#ff0000" stroke-width="1.5" />
<line x1="703.00" y1="1002.40" x2="712.60" y2="1002.40" stroke="#ff0000" stroke-width="1.5" />
<line x1="716.50" y1="998.50" x2="716.50" y2="1069.00" stroke="#ff0000" stroke-width="1.3" />
<line x1="711.70" y1="998.50" x2="721.30" y2="998.50" stroke="#ff0000" stroke-width="1.5" />
<line x1="711.70" y1="1069.00" x2="721.30" y2="1069.00" stroke="#ff0000" stroke-width="1.5" />
<line x1="726.10" y1="1061.90" x2="726.10" y2="1091.90" stroke="#ff0000" stroke-width="1.3" />
<line x1="721.30" y1="1061.90" x2="730.90" y2="1061.90" stroke="#ff0000" stroke-width="1.5" />
<line x1="721.30" y1="1091.90" x2="730.90" y2="1091.90" stroke="#ff0000" stroke-width="1.5" />
<line x1="735.60" y1="1006.90" x2="735.60" y2="1073.60" stroke="#ff0000" stroke-width="1.3" />
<line x1="730.80" y1="1006.90" x2="740.40" y2="1006.90" stroke="#ff0000" stroke-width="1.5" />
<line x1="730.80" y1="1073.60" x2="740.40" y2="1073.60" stroke="#ff0000" stroke-width="1.5" />
<line x1="743.30" y1="965.50" x2="743.30" y2="1015.90" stroke="#ff0000" stroke-width="1.3" />
<line x1="738.50" y1="965.50" x2="748.10" y2="965.50" stroke="#ff0000" stroke-width="1.5" />
<line x1="738.50" y1="1015.90" x2="748.10" y2="1015.90" stroke="#ff0000" stroke-width="1.5" />
<line x1="751.50" y1="947.90" x2="751.50" y2="977.00" stroke="#ff0000" stroke-width="1.3" />
<line x1="746.70" y1="947.90" x2="756.30" y2="947.90" stroke="#ff0000" stroke-width="1.5" />
<line x1="746.70" y1="977.00" x2="756.30" y2="977.00" stroke="#ff0000" stroke-width="1.5" />
<line x1="759.40" y1="978.90" x2="759.40" y2="1005.50" stroke="#ff0000" stroke-width="1.3" />
<line x1="754.60" y1="978.90" x2="764.20" y2="978.90" stroke="#ff0000" stroke-width="1.5" />
<line x1="754.60" y1="1005.50" x2="764.20" y2="1005.50" stroke="#ff0000" stroke-width="1.5" />
<line x1="767.50" y1="1018.60" x2="767.50" y2="1035.00" stroke="#ff0000" stroke-width="1.3" />
<line x1="762.70" y1="1018.60" x2="772.30" y2="1018.60" stroke="#ff0000" stroke-width="1.5" />
<line x1="762.70" y1="1035.00" x2="772.30" y2="1035.00" stroke="#ff0000" stroke-width="1.5" />
<line x1="775.90" y1="1047.90" x2="775.90" y2="1067.30" stroke="#ff0000" stroke-width="1.3" />
<line x1="771.10" y1="1047.90" x2="780.70" y2="1047.90" stroke="#ff0000" stroke-width="1.5" />
<line x1="771.10" y1="1067.30" x2="780.70" y2="1067.30" stroke="#ff0000" stroke-width="1.5" />
<line x1="785.60" y1="987.70" x2="785.60" y2="1038.90" stroke="#ff0000" stroke-width="1.3" />
<line x1="780.80" y1="987.70" x2="790.40" y2="987.70" stroke="#ff0000" stroke-width="1.5" />
<line x1="780.80" y1="1038.90" x2="790.40" y2="1038.90" stroke="#ff0000" stroke-width="1.5" />
<line x1="792.40" y1="956.30" x2="792.40" y2="1018.30" stroke="#ff0000" stroke-width="1.3" />
<line x1="787.60" y1="956.30" x2="797.20" y2="956.30" stroke="#ff0000" stroke-width="1.5" />
<line x1="787.60" y1="1018.30" x2="797.20" y2="1018.30" stroke="#ff0000" stroke-width="1.5" />
<line x1="799.90" y1="938.60" x2="799.90" y2="982.40" stroke="#ff0000" stroke-width="1.3" />
<line x1="795.10" y1="938.60" x2="804.70" y2="938.60" stroke="#ff0000" stroke-width="1.5" />
<line x1="795.10" y1="982.40" x2="804.70" y2="982.40" stroke="#ff0000" stroke-width="1.5" />
<line x1="808.80" y1="951.30" x2="808.80" y2="985.90" stroke="#ff0000" stroke-width="1.3" />
<line x1="804.00" y1="951.30" x2="813.60" y2="951.30" stroke="#ff0000" stroke-width="1.5" />
<line x1="804.00" y1="985.90" x2="813.60" y2="985.90" stroke="#ff0000" stroke-width="1.5" />
<line x1="816.70" y1="996.50" x2="816.70" y2="1037.50" stroke="#ff0000" stroke-width="1.3" />
<line x1="811.90" y1="996.50" x2="821.50" y2="996.50" stroke="#ff0000" stroke-width="1.5" />
<line x1="811.90" y1="1037.50" x2="821.50" y2="1037.50" stroke="#ff0000" stroke-width="1.5" />
<line x1="824.10" y1="1014.70" x2="824.10" y2="1082.20" stroke="#ff0000" stroke-width="1.3" />
<line x1="819.30" y1="1014.70" x2="828.90" y2="1014.70" stroke="#ff0000" stroke-width="1.5" />
<line x1="819.30" y1="1082.20" x2="828.90" y2="1082.20" stroke="#ff0000" stroke-width="1.5" />
<line x1="831.30" y1="998.00" x2="831.30" y2="1063.00" stroke="#ff0000" stroke-width="1.3" />
<line x1="826.50" y1="998.00" x2="836.10" y2="998.00" stroke="#ff0000" stroke-width="1.5" />
<line x1="826.50" y1="1063.00" x2="836.10" y2="1063.00" stroke="#ff0000" stroke-width="1.5" />
<line x1="838.90" y1="970.40" x2="838.90" y2="1003.20" stroke="#ff0000" stroke-width="1.3" />
<line x1="834.10" y1="970.40" x2="843.70" y2="970.40" stroke="#ff0000" stroke-width="1.5" />
<line x1="834.10" y1="1003.20" x2="843.70" y2="1003.20" stroke="#ff0000" stroke-width="1.5" />
<line x1="847.20" y1="957.50" x2="847.20" y2="973.60" stroke="#ff0000" stroke-width="1.3" />
<line x1="842.40" y1="957.50" x2="852.00" y2="957.50" stroke="#ff0000" stroke-width="1.5" />
<line x1="842.40" y1="973.60" x2="852.00" y2="973.60" stroke="#ff0000" stroke-width="1.5" />
<line x1="854.50" y1="987.70" x2="854.50" y2="1024.00" stroke="#ff0000" stroke-width="1.3" />
<line x1="849.70" y1="987.70" x2="859.30" y2="987.70" stroke="#ff0000" stroke-width="1.5" />
<line x1="849.70" y1="1024.00" x2="859.30" y2="1024.00" stroke="#ff0000" stroke-width="1.5" />
<path d="M142.4,1076.9 L143.3,1078.7 L145.0,1080.0 L145.1,1082.3 L146.6,1083.7 L147.4,1085.5 L149.1,1086.9 L149.4,1089.0 L150.4,1090.7 L151.2,1092.6 L151.1,1094.7 L152.5,1096.4 L152.5,1098.5 L153.5,1100.3 L153.2,1102.4 L153.9,1104.4 L155.3,1104.8 L156.6,1103.5 L157.3,1101.6 L158.1,1099.7 L158.5,1097.8 L158.4,1095.7 L159.5,1093.9 L158.9,1091.8 L159.2,1089.8 L160.3,1088.0 L159.8,1085.8 L160.2,1083.9 L160.9,1082.0 L161.1,1080.0 L161.2,1078.0 L162.5,1076.1 L162.2,1074.1 L162.9,1072.2 L162.6,1070.1 L163.6,1068.2 L163.1,1066.1 L164.2,1064.2 L164.1,1062.2 L164.8,1060.3 L164.8,1058.3 L164.9,1056.3 L165.0,1054.3 L165.6,1052.3 L165.4,1050.3 L165.2,1048.3 L166.4,1046.4 L166.5,1044.4 L166.6,1042.4 L167.0,1040.4 L166.6,1038.3 L167.1,1036.4 L167.8,1034.5 L168.3,1032.5 L168.5,1030.5 L167.9,1028.4 L168.8,1026.5 L169.0,1024.5 L169.1,1022.5 L169.2,1020.5 L169.5,1018.5 L170.2,1016.6 L170.6,1014.7 L170.7,1012.7 L171.2,1010.7 L171.7,1008.8 L172.3,1006.9 L172.5,1004.9 L172.4,1002.8 L173.6,1001.0 L173.3,998.9 L174.4,997.1 L174.8,995.1 L174.4,992.9 L175.6,991.3 L176.7,989.6 L177.0,987.5 L178.6,987.2 L180.0,988.7 L181.2,990.4 L181.7,992.4 L182.5,994.2 L182.9,996.2 L183.1,998.2 L183.7,1000.1 L183.7,1002.2 L184.5,1004.0 L185.2,1005.9 L184.9,1008.0 L185.6,1009.9 L186.1,1011.9 L186.1,1013.9 L186.6,1015.8 L187.3,1017.7 L187.4,1019.8 L188.1,1021.7 L187.6,1023.8 L188.9,1025.6 L188.4,1027.7 L189.8,1029.5 L190.3,1031.4 L190.1,1033.5 L190.9,1035.4 L191.0,1037.4 L191.9,1039.3 L191.4,1041.4 L192.1,1043.3 L192.5,1045.3 L192.6,1047.3 L193.0,1049.3 L193.9,1051.1 L194.3,1053.1 L195.7,1054.7 L196.2,1056.7 L196.4,1058.7 L196.5,1060.8 L198.0,1062.4 L198.4,1064.3 L199.8,1065.9 L200.2,1067.9 L200.6,1070.0 L202.1,1071.4 L204.1,1072.3 L204.5,1070.2 L205.5,1068.5 L206.0,1066.6 L207.2,1064.8 L206.8,1062.7 L208.2,1060.9 L207.8,1058.8 L208.9,1057.0 L208.8,1054.9 L208.9,1052.9 L210.0,1051.1 L209.7,1049.0 L210.4,1047.1 L210.0,1045.0 L211.2,1043.2 L211.8,1041.2 L211.1,1039.1 L212.3,1037.3 L212.1,1035.2 L212.3,1033.2 L212.8,1031.3 L213.5,1029.4 L214.2,1027.4 L214.5,1025.5 L214.8,1023.5 L214.7,1021.4 L215.0,1019.5 L214.7,1017.4 L215.7,1015.5 L215.8,1013.5 L215.9,1011.5 L216.8,1009.6 L216.4,1007.5 L216.6,1005.5 L216.9,1003.6 L217.3,1001.6 L218.2,999.7 L218.8,997.8 L218.5,995.7 L219.3,993.8 L219.8,991.9 L220.2,989.9 L220.4,987.9 L221.0,986.0 L220.8,983.9 L221.3,982.0 L222.1,980.1 L222.4,978.1 L223.5,976.3 L223.5,974.3 L224.8,972.6 L224.9,970.5 L225.8,968.6 L227.8,967.8 L229.0,969.4 L229.8,971.2 L229.8,973.3 L230.9,975.1 L230.8,977.2 L231.0,979.2 L231.8,981.0 L232.2,983.0 L232.0,985.1 L232.7,987.0 L233.6,988.9 L234.0,990.8 L234.4,992.8 L234.4,994.8 L235.1,996.7 L234.8,998.8 L235.4,1000.7 L235.8,1002.7 L235.9,1004.7 L235.7,1006.7 L236.9,1008.6 L237.3,1010.6 L237.4,1012.6 L237.6,1014.5 L237.2,1016.6 L237.7,1018.6 L238.3,1020.5 L238.9,1022.5 L239.3,1024.4 L239.4,1026.4 L238.8,1028.5 L239.4,1030.5 L240.2,1032.4 L239.9,1034.4 L240.9,1036.3 L240.7,1038.4 L241.2,1040.3 L241.8,1042.2 L241.4,1044.3 L241.8,1046.3 L242.4,1048.2 L243.1,1050.1 L242.9,1052.2 L243.5,1054.1 L243.5,1056.1 L244.5,1058.0 L243.9,1060.1 L245.3,1061.9 L245.4,1063.9 L245.5,1065.9 L246.1,1067.9 L246.5,1069.8 L246.2,1071.9 L246.2,1074.0 L247.3,1075.8 L247.8,1077.7 L247.8,1079.8 L248.8,1081.6 L249.0,1083.6 L249.3,1085.6 L250.3,1087.3 L251.3,1088.5 L252.3,1087.1 L253.5,1085.4 L254.7,1083.6 L255.0,1081.6 L254.6,1079.4 L255.4,1077.6 L255.8,1075.6 L255.8,1073.6 L256.8,1071.7 L256.9,1069.7 L257.6,1067.8 L257.4,1065.8 L258.4,1063.9 L258.6,1061.9 L258.6,1059.9 L258.5,1057.8 L259.2,1055.9 L259.1,1053.9 L260.1,1052.0 L260.5,1050.1 L260.7,1048.1 L261.6,1046.2 L260.8,1044.0 L262.0,1042.2 L262.5,1040.3 L262.0,1038.1 L262.7,1036.2 L262.7,1034.2 L263.7,1032.3 L264.2,1030.4 L264.1,1028.3 L264.8,1026.4 L264.8,1024.4 L265.5,1022.5 L265.3,1020.4 L266.5,1018.6 L266.2,1016.5 L266.0,1014.5 L266.4,1012.5 L267.5,1010.7 L268.0,1008.7 L268.1,1006.7 L268.2,1004.6 L269.9,1003.3 L270.7,1001.4 L271.2,999.3 L273.2,998.6 L274.1,1000.4 L275.5,1002.0 L276.0,1004.0 L276.2,1006.0 L276.0,1008.1 L276.2,1010.1 L277.4,1011.9 L277.1,1014.0 L277.6,1015.9 L277.8,1017.9 L278.5,1019.8 L278.4,1021.9 L279.2,1023.8 L279.2,1025.8 L280.0,1027.7 L280.8,1029.6 L280.8,1031.6 L281.2,1033.6 L281.7,1035.5 L282.0,1037.5 L282.1,1039.5 L282.3,1041.5 L283.1,1043.4 L283.3,1045.4 L283.3,1047.4 L283.6,1049.4 L284.0,1051.3 L284.0,1053.4 L284.8,1055.3 L284.7,1057.3 L285.4,1059.2 L285.1,1061.3 L285.5,1063.2 L285.8,1065.2 L286.5,1067.1 L287.2,1069.0 L286.9,1071.1 L287.8,1073.0 L288.4,1074.9 L288.9,1076.9 L289.2,1078.8 L289.2,1080.9 L289.5,1082.9 L290.3,1084.7 L290.5,1086.7 L291.5,1088.5 L291.7,1090.6 L292.3,1092.5 L292.9,1094.4 L293.4,1096.3 L293.5,1098.4 L294.3,1100.3 L295.7,1101.8 L296.6,1102.5 L298.4,1101.3 L298.9,1099.4 L299.6,1097.5 L300.0,1095.5 L300.5,1093.6 L300.4,1091.5 L300.6,1089.5 L301.3,1087.6 L301.3,1085.6 L302.7,1083.8 L302.6,1081.7 L303.1,1079.8 L303.7,1077.9 L303.9,1075.9 L303.5,1073.8 L304.0,1071.8 L304.0,1069.8 L305.1,1068.0 L305.4,1066.0 L305.4,1064.0 L305.6,1062.0 L305.9,1060.0 L306.5,1058.1 L307.1,1056.1 L307.7,1054.2 L307.9,1052.2 L308.3,1050.2 L308.1,1048.2 L308.4,1046.2 L308.5,1044.2 L309.6,1042.3 L309.0,1040.2 L309.2,1038.2 L309.6,1036.3 L310.7,1034.4 L310.9,1032.4 L310.5,1030.4 L311.4,1028.5 L311.7,1026.5 L311.5,1024.4 L311.5,1022.4 L312.4,1020.5 L312.2,1018.5 L312.2,1016.5 L313.4,1014.6 L313.2,1012.6 L313.4,1010.6 L313.9,1008.6 L313.7,1006.6 L313.7,1004.6 L314.3,1002.6 L314.5,1000.6 L314.3,998.6 L314.9,996.6 L315.6,994.7 L315.3,992.7 L315.9,990.7 L316.0,988.7 L315.7,986.7 L315.7,984.7 L316.8,982.8 L316.9,980.8 L316.8,978.7 L317.0,976.7 L318.1,974.9 L318.7,973.0 L318.7,970.9 L320.3,970.8 L321.3,972.4 L322.3,974.2 L323.3,976.0 L323.6,978.0 L323.8,980.0 L324.4,981.9 L325.0,983.8 L325.9,985.7 L326.3,987.6 L326.7,989.6 L327.0,991.6 L327.5,993.5 L327.2,995.6 L328.5,997.4 L327.9,999.6 L329.1,1001.4 L328.6,1003.5 L329.6,1005.3 L329.5,1007.4 L330.0,1009.3 L330.6,1011.3 L329.9,1013.4 L330.1,1015.4 L331.0,1017.3 L330.6,1019.3 L331.1,1021.3 L330.7,1023.3 L332.0,1025.2 L331.8,1027.2 L332.1,1029.2 L331.8,1031.3 L331.8,1033.3 L331.9,1035.3 L332.5,1037.2 L332.8,1039.2 L332.5,1041.2 L333.6,1043.1 L333.6,1045.2 L333.2,1047.2 L333.8,1049.2 L333.3,1051.2 L334.6,1053.1 L334.3,1055.1 L334.8,1057.1 L335.2,1059.1 L335.3,1061.1 L335.5,1063.1 L335.3,1065.1 L335.4,1067.1 L335.5,1069.1 L336.0,1071.0 L335.7,1073.1 L336.2,1075.0 L335.9,1077.1 L337.1,1078.9 L337.0,1081.0 L337.3,1083.0 L337.7,1084.9 L337.4,1087.0 L338.5,1088.8 L338.0,1090.9 L338.9,1092.8 L339.2,1094.8 L339.2,1096.8 L339.6,1098.8 L340.2,1100.7 L340.7,1102.7 L340.0,1104.8 L341.1,1106.7 L341.7,1108.6 L341.4,1110.7 L341.9,1112.6 L342.5,1114.5 L342.9,1116.5 L342.7,1118.6 L343.7,1120.4 L344.1,1122.3 L344.1,1124.4 L345.7,1125.9 L346.7,1125.7 L347.1,1123.8 L348.2,1122.1 L348.6,1120.1 L348.6,1118.1 L348.9,1116.1 L349.0,1114.1 L350.0,1112.2 L349.8,1110.2 L350.5,1108.2 L350.2,1106.2 L350.9,1104.3 L350.3,1102.2 L350.8,1100.2 L351.9,1098.3 L351.9,1096.3 L352.1,1094.3 L352.1,1092.3 L352.4,1090.3 L352.3,1088.3 L352.6,1086.3 L353.4,1084.4 L353.8,1082.5 L353.6,1080.4 L354.5,1078.5 L354.2,1076.4 L355.2,1074.6 L355.0,1072.5 L355.8,1070.6 L356.0,1068.6 L356.6,1066.7 L356.5,1064.7 L357.3,1062.8 L357.9,1060.8 L357.7,1058.8 L358.3,1056.8 L359.1,1055.0 L359.3,1053.0 L359.8,1051.0 L360.9,1049.4 L361.6,1047.5 L362.1,1045.5 L363.5,1044.0 L364.9,1044.6 L366.1,1046.1 L366.6,1048.1 L367.7,1049.8 L368.1,1051.8 L368.0,1053.9 L368.7,1055.8 L369.4,1057.7 L370.6,1059.4 L370.5,1061.5 L371.6,1063.3 L371.0,1065.5 L371.4,1067.4 L372.1,1069.3 L373.0,1071.2 L372.7,1073.3 L373.9,1075.1 L373.5,1077.2 L374.2,1079.1 L375.1,1081.0 L374.5,1083.1 L375.3,1085.0 L375.2,1087.0 L375.8,1089.0 L376.4,1090.9 L376.4,1092.9 L377.5,1094.7 L377.2,1096.9 L378.2,1098.7 L379.1,1100.5 L379.2,1102.6 L380.1,1104.4 L380.6,1106.3 L380.6,1108.4 L381.8,1110.1 L382.5,1112.0 L383.0,1113.9 L383.8,1115.8 L383.8,1117.9 L384.6,1119.7 L385.4,1121.6 L386.1,1123.5 L387.5,1125.0 L387.9,1127.0 L389.3,1128.6 L389.4,1130.8 L390.2,1132.6 L391.5,1133.6 L391.3,1131.5 L391.5,1129.5 L392.9,1127.7 L392.8,1125.7 L393.3,1123.7 L393.9,1121.8 L393.5,1119.7 L394.5,1117.8 L394.6,1115.8 L395.4,1113.9 L395.3,1111.9 L395.4,1109.9 L396.7,1108.1 L396.3,1106.0 L397.2,1104.1 L397.6,1102.2 L397.3,1100.1 L398.2,1098.2 L398.2,1096.2 L398.3,1094.2 L398.7,1092.2 L399.9,1090.4 L399.6,1088.3 L400.1,1086.3 L400.4,1084.4 L400.2,1082.3 L401.3,1080.5 L401.7,1078.5 L402.1,1076.5 L401.9,1074.5 L402.0,1072.5 L402.5,1070.5 L403.3,1068.6 L403.5,1066.6 L403.5,1064.6 L404.0,1062.7 L403.9,1060.6 L405.1,1058.8 L404.9,1056.7 L405.3,1054.8 L405.9,1052.8 L405.5,1050.7 L406.9,1049.1 L407.2,1047.0 L408.4,1045.3 L408.3,1043.2 L409.2,1041.4 L410.4,1039.7 L411.1,1037.8 L412.7,1036.5 L413.8,1038.1 L415.0,1039.9 L415.3,1041.8 L416.3,1043.7 L415.8,1045.8 L416.9,1047.7 L416.6,1049.7 L417.3,1051.6 L417.6,1053.6 L418.0,1055.6 L418.9,1057.4 L418.6,1059.5 L419.6,1061.4 L419.4,1063.5 L419.9,1065.4 L420.6,1067.3 L420.9,1069.3 L421.8,1071.1 L422.1,1073.1 L422.2,1075.1 L423.6,1076.9 L424.2,1078.8 L424.3,1080.8 L424.7,1082.8 L425.6,1084.6 L426.0,1086.6 L425.8,1088.7 L426.9,1090.5 L427.7,1092.3 L428.2,1094.3 L428.2,1096.3 L429.2,1098.1 L429.5,1100.1 L430.0,1102.1 L430.7,1103.9 L431.3,1105.8 L431.5,1107.9 L433.1,1109.4 L432.8,1111.7 L434.3,1113.3 L435.1,1115.1 L435.0,1117.3 L435.9,1119.1 L436.6,1120.9 L437.7,1122.7 L437.7,1124.8 L438.9,1126.5 L439.1,1128.5 L439.5,1127.8 L440.3,1125.9 L440.8,1123.9 L440.8,1121.9 L441.3,1120.0 L441.2,1117.9 L442.3,1116.1 L442.7,1114.1 L442.5,1112.0 L443.3,1110.2 L443.9,1108.2 L443.6,1106.1 L444.8,1104.3 L445.2,1102.4 L444.6,1100.2 L445.2,1098.3 L445.4,1096.3 L446.0,1094.4 L446.2,1092.4 L447.0,1090.5 L447.1,1088.5 L447.5,1086.5 L448.0,1084.6 L448.3,1082.6 L449.1,1080.7 L449.4,1078.7 L449.0,1076.6 L449.5,1074.7 L449.5,1072.7 L450.2,1070.8 L450.3,1068.8 L451.3,1066.9 L451.7,1064.9 L452.3,1063.0 L451.7,1060.9 L451.8,1058.9 L453.0,1057.0 L452.9,1055.0 L453.8,1053.1 L453.5,1051.0 L453.7,1049.0 L453.7,1047.0 L455.1,1045.2 L454.8,1043.2 L455.1,1041.2 L455.4,1039.2 L456.1,1037.3 L456.5,1035.3 L456.3,1033.3 L456.3,1031.2 L456.9,1029.3 L457.8,1027.4 L457.5,1025.3 L458.1,1023.4 L458.5,1021.5 L459.0,1019.6 L459.8,1017.7 L460.0,1015.7 L461.0,1013.9 L462.0,1012.1 L461.9,1009.9 L463.3,1008.3 L464.5,1009.3 L465.1,1011.0 L466.8,1012.6 L466.6,1014.7 L467.0,1016.7 L467.2,1018.7 L468.0,1020.6 L468.7,1022.5 L468.9,1024.5 L468.7,1026.5 L469.0,1028.5 L470.0,1030.4 L469.8,1032.4 L470.1,1034.4 L470.4,1036.4 L471.5,1038.2 L471.3,1040.3 L471.8,1042.2 L471.8,1044.3 L472.5,1046.2 L473.2,1048.1 L472.9,1050.2 L473.8,1052.0 L473.6,1054.1 L474.5,1056.0 L474.6,1058.0 L474.7,1060.0 L475.9,1061.8 L475.5,1063.9 L476.7,1065.7 L476.1,1067.9 L477.5,1069.6 L477.1,1071.8 L477.9,1073.6 L478.5,1075.6 L478.6,1077.6 L478.8,1079.6 L479.3,1081.5 L480.0,1083.4 L479.9,1085.5 L480.6,1087.4 L480.5,1089.6 L482.2,1090.9 L483.2,1092.6 L484.5,1094.1 L485.3,1096.1 L487.2,1095.0 L488.6,1093.6 L489.6,1091.9 L489.7,1089.8 L490.7,1088.0 L490.6,1085.9 L490.8,1083.9 L491.2,1081.9 L492.0,1080.1 L492.9,1078.2 L492.5,1076.1 L493.1,1074.2 L493.9,1072.3 L493.6,1070.2 L493.8,1068.2 L494.6,1066.3 L494.8,1064.3 L495.8,1062.5 L496.1,1060.5 L495.7,1058.4 L496.4,1056.5 L496.6,1054.5 L496.5,1052.4 L497.3,1050.5 L498.2,1048.7 L497.8,1046.6 L498.4,1044.6 L498.9,1042.7 L498.4,1040.6 L499.7,1038.8 L499.0,1036.6 L499.5,1034.7 L500.3,1032.8 L499.7,1030.7 L500.4,1028.8 L500.3,1026.7 L501.0,1024.8 L500.7,1022.8 L501.1,1020.8 L501.4,1018.8 L501.5,1016.8 L501.8,1014.8 L502.1,1012.9 L502.7,1010.9 L502.5,1008.9 L503.6,1007.0 L503.3,1004.9 L503.4,1002.9 L503.6,1000.9 L504.5,999.0 L503.8,996.9 L504.9,995.1 L504.4,993.0 L505.6,991.1 L505.2,989.1 L505.7,987.1 L506.2,985.1 L505.6,983.1 L505.8,981.1 L506.8,979.2 L506.9,977.2 L507.3,975.2 L507.0,973.2 L507.5,971.2 L507.4,969.2 L507.9,967.2 L507.9,965.2 L508.5,963.3 L508.4,961.2 L508.6,959.2 L509.3,957.3 L508.9,955.2 L509.9,953.4 L509.8,951.3 L509.7,949.3 L509.8,947.3 L510.5,945.4 L510.7,943.4 L511.2,941.4 L511.1,939.4 L511.3,937.4 L511.6,938.4 L513.1,940.0 L513.1,942.2 L513.9,944.0 L514.6,945.9 L515.4,947.7 L516.9,949.2 L517.0,951.3 L517.6,953.2 L518.4,955.1 L517.8,957.2 L518.6,959.1 L518.8,961.1 L519.4,963.0 L520.4,964.9 L519.8,967.0 L520.9,968.9 L521.2,970.8 L521.1,972.9 L522.0,974.8 L522.0,976.8 L522.0,978.8 L523.0,980.7 L522.6,982.8 L523.6,984.7 L523.4,986.7 L523.4,988.7 L523.6,990.7 L524.6,992.6 L524.6,994.6 L523.9,996.7 L524.7,998.6 L524.8,1000.6 L525.0,1002.6 L524.8,1004.6 L524.9,1006.6 L525.1,1008.6 L525.6,1010.6 L525.5,1012.6 L525.8,1014.6 L526.3,1016.6 L525.6,1018.6 L525.8,1020.6 L526.2,1022.6 L526.2,1024.6 L527.1,1026.5 L526.9,1028.6 L527.9,1030.4 L527.7,1032.5 L528.1,1034.5 L528.2,1036.5 L528.7,1038.4 L529.0,1040.4 L530.2,1042.2 L530.0,1044.3 L530.8,1046.2 L531.5,1048.1 L531.9,1050.0 L531.8,1052.1 L532.2,1054.0 L532.6,1056.0 L533.2,1057.9 L534.2,1059.7 L534.7,1061.7 L534.7,1063.7 L535.7,1065.5 L536.5,1067.1 L537.2,1065.9 L538.0,1064.1 L539.2,1062.3 L539.1,1060.2 L540.3,1058.5 L540.1,1056.4 L541.1,1054.5 L540.9,1052.4 L541.3,1050.5 L541.8,1048.6 L541.8,1046.5 L542.8,1044.7 L543.2,1042.7 L543.3,1040.6 L544.8,1039.0 L544.9,1036.9 L545.1,1034.9 L546.9,1033.4 L546.7,1031.2 L547.4,1029.3 L547.8,1027.4 L548.4,1025.5 L549.7,1023.8 L550.0,1021.8 L550.3,1019.8 L550.5,1017.8 L550.8,1015.8 L551.9,1014.0 L551.5,1011.9 L552.4,1010.0 L552.5,1008.0 L551.8,1005.9 L552.8,1004.0 L552.0,1001.9 L553.0,1000.0 L553.2,998.0 L553.2,996.0 L553.1,994.0 L553.6,992.0 L552.9,990.0 L553.4,988.0 L553.2,986.0 L553.4,984.0 L553.3,982.0 L554.0,980.0 L553.9,978.0 L554.3,976.0 L554.2,974.0 L554.2,972.0 L554.7,970.0 L554.7,968.0 L554.5,966.0 L554.3,964.0 L555.2,962.0 L554.6,960.0 L554.5,958.0 L554.9,956.0 L555.6,954.1 L556.0,952.1 L555.9,950.1 L556.2,948.1 L556.8,946.2 L556.8,944.2 L556.7,942.1 L557.0,940.1 L557.6,938.2 L557.4,936.2 L557.4,934.1 L558.4,932.3 L559.0,930.4 L558.9,928.3 L560.2,928.2 L560.5,930.0 L561.9,931.8 L562.2,933.8 L562.1,935.8 L562.6,937.8 L562.2,939.8 L562.4,941.8 L563.3,943.7 L563.1,945.8 L563.6,947.7 L564.4,949.6 L563.7,951.7 L564.9,953.6 L565.2,955.6 L565.1,957.6 L565.8,959.5 L565.6,961.6 L565.9,963.6 L565.5,965.6 L566.4,967.5 L566.1,969.6 L566.4,971.5 L566.9,973.5 L567.5,975.4 L567.7,977.4 L567.7,979.5 L568.0,981.4 L567.9,983.5 L568.3,985.4 L568.8,987.4 L568.6,989.4 L568.4,991.5 L569.5,993.3 L569.6,995.3 L570.2,997.3 L570.3,999.3 L570.6,1001.3 L570.4,1003.3 L570.3,1003.4" fill="none" stroke="#ff0000" stroke-width="6.0" stroke-linejoin="round" stroke-linecap="round" />
<path d="M595.9,1008.1 L596.6,1006.2 L596.7,1004.2 L597.3,1002.2 L597.5,1000.2 L597.5,998.2 L597.8,996.2 L597.4,994.2 L598.1,992.3 L598.3,990.3 L599.0,988.3 L598.6,986.3 L599.5,984.4 L599.6,982.4 L600.0,980.4 L600.2,978.4 L600.1,976.4 L601.2,974.5 L601.6,972.5 L601.6,970.5 L601.3,968.5 L602.4,966.7 L603.4,964.9 L604.2,963.0 L604.6,961.1 L604.5,958.9 L606.1,957.3 L606.5,955.4 L606.8,953.3 L608.2,951.7 L607.7,952.9 L607.9,954.9 L609.0,956.7 L609.0,958.7 L609.5,960.7 L610.0,962.6 L609.8,964.7 L610.3,966.6 L610.9,968.6 L611.0,970.6 L610.9,972.6 L611.6,974.5 L611.6,976.6 L612.3,978.5 L612.1,980.5 L613.6,982.3 L613.4,984.4 L613.6,986.4 L613.7,988.4 L613.7,990.4 L614.4,992.3 L614.8,994.3 L614.9,996.3 L615.3,998.2 L615.4,1000.2 L615.4,1002.3 L616.8,1004.1 L616.7,1006.1 L616.3,1008.2 L617.6,1010.0 L617.0,1012.1 L618.2,1014.0 L617.7,1016.1 L617.8,1018.1 L618.8,1020.0 L618.9,1022.0 L619.4,1023.9 L619.2,1026.0 L619.7,1027.9 L620.0,1029.9 L620.6,1031.8 L620.7,1033.8 L620.6,1035.9 L621.2,1037.8 L621.3,1039.8 L622.5,1041.6 L622.6,1043.7 L623.1,1045.6 L623.6,1047.5 L623.4,1049.6 L624.5,1051.4 L624.5,1053.5 L624.6,1055.5 L624.8,1057.5 L626.3,1059.2 L626.3,1061.3 L626.5,1063.3 L626.4,1065.5 L628.1,1066.8 L628.3,1069.0 L629.7,1070.5 L630.4,1072.4 L630.9,1074.4 L632.7,1075.7 L632.7,1075.9 L632.9,1073.9 L633.2,1072.0 L633.8,1070.0 L634.6,1068.2 L634.9,1066.2 L634.7,1064.1 L635.9,1062.3 L635.9,1060.3 L635.9,1058.2 L637.1,1056.4 L637.4,1054.4 L637.1,1052.3 L638.3,1050.5 L638.5,1048.5 L638.2,1046.4 L638.3,1044.4 L639.7,1042.6 L640.0,1040.7 L639.5,1038.5 L640.6,1036.7 L640.9,1034.7 L641.1,1032.7 L641.7,1030.8 L642.2,1028.9 L641.8,1026.8 L642.7,1024.9 L643.1,1022.9 L642.7,1020.8 L643.5,1018.9 L643.8,1017.0 L644.3,1015.0 L644.3,1013.0 L644.3,1011.0 L644.5,1009.0 L645.1,1007.0 L644.9,1005.0 L645.9,1003.1 L646.2,1001.1 L645.6,999.1 L646.3,997.1 L646.5,995.1 L646.0,993.1 L647.0,991.2 L647.2,989.2 L646.8,987.1 L646.8,985.1 L647.2,983.1 L648.0,981.2 L648.0,979.2 L648.7,977.3 L648.3,975.2 L649.0,973.1 L650.8,972.9 L651.3,975.0 L652.7,976.5 L653.5,978.4 L653.3,980.5 L654.6,982.3 L654.4,984.4 L655.6,986.1 L655.9,988.1 L655.9,990.2 L656.1,992.2 L657.1,994.0 L657.6,995.9 L658.5,997.8 L658.6,999.8 L659.2,1001.7 L658.9,1003.8 L659.4,1005.8 L659.7,1007.8 L660.4,1009.7 L660.5,1011.7 L661.5,1013.5 L661.6,1015.5 L662.0,1017.5 L662.4,1019.5 L662.2,1021.5 L663.1,1023.4 L663.3,1025.4 L663.7,1027.4 L663.4,1029.4 L664.0,1031.4 L664.6,1033.3 L665.0,1035.2 L664.8,1037.3 L665.1,1039.3 L666.1,1041.2 L666.3,1043.1 L666.3,1045.2 L667.4,1047.0 L667.7,1049.0 L668.3,1050.9 L668.2,1053.0 L668.2,1055.0 L669.3,1056.8 L669.4,1058.8 L669.2,1060.9 L670.2,1062.8 L670.7,1064.7 L670.6,1066.8 L671.1,1068.7 L672.1,1070.5 L672.9,1072.4 L672.8,1074.5 L673.1,1076.4 L673.4,1078.4 L674.2,1080.3 L675.1,1082.2 L675.3,1084.2 L676.1,1086.0 L676.5,1088.0 L677.0,1089.9 L677.1,1092.0 L677.9,1093.9 L679.1,1095.8 L680.7,1095.0 L682.1,1093.4 L681.7,1091.2 L683.1,1089.5 L683.1,1087.4 L683.7,1085.5 L683.5,1083.5 L684.4,1081.6 L683.6,1079.4 L684.8,1077.6 L685.0,1075.6 L684.7,1073.5 L685.5,1071.6 L685.0,1069.5 L685.9,1067.6 L685.8,1065.6 L686.0,1063.6 L685.9,1061.6 L686.9,1059.7 L687.1,1057.7 L686.5,1055.6 L687.8,1053.8 L687.2,1051.7 L687.7,1049.7 L688.0,1047.8 L688.5,1045.8 L689.3,1043.9 L689.7,1041.9 L689.6,1039.9 L689.7,1037.9 L689.7,1035.9 L690.0,1033.9 L690.9,1032.0 L691.3,1030.1 L691.5,1028.1 L692.5,1026.2 L692.2,1024.1 L692.5,1022.1 L692.9,1020.2 L693.0,1018.2 L694.2,1016.4 L694.2,1014.3 L694.5,1012.3 L694.7,1010.3 L694.8,1008.3 L695.3,1006.4 L696.2,1004.6 L697.0,1002.7 L698.4,1001.2 L698.9,999.2 L699.4,997.2 L700.2,995.4 L701.1,993.6 L702.2,991.9 L703.5,990.3 L704.6,988.7 L705.4,986.7 L706.6,988.2 L707.8,989.9 L708.2,991.8 L708.7,993.8 L709.6,995.6 L710.0,997.6 L709.6,999.7 L710.0,1001.7 L710.7,1003.6 L710.4,1005.7 L710.9,1007.6 L711.9,1009.4 L712.6,1011.3 L712.4,1013.4 L712.7,1015.4 L713.6,1017.3 L714.3,1019.2 L714.1,1021.2 L715.0,1023.1 L714.6,1025.2 L715.1,1027.2 L715.9,1029.1 L716.0,1031.1 L716.7,1033.0 L717.1,1034.9 L717.5,1036.9 L717.1,1039.0 L718.0,1040.9 L718.0,1042.9 L718.9,1044.8 L718.8,1046.8 L719.4,1048.7 L719.7,1050.7 L720.4,1052.6 L720.5,1054.6 L721.3,1056.5 L720.8,1058.7 L721.5,1060.6 L722.0,1062.5 L722.2,1064.5 L723.2,1066.3 L723.3,1068.4 L723.8,1070.3 L723.5,1072.4 L724.9,1074.1 L724.9,1076.2 L724.9,1078.3 L725.7,1080.1 L726.9,1081.8 L728.1,1080.6 L728.8,1078.7 L729.9,1076.9 L729.8,1074.9 L730.7,1073.0 L730.7,1071.0 L731.5,1069.1 L731.7,1067.1 L732.3,1065.2 L732.9,1063.2 L732.5,1061.1 L733.6,1059.3 L732.8,1057.1 L734.1,1055.3 L733.4,1053.2 L734.4,1051.3 L734.4,1049.3 L735.2,1047.4 L734.9,1045.3 L735.0,1043.3 L735.9,1041.4 L735.9,1039.4 L736.4,1037.4 L736.3,1035.4 L736.0,1033.4 L737.1,1031.5 L736.6,1029.4 L737.2,1027.5 L736.8,1025.4 L737.4,1023.5 L738.1,1021.5 L738.4,1019.6 L738.5,1017.6 L738.5,1015.6 L739.2,1013.6 L739.3,1011.6 L739.1,1009.6 L739.8,1007.6 L740.2,1005.7 L740.6,1003.7 L740.4,1001.7 L740.9,999.7 L741.3,997.8 L741.4,995.7 L742.1,993.8 L742.9,992.0 L743.2,990.0 L743.1,987.9 L744.2,986.1 L744.0,984.0 L745.2,982.2 L745.0,980.1 L745.4,978.2 L746.1,976.3 L747.0,974.4 L747.3,972.4 L748.5,970.7 L749.2,968.8 L749.0,966.7 L750.1,965.0 L750.7,963.1 L751.5,961.3 L753.2,961.3 L753.1,963.5 L753.6,965.4 L755.2,967.1 L755.2,969.1 L755.6,971.1 L756.1,973.0 L756.1,975.1 L755.9,977.1 L757.3,978.9 L756.7,981.1 L757.6,982.9 L758.4,984.8 L757.7,987.0 L758.9,988.8 L759.4,990.7 L760.0,992.6 L760.1,994.7 L760.8,996.5 L761.2,998.5 L761.5,1000.5 L761.6,1002.5 L762.2,1004.4 L762.8,1006.3 L763.0,1008.4 L763.1,1010.4 L763.7,1012.3 L764.6,1014.1 L764.4,1016.2 L765.0,1018.2 L765.7,1020.0 L766.3,1022.0 L766.9,1023.9 L767.6,1025.7 L767.2,1027.9 L768.0,1029.8 L769.1,1031.6 L768.6,1033.7 L769.2,1035.7 L770.7,1037.3 L770.4,1039.5 L771.5,1041.3 L771.6,1043.3 L771.7,1045.3 L772.7,1047.2 L772.9,1049.2 L773.2,1051.1 L774.2,1053.0 L774.2,1055.0 L775.1,1056.8 L776.7,1058.2 L776.9,1056.0 L778.1,1054.3 L777.8,1052.2 L778.6,1050.3 L778.8,1048.3 L779.2,1046.4 L780.0,1044.5 L780.0,1042.4 L781.0,1040.6 L780.6,1038.5 L781.5,1036.6 L782.2,1034.7 L781.6,1032.6 L782.1,1030.6 L783.1,1028.8 L783.2,1026.8 L784.1,1024.9 L783.8,1022.8 L784.2,1020.9 L785.2,1019.0 L784.9,1016.9 L785.9,1015.1 L786.2,1013.1 L785.7,1011.0 L786.5,1009.1 L787.3,1007.2 L786.6,1005.0 L787.8,1003.2 L788.1,1001.2 L788.4,999.3 L788.6,997.3 L788.3,995.2 L789.8,993.6 L789.9,991.4 L791.6,990.0 L792.5,988.2 L793.0,986.2 L794.2,984.6 L794.7,982.6 L795.7,980.9 L795.3,978.7 L796.8,977.0 L796.4,974.9 L797.2,973.0 L797.1,970.9 L797.8,969.0 L797.5,966.9 L798.2,965.0 L798.1,962.9 L799.4,961.3 L800.1,959.3 L802.1,958.3 L803.4,956.9 L805.1,955.9 L806.4,957.4 L807.1,959.0 L807.6,960.8 L809.1,962.5 L808.8,964.6 L809.1,966.6 L809.6,968.5 L810.6,970.4 L809.9,972.5 L810.8,974.4 L810.9,976.4 L811.0,978.4 L812.0,980.3 L812.6,982.2 L811.9,984.4 L812.9,986.2 L813.5,988.2 L813.6,990.2 L812.9,992.3 L813.4,994.2 L814.3,996.1 L814.6,998.1 L813.9,1000.2 L814.4,1002.2 L814.8,1004.1 L815.5,1006.1 L815.4,1008.1 L815.1,1010.1 L816.4,1012.0 L816.2,1014.0 L816.9,1015.9 L816.1,1018.1 L817.5,1019.9 L816.9,1022.0 L817.4,1024.0 L817.9,1025.9 L819.1,1027.7 L818.6,1029.8 L819.3,1031.8 L819.6,1033.7 L820.4,1035.6 L820.4,1037.7 L820.4,1039.7 L821.6,1041.5 L821.1,1043.6 L822.1,1045.5 L822.8,1047.4 L823.3,1049.3 L823.6,1051.3 L824.1,1053.2 L825.0,1055.0 L826.9,1055.4 L827.4,1053.3 L828.0,1051.4 L829.0,1049.6 L828.5,1047.4 L828.6,1045.4 L829.4,1043.5 L829.7,1041.5 L829.8,1039.5 L830.4,1037.6 L830.3,1035.6 L831.6,1033.8 L831.4,1031.7 L832.2,1029.8 L832.3,1027.8 L832.7,1025.8 L833.1,1023.9 L832.9,1021.8 L833.8,1019.9 L833.5,1017.8 L834.3,1015.9 L834.6,1014.0 L835.2,1012.1 L834.8,1010.0 L835.4,1008.0 L836.2,1006.1 L836.5,1004.2 L837.1,1002.2 L836.4,1000.1 L836.8,998.1 L837.0,996.1 L838.0,994.3 L838.4,992.3 L838.6,990.3 L839.0,988.4 L839.0,986.3 L839.4,984.4 L840.2,982.5 L840.2,980.4 L840.8,978.6 L841.5,976.7 L842.2,974.8 L843.2,973.1 L843.7,971.2 L844.0,969.1 L845.3,967.5 L846.4,965.8 L848.1,966.3 L848.7,968.2 L849.4,970.0 L849.8,972.0 L850.1,974.0 L850.5,976.0 L850.1,978.1 L851.4,979.9 L851.8,981.8 L851.2,984.0 L852.0,985.9 L852.2,987.8 L852.4,989.8 L853.0,991.8 L853.4,993.7 L853.9,995.7 L853.2,997.8 L853.4,999.8 L854.4,1001.7 L854.4,1003.7 L854.8,1005.7 L855.4,1007.6 L854.6,1009.7 L855.0,1011.7 L855.9,1013.6 L856.1,1015.6 L855.8,1017.6 L856.0,1019.6 L856.6,1021.6 L856.7,1022.5" fill="none" stroke="#ff0000" stroke-width="6.0" stroke-linejoin="round" stroke-linecap="round" />
<line x1="141.30" y1="1177.30" x2="880.50" y2="1177.30" stroke="#000" stroke-width="2.6" />
<line x1="141.30" y1="1177.30" x2="141.30" y2="1183.80" stroke="#000" stroke-width="2.4" />
<line x1="188.97" y1="1177.30" x2="188.97" y2="1183.80" stroke="#000" stroke-width="2.4" />
<line x1="236.64" y1="1177.30" x2="236.64" y2="1183.80" stroke="#000" stroke-width="2.4" />
<line x1="284.31" y1="1177.30" x2="284.31" y2="1183.80" stroke="#000" stroke-width="2.4" />
<line x1="331.98" y1="1177.30" x2="331.98" y2="1183.80" stroke="#000" stroke-width="2.4" />
<line x1="379.65" y1="1177.30" x2="379.65" y2="1183.80" stroke="#000" stroke-width="2.4" />
<line x1="427.32" y1="1177.30" x2="427.32" y2="1183.80" stroke="#000" stroke-width="2.4" />
<line x1="474.99" y1="1177.30" x2="474.99" y2="1183.80" stroke="#000" stroke-width="2.4" />
<line x1="522.66" y1="1177.30" x2="522.66" y2="1183.80" stroke="#000" stroke-width="2.4" />
<line x1="570.33" y1="1177.30" x2="570.33" y2="1183.80" stroke="#000" stroke-width="2.4" />
<line x1="618.00" y1="1177.30" x2="618.00" y2="1183.80" stroke="#000" stroke-width="2.4" />
<line x1="665.67" y1="1177.30" x2="665.67" y2="1183.80" stroke="#000" stroke-width="2.4" />
<line x1="713.34" y1="1177.30" x2="713.34" y2="1183.80" stroke="#000" stroke-width="2.4" />
<line x1="761.01" y1="1177.30" x2="761.01" y2="1183.80" stroke="#000" stroke-width="2.4" />
<line x1="808.68" y1="1177.30" x2="808.68" y2="1183.80" stroke="#000" stroke-width="2.4" />
<line x1="856.35" y1="1177.30" x2="856.35" y2="1183.80" stroke="#000" stroke-width="2.4" />
<line x1="141.30" y1="803.05" x2="141.30" y2="1178.50" stroke="#000" stroke-width="2.6" />
<line x1="133.20" y1="1177.30" x2="141.30" y2="1177.30" stroke="#000" stroke-width="2.4" />
<line x1="133.20" y1="1115.12" x2="141.30" y2="1115.12" stroke="#000" stroke-width="2.4" />
<line x1="133.20" y1="1052.95" x2="141.30" y2="1052.95" stroke="#000" stroke-width="2.4" />
<line x1="133.20" y1="990.77" x2="141.30" y2="990.77" stroke="#000" stroke-width="2.4" />
<line x1="133.20" y1="928.60" x2="141.30" y2="928.60" stroke="#000" stroke-width="2.4" />
<line x1="133.20" y1="866.42" x2="141.30" y2="866.42" stroke="#000" stroke-width="2.4" />
<line x1="133.20" y1="804.25" x2="141.30" y2="804.25" stroke="#000" stroke-width="2.4" />
<text transform="translate(119.60,1186.30) scale(0.965,1)" font-size="27.2" text-anchor="end" fill="#000" stroke="#000" stroke-width="0.4">500</text>
<text transform="translate(119.60,1124.12) scale(0.965,1)" font-size="27.2" text-anchor="end" fill="#000" stroke="#000" stroke-width="0.4"> 000</text>
<path d="M70.99,1124.12 L68.68,1124.12 L68.68,1108.89 Q67.85,1109.71 66.46,1110.54 Q65.18,1111.30 64.07,1111.75 L64.07,1109.44 Q66.00,1108.49 67.44,1107.23 Q68.87,1105.97 69.46,1104.65 L70.99,1104.65 Z" fill="#000" stroke="#000" stroke-width="0.4"/>
<text transform="translate(119.60,1061.95) scale(0.965,1)" font-size="27.2" text-anchor="end" fill="#000" stroke="#000" stroke-width="0.4"> 500</text>
<path d="M70.99,1061.95 L68.68,1061.95 L68.68,1046.72 Q67.85,1047.54 66.46,1048.36 Q65.18,1049.12 64.07,1049.57 L64.07,1047.26 Q66.00,1046.32 67.44,1045.06 Q68.87,1043.79 69.46,1042.48 L70.99,1042.48 Z" fill="#000" stroke="#000" stroke-width="0.4"/>
<text transform="translate(119.60,999.77) scale(0.965,1)" font-size="27.2" text-anchor="end" fill="#000" stroke="#000" stroke-width="0.4">2000</text>
<text transform="translate(119.60,937.60) scale(0.965,1)" font-size="27.2" text-anchor="end" fill="#000" stroke="#000" stroke-width="0.4">2500</text>
<text transform="translate(119.60,875.42) scale(0.965,1)" font-size="27.2" text-anchor="end" fill="#000" stroke="#000" stroke-width="0.4">3000</text>
<text transform="translate(142.00,1223.60) scale(0.965,1)" font-size="27.2" text-anchor="middle" fill="#000" stroke="#000" stroke-width="0.4">0</text>
<text transform="translate(188.90,1223.60) scale(0.965,1)" font-size="27.2" text-anchor="middle" fill="#000" stroke="#000" stroke-width="0.4"> </text>
<path d="M191.38,1223.60 L189.07,1223.60 L189.07,1208.37 Q188.24,1209.19 186.86,1210.01 Q185.57,1210.77 184.46,1211.22 L184.46,1208.91 Q186.39,1207.97 187.83,1206.71 Q189.27,1205.44 189.85,1204.13 L191.38,1204.13 Z" fill="#000" stroke="#000" stroke-width="0.4"/>
<text transform="translate(237.00,1223.60) scale(0.965,1)" font-size="27.2" text-anchor="middle" fill="#000" stroke="#000" stroke-width="0.4">2</text>
<text transform="translate(284.00,1223.60) scale(0.965,1)" font-size="27.2" text-anchor="middle" fill="#000" stroke="#000" stroke-width="0.4">3</text>
<text transform="translate(332.50,1223.60) scale(0.965,1)" font-size="27.2" text-anchor="middle" fill="#000" stroke="#000" stroke-width="0.4">4</text>
<text transform="translate(379.50,1223.60) scale(0.965,1)" font-size="27.2" text-anchor="middle" fill="#000" stroke="#000" stroke-width="0.4">5</text>
<text transform="translate(427.50,1223.60) scale(0.965,1)" font-size="27.2" text-anchor="middle" fill="#000" stroke="#000" stroke-width="0.4">6</text>
<text transform="translate(475.80,1223.60) scale(0.965,1)" font-size="27.2" text-anchor="middle" fill="#000" stroke="#000" stroke-width="0.4">7</text>
<text transform="translate(523.00,1223.60) scale(0.965,1)" font-size="27.2" text-anchor="middle" fill="#000" stroke="#000" stroke-width="0.4">8</text>
<text transform="translate(563.50,1223.60) scale(0.965,1)" font-size="27.2" text-anchor="middle" fill="#000" stroke="#000" stroke-width="0.4">9</text>
<text transform="translate(618.30,1223.60) scale(0.965,1)" font-size="27.2" text-anchor="middle" fill="#000" stroke="#000" stroke-width="0.4"> 0</text>
<path d="M613.48,1223.60 L611.17,1223.60 L611.17,1208.37 Q610.34,1209.19 608.96,1210.01 Q607.68,1210.77 606.56,1211.22 L606.56,1208.91 Q608.50,1207.97 609.93,1206.71 Q611.37,1205.44 611.96,1204.13 L613.48,1204.13 Z" fill="#000" stroke="#000" stroke-width="0.4"/>
<text transform="translate(665.00,1223.60) scale(0.965,1)" font-size="27.2" text-anchor="middle" fill="#000" stroke="#000" stroke-width="0.4">  </text>
<path d="M660.18,1223.60 L657.87,1223.60 L657.87,1208.37 Q657.04,1209.19 655.66,1210.01 Q654.38,1210.77 653.26,1211.22 L653.26,1208.91 Q655.20,1207.97 656.63,1206.71 Q658.07,1205.44 658.66,1204.13 L660.18,1204.13 Z" fill="#000" stroke="#000" stroke-width="0.4"/>
<path d="M674.78,1223.60 L672.47,1223.60 L672.47,1208.37 Q671.64,1209.19 670.25,1210.01 Q668.97,1210.77 667.86,1211.22 L667.86,1208.91 Q669.79,1207.97 671.23,1206.71 Q672.66,1205.44 673.25,1204.13 L674.78,1204.13 Z" fill="#000" stroke="#000" stroke-width="0.4"/>
<text transform="translate(712.00,1223.60) scale(0.965,1)" font-size="27.2" text-anchor="middle" fill="#000" stroke="#000" stroke-width="0.4"> 2</text>
<path d="M707.18,1223.60 L704.87,1223.60 L704.87,1208.37 Q704.04,1209.19 702.66,1210.01 Q701.38,1210.77 700.26,1211.22 L700.26,1208.91 Q702.20,1207.97 703.63,1206.71 Q705.07,1205.44 705.66,1204.13 L707.18,1204.13 Z" fill="#000" stroke="#000" stroke-width="0.4"/>
<text transform="translate(760.20,1223.60) scale(0.965,1)" font-size="27.2" text-anchor="middle" fill="#000" stroke="#000" stroke-width="0.4"> 3</text>
<path d="M755.38,1223.60 L753.07,1223.60 L753.07,1208.37 Q752.24,1209.19 750.86,1210.01 Q749.58,1210.77 748.46,1211.22 L748.46,1208.91 Q750.40,1207.97 751.83,1206.71 Q753.27,1205.44 753.86,1204.13 L755.38,1204.13 Z" fill="#000" stroke="#000" stroke-width="0.4"/>
<text transform="translate(806.00,1223.60) scale(0.965,1)" font-size="27.2" text-anchor="middle" fill="#000" stroke="#000" stroke-width="0.4"> 4</text>
<path d="M801.18,1223.60 L798.87,1223.60 L798.87,1208.37 Q798.04,1209.19 796.66,1210.01 Q795.38,1210.77 794.26,1211.22 L794.26,1208.91 Q796.20,1207.97 797.63,1206.71 Q799.07,1205.44 799.66,1204.13 L801.18,1204.13 Z" fill="#000" stroke="#000" stroke-width="0.4"/>
<text transform="translate(853.00,1223.60) scale(0.965,1)" font-size="27.2" text-anchor="middle" fill="#000" stroke="#000" stroke-width="0.4"> 5</text>
<path d="M848.18,1223.60 L845.87,1223.60 L845.87,1208.37 Q845.04,1209.19 843.66,1210.01 Q842.38,1210.77 841.26,1211.22 L841.26,1208.91 Q843.20,1207.97 844.63,1206.71 Q846.07,1205.44 846.66,1204.13 L848.18,1204.13 Z" fill="#000" stroke="#000" stroke-width="0.4"/>
<g transform="translate(38.20,1140.50) rotate(-90)"><text x="0" y="0" fill="#000" stroke="#000" stroke-width="0.4"><tspan font-size="25.5" dy="-0.00">DO flux (µmol m</tspan><tspan font-size="16.5" dy="-8.00">-2</tspan><tspan font-size="25.5" dy="8.00"> h</tspan><tspan font-size="16.5" dy="-8.00">- </tspan><tspan font-size="25.5" dy="8.00">)</tspan></text><path d="M232.28,-8.00 L230.83,-8.00 L230.83,-17.24 Q230.31,-16.74 229.44,-16.24 Q228.63,-15.78 227.93,-15.51 L227.93,-16.91 Q229.15,-17.48 230.05,-18.25 Q230.95,-19.01 231.32,-19.81 L232.28,-19.81 Z" fill="#000" stroke="#000" stroke-width="0.4"/></g>
<text transform="translate(415,1257.5) scale(0.979,1)" font-size="25.5" stroke="#000" stroke-width="0.4">Day of Experiment</text>
<text x="164.80" y="867.00" font-size="40" text-anchor="start" fill="#000"  stroke="#000" stroke-width="0.4">(c)</text>
<line x1="241.00" y1="856.20" x2="276.00" y2="856.20" stroke="#92d050" stroke-width="5.2" />
<text transform="translate(287.50,864.00)" font-size="26" text-anchor="start" fill="#92d050" stroke="#92d050" stroke-width="0.4">pH 7.99</text>
<line x1="432.70" y1="856.20" x2="468.00" y2="856.20" stroke="#ffff00" stroke-width="5.2" />
<text transform="translate(479.50,864.00)" font-size="26" text-anchor="start" fill="#000" stroke="#000" stroke-width="0.4">pH 7.86</text>
<line x1="616.00" y1="856.20" x2="650.50" y2="856.20" stroke="#ffc000" stroke-width="5.2" />
<text transform="translate(663.00,864.00)" font-size="26" text-anchor="start" fill="#ffc000" stroke="#ffc000" stroke-width="0.4">pH 7.75</text>
<line x1="798.00" y1="856.20" x2="833.00" y2="856.20" stroke="#ff0000" stroke-width="5.2" />
<text transform="translate(843.50,864.00)" font-size="26" text-anchor="start" fill="#ff0000" stroke="#ff0000" stroke-width="0.4">pH 7.6 </text>
<path d="M929.79,864.00 L927.50,864.00 L927.50,849.44 Q926.68,850.23 925.31,851.01 Q924.04,851.74 922.93,852.17 L922.93,849.96 Q924.85,849.06 926.27,847.85 Q927.70,846.65 928.28,845.39 L929.79,845.39 Z" fill="#ff0000" stroke="#ff0000" stroke-width="0.4"/>
</svg>
</body></html>
